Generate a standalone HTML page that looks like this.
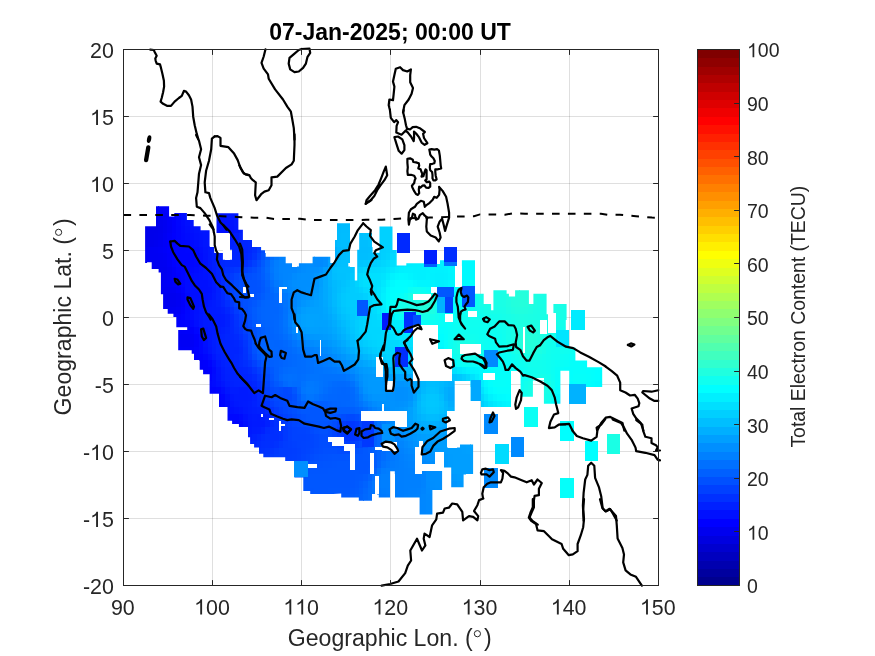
<!DOCTYPE html>
<html><head><meta charset="utf-8"><style>html,body{margin:0;padding:0;background:#fff;overflow:hidden}svg{display:block;will-change:transform}</style></head>
<body><svg width="875" height="656" viewBox="0 0 875 656">
<rect width="875" height="656" fill="#fff"/>
<g stroke="#262626" stroke-opacity="0.15" stroke-width="1"><line x1="212.50" y1="49.5" x2="212.50" y2="585.5"/><line x1="301.50" y1="49.5" x2="301.50" y2="585.5"/><line x1="390.50" y1="49.5" x2="390.50" y2="585.5"/><line x1="480.50" y1="49.5" x2="480.50" y2="585.5"/><line x1="569.50" y1="49.5" x2="569.50" y2="585.5"/><line x1="123.5" y1="518.50" x2="658.5" y2="518.50"/><line x1="123.5" y1="451.50" x2="658.5" y2="451.50"/><line x1="123.5" y1="384.50" x2="658.5" y2="384.50"/><line x1="123.5" y1="317.50" x2="658.5" y2="317.50"/><line x1="123.5" y1="250.50" x2="658.5" y2="250.50"/><line x1="123.5" y1="183.50" x2="658.5" y2="183.50"/><line x1="123.5" y1="116.50" x2="658.5" y2="116.50"/></g>
<clipPath id="cm"><polygon points="145.1,226.3 156.0,226.3 156.0,206.3 169.1,206.3 169.1,216.6 174.3,216.6 174.3,213.1 186.9,213.1 186.9,220.0 193.7,220.0 193.7,226.3 200.6,226.3 200.6,230.3 209.6,230.3 209.6,246.6 214.2,246.6 214.2,253.0 222.9,253.0 222.9,259.8 232.0,259.8 232.0,249.8 229.7,249.8 229.7,232.9 216.5,232.9 216.5,213.2 238.4,213.2 238.4,229.7 242.9,229.7 242.9,240.0 252.0,240.0 252.0,246.9 261.1,246.9 261.1,250.3 265.7,250.3 265.7,256.8 285.7,256.8 285.7,263.2 292.0,263.2 292.0,266.6 298.9,266.6 298.9,263.2 312.6,263.2 312.6,256.8 330.3,256.8 330.3,262.9 335.0,262.9 335.0,239.8 336.9,239.8 336.9,223.2 350.3,223.2 350.3,263.1 348.3,263.1 348.3,266.5 354.8,266.5 354.8,280.4 357.2,280.4 357.2,249.7 359.2,249.7 359.2,232.9 372.6,232.9 372.6,252.7 379.5,252.7 379.5,226.4 392.5,226.4 392.5,249.9 396.7,249.9 396.7,265.5 406.3,265.5 406.3,263.2 424.4,263.2 424.4,266.7 436.7,266.7 436.7,264.0 440.0,264.0 440.0,260.3 455.1,260.3 455.1,266.0 461.9,266.0 461.9,260.3 475.0,260.3 475.0,381.0 454.7,381.0 454.7,411.0 447.0,411.0 447.0,447.4 460.0,447.4 460.0,444.4 473.1,444.4 473.1,474.4 463.6,474.4 463.6,487.2 451.2,487.2 451.2,467.5 442.1,467.5 442.1,490.0 432.4,490.0 432.4,514.4 419.6,514.4 419.6,497.6 394.8,497.6 394.8,471.2 390.0,471.2 390.0,497.6 378.8,497.6 378.8,494.4 372.4,494.4 372.4,500.8 358.8,500.8 358.8,497.6 341.2,497.6 341.2,493.6 325.0,494.5 310.2,494.5 310.2,490.9 303.3,490.9 303.3,477.4 294.4,477.4 294.4,461.0 285.2,461.0 285.2,457.3 263.3,457.3 263.3,453.7 259.0,453.7 259.0,447.6 254.1,447.6 254.1,443.9 250.1,443.9 250.1,437.2 247.9,437.2 247.9,427.4 238.9,427.4 238.9,423.9 232.1,423.9 232.1,420.7 227.5,420.7 227.5,407.0 219.0,407.0 219.0,393.7 209.6,393.7 209.6,374.3 203.1,374.3 203.1,369.7 199.7,369.7 199.7,360.6 194.0,360.6 194.0,353.7 191.7,353.7 191.7,350.3 178.2,350.3 178.2,330.1 187.2,330.1 187.2,327.3 176.3,327.3 176.3,317.1 173.4,317.1 173.4,313.7 167.7,313.7 167.7,309.1 163.1,309.1 163.1,294.3 160.9,294.3 160.9,272.6 158.6,272.6 158.6,269.1 151.7,269.1 151.7,262.3 147.1,262.3 147.1,262.9 145.1,262.9"/><polygon points="475.0,293.7 483.7,293.7 483.7,304.0 491.1,304.0 491.1,310.3 493.4,310.3 493.4,290.3 506.6,290.3 506.6,293.7 508.9,293.7 508.9,296.6 515.1,296.6 515.1,290.3 528.9,290.3 528.9,304.0 533.4,304.0 533.4,293.7 546.6,293.7 546.6,314.3 553.4,314.3 553.4,304.0 566.6,304.0 566.6,320.0 565.8,320.0 565.8,330.3 568.6,330.3 568.6,347.4 575.4,347.4 575.4,360.5 587.1,360.5 587.1,367.3 602.2,367.3 602.2,387.2 586.4,387.2 586.4,403.7 569.3,403.7 569.3,370.8 560.4,370.8 560.4,403.7 543.9,403.7 543.9,380.4 532.9,380.4 532.9,396.8 520.6,396.8 520.6,372.1 511.0,372.1 511.0,406.9 480.9,406.9 480.9,400.9 470.6,400.9 470.6,380.3 475.0,380.3"/></clipPath>
<g clip-path="url(#cm)" shape-rendering="crispEdges"><rect x="154.01" y="206.30" width="4.51" height="6.75" fill="#0000f4"/><rect x="158.47" y="206.30" width="4.51" height="6.75" fill="#0000f6"/><rect x="162.93" y="206.30" width="4.51" height="6.75" fill="#0000fa"/><rect x="167.38" y="206.30" width="4.51" height="6.75" fill="#0000ff"/><rect x="154.01" y="213.00" width="4.51" height="6.75" fill="#0000ef"/><rect x="158.47" y="213.00" width="4.51" height="6.75" fill="#0000f1"/><rect x="162.93" y="213.00" width="4.51" height="6.75" fill="#0000f5"/><rect x="167.38" y="213.00" width="4.51" height="6.75" fill="#0000fa"/><rect x="171.84" y="213.00" width="4.51" height="6.75" fill="#0001ff"/><rect x="176.30" y="213.00" width="4.51" height="6.75" fill="#0007ff"/><rect x="180.76" y="213.00" width="4.51" height="6.75" fill="#000dff"/><rect x="185.21" y="213.00" width="4.51" height="6.75" fill="#0011ff"/><rect x="216.41" y="213.00" width="4.51" height="6.75" fill="#0014ff"/><rect x="220.87" y="213.00" width="4.51" height="6.75" fill="#0013ff"/><rect x="225.33" y="213.00" width="4.51" height="6.75" fill="#0014ff"/><rect x="229.78" y="213.00" width="4.51" height="6.75" fill="#0016ff"/><rect x="234.24" y="213.00" width="4.51" height="6.75" fill="#001aff"/><rect x="154.01" y="219.70" width="4.51" height="6.75" fill="#0000ec"/><rect x="158.47" y="219.70" width="4.51" height="6.75" fill="#0000ee"/><rect x="162.93" y="219.70" width="4.51" height="6.75" fill="#0000f1"/><rect x="167.38" y="219.70" width="4.51" height="6.75" fill="#0000f7"/><rect x="171.84" y="219.70" width="4.51" height="6.75" fill="#0000fd"/><rect x="176.30" y="219.70" width="4.51" height="6.75" fill="#0005ff"/><rect x="180.76" y="219.70" width="4.51" height="6.75" fill="#000aff"/><rect x="185.21" y="219.70" width="4.51" height="6.75" fill="#000fff"/><rect x="189.67" y="219.70" width="4.51" height="6.75" fill="#0013ff"/><rect x="216.41" y="219.70" width="4.51" height="6.75" fill="#0011ff"/><rect x="220.87" y="219.70" width="8.96" height="6.75" fill="#0010ff"/><rect x="229.78" y="219.70" width="4.51" height="6.75" fill="#0012ff"/><rect x="234.24" y="219.70" width="4.51" height="6.75" fill="#0016ff"/><rect x="336.75" y="219.70" width="4.51" height="6.75" fill="#00b9ff"/><rect x="341.21" y="219.70" width="4.51" height="6.75" fill="#00bbff"/><rect x="345.66" y="219.70" width="4.51" height="6.75" fill="#00bcff"/><rect x="145.10" y="226.40" width="13.42" height="6.75" fill="#0000eb"/><rect x="158.47" y="226.40" width="4.51" height="6.75" fill="#0000ed"/><rect x="162.93" y="226.40" width="4.51" height="6.75" fill="#0000f1"/><rect x="167.38" y="226.40" width="4.51" height="6.75" fill="#0000f6"/><rect x="171.84" y="226.40" width="4.51" height="6.75" fill="#0000fd"/><rect x="176.30" y="226.40" width="4.51" height="6.75" fill="#0004ff"/><rect x="180.76" y="226.40" width="4.51" height="6.75" fill="#0009ff"/><rect x="185.21" y="226.40" width="4.51" height="6.75" fill="#000dff"/><rect x="189.67" y="226.40" width="4.51" height="6.75" fill="#0010ff"/><rect x="194.13" y="226.40" width="4.51" height="6.75" fill="#0013ff"/><rect x="198.58" y="226.40" width="8.96" height="6.75" fill="#0015ff"/><rect x="207.50" y="226.40" width="4.51" height="6.75" fill="#0013ff"/><rect x="216.41" y="226.40" width="4.51" height="6.75" fill="#0010ff"/><rect x="220.87" y="226.40" width="8.96" height="6.75" fill="#000fff"/><rect x="229.78" y="226.40" width="4.51" height="6.75" fill="#0011ff"/><rect x="234.24" y="226.40" width="4.51" height="6.75" fill="#0015ff"/><rect x="238.70" y="226.40" width="4.51" height="6.75" fill="#001cff"/><rect x="336.75" y="226.40" width="4.51" height="6.75" fill="#00bbff"/><rect x="341.21" y="226.40" width="8.96" height="6.75" fill="#00bcff"/><rect x="376.86" y="226.40" width="4.51" height="6.75" fill="#00d0ff"/><rect x="381.32" y="226.40" width="13.42" height="6.75" fill="#00d1ff"/><rect x="145.10" y="233.10" width="8.96" height="6.75" fill="#0000eb"/><rect x="154.01" y="233.10" width="4.51" height="6.75" fill="#0000ec"/><rect x="158.47" y="233.10" width="4.51" height="6.75" fill="#0000ee"/><rect x="162.93" y="233.10" width="4.51" height="6.75" fill="#0000f3"/><rect x="167.38" y="233.10" width="4.51" height="6.75" fill="#0000f9"/><rect x="171.84" y="233.10" width="4.51" height="6.75" fill="#0000ff"/><rect x="176.30" y="233.10" width="4.51" height="6.75" fill="#0004ff"/><rect x="180.76" y="233.10" width="4.51" height="6.75" fill="#0008ff"/><rect x="185.21" y="233.10" width="4.51" height="6.75" fill="#000bff"/><rect x="189.67" y="233.10" width="4.51" height="6.75" fill="#000eff"/><rect x="194.13" y="233.10" width="4.51" height="6.75" fill="#0011ff"/><rect x="198.58" y="233.10" width="4.51" height="6.75" fill="#0013ff"/><rect x="203.04" y="233.10" width="4.51" height="6.75" fill="#0015ff"/><rect x="207.50" y="233.10" width="4.51" height="6.75" fill="#0014ff"/><rect x="229.78" y="233.10" width="4.51" height="6.75" fill="#0015ff"/><rect x="234.24" y="233.10" width="4.51" height="6.75" fill="#001bff"/><rect x="238.70" y="233.10" width="4.51" height="6.75" fill="#0021ff"/><rect x="336.75" y="233.10" width="4.51" height="6.75" fill="#00bcff"/><rect x="341.21" y="233.10" width="8.96" height="6.75" fill="#00bdff"/><rect x="359.04" y="233.10" width="4.51" height="6.75" fill="#00c0ff"/><rect x="363.49" y="233.10" width="4.51" height="6.75" fill="#00c3ff"/><rect x="367.95" y="233.10" width="4.51" height="6.75" fill="#00c7ff"/><rect x="376.86" y="233.10" width="4.51" height="6.75" fill="#00d0ff"/><rect x="381.32" y="233.10" width="13.42" height="6.75" fill="#00d1ff"/><rect x="145.10" y="239.80" width="8.96" height="6.75" fill="#0000ee"/><rect x="154.01" y="239.80" width="4.51" height="6.75" fill="#0000f0"/><rect x="158.47" y="239.80" width="4.51" height="6.75" fill="#0000f3"/><rect x="162.93" y="239.80" width="4.51" height="6.75" fill="#0000f8"/><rect x="167.38" y="239.80" width="4.51" height="6.75" fill="#0000fd"/><rect x="171.84" y="239.80" width="4.51" height="6.75" fill="#0002ff"/><rect x="176.30" y="239.80" width="4.51" height="6.75" fill="#0005ff"/><rect x="180.76" y="239.80" width="4.51" height="6.75" fill="#0007ff"/><rect x="185.21" y="239.80" width="4.51" height="6.75" fill="#0008ff"/><rect x="189.67" y="239.80" width="4.51" height="6.75" fill="#000aff"/><rect x="194.13" y="239.80" width="4.51" height="6.75" fill="#000dff"/><rect x="198.58" y="239.80" width="4.51" height="6.75" fill="#0011ff"/><rect x="203.04" y="239.80" width="4.51" height="6.75" fill="#0015ff"/><rect x="207.50" y="239.80" width="4.51" height="6.75" fill="#0016ff"/><rect x="229.78" y="239.80" width="4.51" height="6.75" fill="#0020ff"/><rect x="234.24" y="239.80" width="4.51" height="6.75" fill="#0023ff"/><rect x="238.70" y="239.80" width="4.51" height="6.75" fill="#0024ff"/><rect x="243.15" y="239.80" width="4.51" height="6.75" fill="#0025ff"/><rect x="247.61" y="239.80" width="4.51" height="6.75" fill="#0027ff"/><rect x="332.29" y="239.80" width="4.51" height="6.75" fill="#00b8ff"/><rect x="336.75" y="239.80" width="4.51" height="6.75" fill="#00bcff"/><rect x="341.21" y="239.80" width="8.96" height="6.75" fill="#00bdff"/><rect x="359.04" y="239.80" width="8.96" height="6.75" fill="#00beff"/><rect x="367.95" y="239.80" width="4.51" height="6.75" fill="#00c1ff"/><rect x="376.86" y="239.80" width="4.51" height="6.75" fill="#00d0ff"/><rect x="381.32" y="239.80" width="13.42" height="6.75" fill="#00d1ff"/><rect x="145.10" y="246.50" width="4.51" height="6.75" fill="#0000f3"/><rect x="149.56" y="246.50" width="4.51" height="6.75" fill="#0000f4"/><rect x="154.01" y="246.50" width="4.51" height="6.75" fill="#0000f5"/><rect x="158.47" y="246.50" width="4.51" height="6.75" fill="#0000f7"/><rect x="162.93" y="246.50" width="4.51" height="6.75" fill="#0000fa"/><rect x="167.38" y="246.50" width="4.51" height="6.75" fill="#0000fe"/><rect x="171.84" y="246.50" width="4.51" height="6.75" fill="#0003ff"/><rect x="176.30" y="246.50" width="8.96" height="6.75" fill="#0005ff"/><rect x="185.21" y="246.50" width="4.51" height="6.75" fill="#0006ff"/><rect x="189.67" y="246.50" width="4.51" height="6.75" fill="#0007ff"/><rect x="194.13" y="246.50" width="4.51" height="6.75" fill="#000aff"/><rect x="198.58" y="246.50" width="4.51" height="6.75" fill="#000eff"/><rect x="203.04" y="246.50" width="4.51" height="6.75" fill="#0013ff"/><rect x="207.50" y="246.50" width="4.51" height="6.75" fill="#0018ff"/><rect x="211.95" y="246.50" width="4.51" height="6.75" fill="#001bff"/><rect x="229.78" y="246.50" width="17.88" height="6.75" fill="#0024ff"/><rect x="247.61" y="246.50" width="4.51" height="6.75" fill="#0027ff"/><rect x="252.07" y="246.50" width="4.51" height="6.75" fill="#002eff"/><rect x="256.52" y="246.50" width="4.51" height="6.75" fill="#003aff"/><rect x="260.98" y="246.50" width="4.51" height="6.75" fill="#004aff"/><rect x="332.29" y="246.50" width="4.51" height="6.75" fill="#00b0ff"/><rect x="336.75" y="246.50" width="4.51" height="6.75" fill="#00b8ff"/><rect x="341.21" y="246.50" width="4.51" height="6.75" fill="#00bbff"/><rect x="345.66" y="246.50" width="4.51" height="6.75" fill="#00bcff"/><rect x="354.58" y="246.50" width="13.42" height="6.75" fill="#00bdff"/><rect x="367.95" y="246.50" width="4.51" height="6.75" fill="#00beff"/><rect x="372.41" y="246.50" width="4.51" height="6.75" fill="#00c3ff"/><rect x="376.86" y="246.50" width="4.51" height="6.75" fill="#00cbff"/><rect x="381.32" y="246.50" width="4.51" height="6.75" fill="#00cfff"/><rect x="385.78" y="246.50" width="4.51" height="6.75" fill="#00d1ff"/><rect x="390.24" y="246.50" width="4.51" height="6.75" fill="#00d2ff"/><rect x="394.69" y="246.50" width="4.51" height="6.75" fill="#00d4ff"/><rect x="145.10" y="253.20" width="4.51" height="6.75" fill="#0000f5"/><rect x="149.56" y="253.20" width="8.96" height="6.75" fill="#0000f4"/><rect x="158.47" y="253.20" width="4.51" height="6.75" fill="#0000f5"/><rect x="162.93" y="253.20" width="4.51" height="6.75" fill="#0000f7"/><rect x="167.38" y="253.20" width="4.51" height="6.75" fill="#0000fc"/><rect x="171.84" y="253.20" width="4.51" height="6.75" fill="#0003ff"/><rect x="176.30" y="253.20" width="13.42" height="6.75" fill="#0005ff"/><rect x="189.67" y="253.20" width="4.51" height="6.75" fill="#0006ff"/><rect x="194.13" y="253.20" width="4.51" height="6.75" fill="#0008ff"/><rect x="198.58" y="253.20" width="4.51" height="6.75" fill="#000cff"/><rect x="203.04" y="253.20" width="4.51" height="6.75" fill="#0012ff"/><rect x="207.50" y="253.20" width="4.51" height="6.75" fill="#0018ff"/><rect x="211.95" y="253.20" width="4.51" height="6.75" fill="#001dff"/><rect x="216.41" y="253.20" width="4.51" height="6.75" fill="#0021ff"/><rect x="220.87" y="253.20" width="4.51" height="6.75" fill="#0024ff"/><rect x="229.78" y="253.20" width="13.42" height="6.75" fill="#0025ff"/><rect x="243.15" y="253.20" width="4.51" height="6.75" fill="#0026ff"/><rect x="247.61" y="253.20" width="4.51" height="6.75" fill="#002aff"/><rect x="252.07" y="253.20" width="4.51" height="6.75" fill="#0033ff"/><rect x="256.52" y="253.20" width="4.51" height="6.75" fill="#0041ff"/><rect x="260.98" y="253.20" width="4.51" height="6.75" fill="#0051ff"/><rect x="265.44" y="253.20" width="4.51" height="6.75" fill="#0061ff"/><rect x="269.90" y="253.20" width="4.51" height="6.75" fill="#006fff"/><rect x="274.35" y="253.20" width="4.51" height="6.75" fill="#0079ff"/><rect x="278.81" y="253.20" width="4.51" height="6.75" fill="#0080ff"/><rect x="283.27" y="253.20" width="4.51" height="6.75" fill="#0083ff"/><rect x="310.01" y="253.20" width="4.51" height="6.75" fill="#008cff"/><rect x="314.47" y="253.20" width="8.96" height="6.75" fill="#008aff"/><rect x="323.38" y="253.20" width="4.51" height="6.75" fill="#008dff"/><rect x="327.84" y="253.20" width="4.51" height="6.75" fill="#009aff"/><rect x="332.29" y="253.20" width="4.51" height="6.75" fill="#00acff"/><rect x="336.75" y="253.20" width="4.51" height="6.75" fill="#00b7ff"/><rect x="341.21" y="253.20" width="4.51" height="6.75" fill="#00bbff"/><rect x="345.66" y="253.20" width="4.51" height="6.75" fill="#00bdff"/><rect x="354.58" y="253.20" width="4.51" height="6.75" fill="#00bfff"/><rect x="359.04" y="253.20" width="8.96" height="6.75" fill="#00beff"/><rect x="367.95" y="253.20" width="4.51" height="6.75" fill="#00c0ff"/><rect x="372.41" y="253.20" width="4.51" height="6.75" fill="#00c5ff"/><rect x="376.86" y="253.20" width="4.51" height="6.75" fill="#00cbff"/><rect x="381.32" y="253.20" width="4.51" height="6.75" fill="#00d0ff"/><rect x="385.78" y="253.20" width="4.51" height="6.75" fill="#00d3ff"/><rect x="390.24" y="253.20" width="4.51" height="6.75" fill="#00d7ff"/><rect x="394.69" y="253.20" width="4.51" height="6.75" fill="#00daff"/><rect x="145.10" y="259.90" width="4.51" height="6.75" fill="#0000f3"/><rect x="149.56" y="259.90" width="4.51" height="6.75" fill="#0000f2"/><rect x="154.01" y="259.90" width="8.96" height="6.75" fill="#0000f1"/><rect x="162.93" y="259.90" width="4.51" height="6.75" fill="#0000f2"/><rect x="167.38" y="259.90" width="4.51" height="6.75" fill="#0000f7"/><rect x="171.84" y="259.90" width="4.51" height="6.75" fill="#0001ff"/><rect x="176.30" y="259.90" width="13.42" height="6.75" fill="#0005ff"/><rect x="189.67" y="259.90" width="4.51" height="6.75" fill="#0006ff"/><rect x="194.13" y="259.90" width="4.51" height="6.75" fill="#0008ff"/><rect x="198.58" y="259.90" width="4.51" height="6.75" fill="#000cff"/><rect x="203.04" y="259.90" width="4.51" height="6.75" fill="#0012ff"/><rect x="207.50" y="259.90" width="4.51" height="6.75" fill="#0018ff"/><rect x="211.95" y="259.90" width="4.51" height="6.75" fill="#001eff"/><rect x="216.41" y="259.90" width="4.51" height="6.75" fill="#0023ff"/><rect x="220.87" y="259.90" width="4.51" height="6.75" fill="#0027ff"/><rect x="225.33" y="259.90" width="4.51" height="6.75" fill="#0029ff"/><rect x="229.78" y="259.90" width="8.96" height="6.75" fill="#002aff"/><rect x="238.70" y="259.90" width="4.51" height="6.75" fill="#002cff"/><rect x="243.15" y="259.90" width="4.51" height="6.75" fill="#002fff"/><rect x="247.61" y="259.90" width="4.51" height="6.75" fill="#0036ff"/><rect x="252.07" y="259.90" width="4.51" height="6.75" fill="#0040ff"/><rect x="256.52" y="259.90" width="4.51" height="6.75" fill="#004cff"/><rect x="260.98" y="259.90" width="4.51" height="6.75" fill="#005aff"/><rect x="265.44" y="259.90" width="4.51" height="6.75" fill="#0068ff"/><rect x="269.90" y="259.90" width="4.51" height="6.75" fill="#0075ff"/><rect x="274.35" y="259.90" width="4.51" height="6.75" fill="#007eff"/><rect x="278.81" y="259.90" width="4.51" height="6.75" fill="#0083ff"/><rect x="283.27" y="259.90" width="4.51" height="6.75" fill="#0084ff"/><rect x="287.72" y="259.90" width="4.51" height="6.75" fill="#0085ff"/><rect x="296.64" y="259.90" width="4.51" height="6.75" fill="#0088ff"/><rect x="301.10" y="259.90" width="4.51" height="6.75" fill="#008bff"/><rect x="305.55" y="259.90" width="4.51" height="6.75" fill="#008dff"/><rect x="310.01" y="259.90" width="4.51" height="6.75" fill="#008cff"/><rect x="314.47" y="259.90" width="8.96" height="6.75" fill="#008aff"/><rect x="323.38" y="259.90" width="4.51" height="6.75" fill="#008eff"/><rect x="327.84" y="259.90" width="4.51" height="6.75" fill="#00a2ff"/><rect x="332.29" y="259.90" width="4.51" height="6.75" fill="#00b8ff"/><rect x="336.75" y="259.90" width="4.51" height="6.75" fill="#00bfff"/><rect x="341.21" y="259.90" width="8.96" height="6.75" fill="#00c0ff"/><rect x="354.58" y="259.90" width="4.51" height="6.75" fill="#00c4ff"/><rect x="359.04" y="259.90" width="4.51" height="6.75" fill="#00c6ff"/><rect x="363.49" y="259.90" width="4.51" height="6.75" fill="#00c8ff"/><rect x="367.95" y="259.90" width="4.51" height="6.75" fill="#00cbff"/><rect x="372.41" y="259.90" width="4.51" height="6.75" fill="#00cfff"/><rect x="376.86" y="259.90" width="4.51" height="6.75" fill="#00d2ff"/><rect x="381.32" y="259.90" width="4.51" height="6.75" fill="#00d6ff"/><rect x="385.78" y="259.90" width="4.51" height="6.75" fill="#00daff"/><rect x="390.24" y="259.90" width="4.51" height="6.75" fill="#00dfff"/><rect x="394.69" y="259.90" width="4.51" height="6.75" fill="#00e3ff"/><rect x="399.15" y="259.90" width="4.51" height="6.75" fill="#00e8ff"/><rect x="403.61" y="259.90" width="4.51" height="6.75" fill="#00ecff"/><rect x="408.06" y="259.90" width="4.51" height="6.75" fill="#00eeff"/><rect x="412.52" y="259.90" width="4.51" height="6.75" fill="#00efff"/><rect x="416.98" y="259.90" width="8.96" height="6.75" fill="#00f0ff"/><rect x="434.80" y="259.90" width="8.96" height="6.75" fill="#00f2ff"/><rect x="443.72" y="259.90" width="4.51" height="6.75" fill="#00f4ff"/><rect x="448.18" y="259.90" width="4.51" height="6.75" fill="#00f5ff"/><rect x="452.63" y="259.90" width="4.51" height="6.75" fill="#00f7ff"/><rect x="457.09" y="259.90" width="4.51" height="6.75" fill="#00f9ff"/><rect x="461.55" y="259.90" width="13.42" height="6.75" fill="#00faff"/><rect x="149.56" y="266.60" width="4.51" height="6.75" fill="#0000f1"/><rect x="154.01" y="266.60" width="13.42" height="6.75" fill="#0000f0"/><rect x="167.38" y="266.60" width="4.51" height="6.75" fill="#0000f4"/><rect x="171.84" y="266.60" width="4.51" height="6.75" fill="#0000fb"/><rect x="176.30" y="266.60" width="4.51" height="6.75" fill="#0003ff"/><rect x="180.76" y="266.60" width="4.51" height="6.75" fill="#0005ff"/><rect x="185.21" y="266.60" width="4.51" height="6.75" fill="#0006ff"/><rect x="189.67" y="266.60" width="4.51" height="6.75" fill="#0008ff"/><rect x="194.13" y="266.60" width="4.51" height="6.75" fill="#000bff"/><rect x="198.58" y="266.60" width="4.51" height="6.75" fill="#000fff"/><rect x="203.04" y="266.60" width="4.51" height="6.75" fill="#0013ff"/><rect x="207.50" y="266.60" width="4.51" height="6.75" fill="#0017ff"/><rect x="211.95" y="266.60" width="4.51" height="6.75" fill="#001dff"/><rect x="216.41" y="266.60" width="4.51" height="6.75" fill="#0023ff"/><rect x="220.87" y="266.60" width="4.51" height="6.75" fill="#0029ff"/><rect x="225.33" y="266.60" width="4.51" height="6.75" fill="#002fff"/><rect x="229.78" y="266.60" width="4.51" height="6.75" fill="#0033ff"/><rect x="234.24" y="266.60" width="4.51" height="6.75" fill="#0037ff"/><rect x="238.70" y="266.60" width="4.51" height="6.75" fill="#003bff"/><rect x="243.15" y="266.60" width="4.51" height="6.75" fill="#0040ff"/><rect x="247.61" y="266.60" width="4.51" height="6.75" fill="#0046ff"/><rect x="252.07" y="266.60" width="4.51" height="6.75" fill="#004cff"/><rect x="256.52" y="266.60" width="4.51" height="6.75" fill="#0054ff"/><rect x="260.98" y="266.60" width="4.51" height="6.75" fill="#005fff"/><rect x="265.44" y="266.60" width="4.51" height="6.75" fill="#006bff"/><rect x="269.90" y="266.60" width="4.51" height="6.75" fill="#0077ff"/><rect x="274.35" y="266.60" width="4.51" height="6.75" fill="#007fff"/><rect x="278.81" y="266.60" width="4.51" height="6.75" fill="#0084ff"/><rect x="283.27" y="266.60" width="13.42" height="6.75" fill="#0085ff"/><rect x="296.64" y="266.60" width="4.51" height="6.75" fill="#0089ff"/><rect x="301.10" y="266.60" width="4.51" height="6.75" fill="#008cff"/><rect x="305.55" y="266.60" width="4.51" height="6.75" fill="#008eff"/><rect x="310.01" y="266.60" width="4.51" height="6.75" fill="#008fff"/><rect x="314.47" y="266.60" width="4.51" height="6.75" fill="#0090ff"/><rect x="318.92" y="266.60" width="4.51" height="6.75" fill="#0093ff"/><rect x="323.38" y="266.60" width="4.51" height="6.75" fill="#009eff"/><rect x="327.84" y="266.60" width="4.51" height="6.75" fill="#00b3ff"/><rect x="332.29" y="266.60" width="4.51" height="6.75" fill="#00c0ff"/><rect x="336.75" y="266.60" width="13.42" height="6.75" fill="#00c2ff"/><rect x="350.12" y="266.60" width="4.51" height="6.75" fill="#00c4ff"/><rect x="354.58" y="266.60" width="4.51" height="6.75" fill="#00cbff"/><rect x="359.04" y="266.60" width="4.51" height="6.75" fill="#00d2ff"/><rect x="363.49" y="266.60" width="4.51" height="6.75" fill="#00d8ff"/><rect x="367.95" y="266.60" width="8.96" height="6.75" fill="#00dbff"/><rect x="376.86" y="266.60" width="4.51" height="6.75" fill="#00dcff"/><rect x="381.32" y="266.60" width="4.51" height="6.75" fill="#00deff"/><rect x="385.78" y="266.60" width="4.51" height="6.75" fill="#00e3ff"/><rect x="390.24" y="266.60" width="4.51" height="6.75" fill="#00e8ff"/><rect x="394.69" y="266.60" width="4.51" height="6.75" fill="#00edff"/><rect x="399.15" y="266.60" width="4.51" height="6.75" fill="#00f0ff"/><rect x="403.61" y="266.60" width="8.96" height="6.75" fill="#00f1ff"/><rect x="412.52" y="266.60" width="13.42" height="6.75" fill="#00f0ff"/><rect x="425.89" y="266.60" width="4.51" height="6.75" fill="#00f1ff"/><rect x="430.35" y="266.60" width="4.51" height="6.75" fill="#00f2ff"/><rect x="434.80" y="266.60" width="8.96" height="6.75" fill="#00f1ff"/><rect x="443.72" y="266.60" width="4.51" height="6.75" fill="#00f2ff"/><rect x="448.18" y="266.60" width="4.51" height="6.75" fill="#00f5ff"/><rect x="452.63" y="266.60" width="4.51" height="6.75" fill="#00f7ff"/><rect x="457.09" y="266.60" width="4.51" height="6.75" fill="#00f9ff"/><rect x="461.55" y="266.60" width="13.42" height="6.75" fill="#00faff"/><rect x="158.47" y="273.30" width="4.51" height="6.75" fill="#0000f0"/><rect x="162.93" y="273.30" width="4.51" height="6.75" fill="#0000f1"/><rect x="167.38" y="273.30" width="4.51" height="6.75" fill="#0000f5"/><rect x="171.84" y="273.30" width="4.51" height="6.75" fill="#0000fa"/><rect x="176.30" y="273.30" width="4.51" height="6.75" fill="#0001ff"/><rect x="180.76" y="273.30" width="4.51" height="6.75" fill="#0005ff"/><rect x="185.21" y="273.30" width="4.51" height="6.75" fill="#0009ff"/><rect x="189.67" y="273.30" width="4.51" height="6.75" fill="#000cff"/><rect x="194.13" y="273.30" width="4.51" height="6.75" fill="#000eff"/><rect x="198.58" y="273.30" width="4.51" height="6.75" fill="#0010ff"/><rect x="203.04" y="273.30" width="4.51" height="6.75" fill="#0012ff"/><rect x="207.50" y="273.30" width="4.51" height="6.75" fill="#0015ff"/><rect x="211.95" y="273.30" width="4.51" height="6.75" fill="#001bff"/><rect x="216.41" y="273.30" width="4.51" height="6.75" fill="#0022ff"/><rect x="220.87" y="273.30" width="4.51" height="6.75" fill="#002bff"/><rect x="225.33" y="273.30" width="4.51" height="6.75" fill="#0033ff"/><rect x="229.78" y="273.30" width="4.51" height="6.75" fill="#003bff"/><rect x="234.24" y="273.30" width="4.51" height="6.75" fill="#0043ff"/><rect x="238.70" y="273.30" width="4.51" height="6.75" fill="#0049ff"/><rect x="243.15" y="273.30" width="4.51" height="6.75" fill="#004dff"/><rect x="247.61" y="273.30" width="4.51" height="6.75" fill="#004fff"/><rect x="252.07" y="273.30" width="4.51" height="6.75" fill="#0052ff"/><rect x="256.52" y="273.30" width="4.51" height="6.75" fill="#0056ff"/><rect x="260.98" y="273.30" width="4.51" height="6.75" fill="#005eff"/><rect x="265.44" y="273.30" width="4.51" height="6.75" fill="#0068ff"/><rect x="269.90" y="273.30" width="4.51" height="6.75" fill="#0074ff"/><rect x="274.35" y="273.30" width="4.51" height="6.75" fill="#007eff"/><rect x="278.81" y="273.30" width="4.51" height="6.75" fill="#0083ff"/><rect x="283.27" y="273.30" width="4.51" height="6.75" fill="#0085ff"/><rect x="287.72" y="273.30" width="4.51" height="6.75" fill="#0086ff"/><rect x="292.18" y="273.30" width="4.51" height="6.75" fill="#008bff"/><rect x="296.64" y="273.30" width="4.51" height="6.75" fill="#008eff"/><rect x="301.10" y="273.30" width="8.96" height="6.75" fill="#008fff"/><rect x="310.01" y="273.30" width="4.51" height="6.75" fill="#0091ff"/><rect x="314.47" y="273.30" width="4.51" height="6.75" fill="#0095ff"/><rect x="318.92" y="273.30" width="4.51" height="6.75" fill="#009dff"/><rect x="323.38" y="273.30" width="4.51" height="6.75" fill="#00a8ff"/><rect x="327.84" y="273.30" width="4.51" height="6.75" fill="#00b5ff"/><rect x="332.29" y="273.30" width="4.51" height="6.75" fill="#00beff"/><rect x="336.75" y="273.30" width="8.96" height="6.75" fill="#00c1ff"/><rect x="345.66" y="273.30" width="4.51" height="6.75" fill="#00c3ff"/><rect x="350.12" y="273.30" width="4.51" height="6.75" fill="#00c8ff"/><rect x="354.58" y="273.30" width="4.51" height="6.75" fill="#00d1ff"/><rect x="359.04" y="273.30" width="4.51" height="6.75" fill="#00dbff"/><rect x="363.49" y="273.30" width="4.51" height="6.75" fill="#00dfff"/><rect x="367.95" y="273.30" width="13.42" height="6.75" fill="#00e0ff"/><rect x="381.32" y="273.30" width="4.51" height="6.75" fill="#00e3ff"/><rect x="385.78" y="273.30" width="4.51" height="6.75" fill="#00eaff"/><rect x="390.24" y="273.30" width="4.51" height="6.75" fill="#00f2ff"/><rect x="394.69" y="273.30" width="4.51" height="6.75" fill="#00f6ff"/><rect x="399.15" y="273.30" width="4.51" height="6.75" fill="#00f8ff"/><rect x="403.61" y="273.30" width="4.51" height="6.75" fill="#00f7ff"/><rect x="408.06" y="273.30" width="4.51" height="6.75" fill="#00f4ff"/><rect x="412.52" y="273.30" width="4.51" height="6.75" fill="#00f1ff"/><rect x="416.98" y="273.30" width="8.96" height="6.75" fill="#00f0ff"/><rect x="425.89" y="273.30" width="4.51" height="6.75" fill="#00f2ff"/><rect x="430.35" y="273.30" width="4.51" height="6.75" fill="#00f1ff"/><rect x="434.80" y="273.30" width="8.96" height="6.75" fill="#00f0ff"/><rect x="443.72" y="273.30" width="4.51" height="6.75" fill="#00f1ff"/><rect x="448.18" y="273.30" width="4.51" height="6.75" fill="#00f4ff"/><rect x="452.63" y="273.30" width="4.51" height="6.75" fill="#00f7ff"/><rect x="457.09" y="273.30" width="17.88" height="6.75" fill="#00faff"/><rect x="158.47" y="280.00" width="4.51" height="6.75" fill="#0000f4"/><rect x="162.93" y="280.00" width="4.51" height="6.75" fill="#0000f5"/><rect x="167.38" y="280.00" width="4.51" height="6.75" fill="#0000f7"/><rect x="171.84" y="280.00" width="4.51" height="6.75" fill="#0000fa"/><rect x="176.30" y="280.00" width="4.51" height="6.75" fill="#0000fe"/><rect x="180.76" y="280.00" width="4.51" height="6.75" fill="#0005ff"/><rect x="185.21" y="280.00" width="4.51" height="6.75" fill="#000bff"/><rect x="189.67" y="280.00" width="4.51" height="6.75" fill="#000eff"/><rect x="194.13" y="280.00" width="4.51" height="6.75" fill="#000fff"/><rect x="198.58" y="280.00" width="8.96" height="6.75" fill="#0010ff"/><rect x="207.50" y="280.00" width="4.51" height="6.75" fill="#0013ff"/><rect x="211.95" y="280.00" width="4.51" height="6.75" fill="#0018ff"/><rect x="216.41" y="280.00" width="4.51" height="6.75" fill="#0020ff"/><rect x="220.87" y="280.00" width="4.51" height="6.75" fill="#002bff"/><rect x="225.33" y="280.00" width="4.51" height="6.75" fill="#0036ff"/><rect x="229.78" y="280.00" width="4.51" height="6.75" fill="#0041ff"/><rect x="234.24" y="280.00" width="4.51" height="6.75" fill="#004aff"/><rect x="238.70" y="280.00" width="4.51" height="6.75" fill="#004fff"/><rect x="243.15" y="280.00" width="4.51" height="6.75" fill="#0051ff"/><rect x="247.61" y="280.00" width="8.96" height="6.75" fill="#0052ff"/><rect x="256.52" y="280.00" width="4.51" height="6.75" fill="#0054ff"/><rect x="260.98" y="280.00" width="4.51" height="6.75" fill="#005aff"/><rect x="265.44" y="280.00" width="4.51" height="6.75" fill="#0064ff"/><rect x="269.90" y="280.00" width="4.51" height="6.75" fill="#006fff"/><rect x="274.35" y="280.00" width="4.51" height="6.75" fill="#0079ff"/><rect x="278.81" y="280.00" width="4.51" height="6.75" fill="#0080ff"/><rect x="283.27" y="280.00" width="4.51" height="6.75" fill="#0086ff"/><rect x="287.72" y="280.00" width="4.51" height="6.75" fill="#008aff"/><rect x="292.18" y="280.00" width="4.51" height="6.75" fill="#008eff"/><rect x="296.64" y="280.00" width="13.42" height="6.75" fill="#008fff"/><rect x="310.01" y="280.00" width="4.51" height="6.75" fill="#0092ff"/><rect x="314.47" y="280.00" width="4.51" height="6.75" fill="#0097ff"/><rect x="318.92" y="280.00" width="4.51" height="6.75" fill="#009fff"/><rect x="323.38" y="280.00" width="4.51" height="6.75" fill="#00a9ff"/><rect x="327.84" y="280.00" width="4.51" height="6.75" fill="#00b3ff"/><rect x="332.29" y="280.00" width="4.51" height="6.75" fill="#00baff"/><rect x="336.75" y="280.00" width="4.51" height="6.75" fill="#00beff"/><rect x="341.21" y="280.00" width="4.51" height="6.75" fill="#00c2ff"/><rect x="345.66" y="280.00" width="4.51" height="6.75" fill="#00c6ff"/><rect x="350.12" y="280.00" width="4.51" height="6.75" fill="#00cbff"/><rect x="354.58" y="280.00" width="4.51" height="6.75" fill="#00d3ff"/><rect x="359.04" y="280.00" width="4.51" height="6.75" fill="#00dbff"/><rect x="363.49" y="280.00" width="4.51" height="6.75" fill="#00dfff"/><rect x="367.95" y="280.00" width="8.96" height="6.75" fill="#00e0ff"/><rect x="376.86" y="280.00" width="4.51" height="6.75" fill="#00e1ff"/><rect x="381.32" y="280.00" width="4.51" height="6.75" fill="#00e8ff"/><rect x="385.78" y="280.00" width="4.51" height="6.75" fill="#00f2ff"/><rect x="390.24" y="280.00" width="4.51" height="6.75" fill="#00faff"/><rect x="394.69" y="280.00" width="13.42" height="6.75" fill="#00feff"/><rect x="408.06" y="280.00" width="4.51" height="6.75" fill="#00fdff"/><rect x="412.52" y="280.00" width="4.51" height="6.75" fill="#00f9ff"/><rect x="416.98" y="280.00" width="13.42" height="6.75" fill="#00f6ff"/><rect x="430.35" y="280.00" width="4.51" height="6.75" fill="#00f3ff"/><rect x="434.80" y="280.00" width="8.96" height="6.75" fill="#00f0ff"/><rect x="443.72" y="280.00" width="4.51" height="6.75" fill="#00f2ff"/><rect x="448.18" y="280.00" width="4.51" height="6.75" fill="#00f6ff"/><rect x="452.63" y="280.00" width="4.51" height="6.75" fill="#00faff"/><rect x="457.09" y="280.00" width="4.51" height="6.75" fill="#00fcff"/><rect x="461.55" y="280.00" width="8.96" height="6.75" fill="#00fdff"/><rect x="470.46" y="280.00" width="4.51" height="6.75" fill="#00ffff"/><rect x="158.47" y="286.70" width="4.51" height="6.75" fill="#0000f4"/><rect x="162.93" y="286.70" width="8.96" height="6.75" fill="#0000f3"/><rect x="171.84" y="286.70" width="4.51" height="6.75" fill="#0000f4"/><rect x="176.30" y="286.70" width="4.51" height="6.75" fill="#0000f9"/><rect x="180.76" y="286.70" width="4.51" height="6.75" fill="#0002ff"/><rect x="185.21" y="286.70" width="4.51" height="6.75" fill="#000bff"/><rect x="189.67" y="286.70" width="13.42" height="6.75" fill="#000fff"/><rect x="203.04" y="286.70" width="4.51" height="6.75" fill="#0010ff"/><rect x="207.50" y="286.70" width="4.51" height="6.75" fill="#0011ff"/><rect x="211.95" y="286.70" width="4.51" height="6.75" fill="#0017ff"/><rect x="216.41" y="286.70" width="4.51" height="6.75" fill="#001fff"/><rect x="220.87" y="286.70" width="4.51" height="6.75" fill="#002aff"/><rect x="225.33" y="286.70" width="4.51" height="6.75" fill="#0037ff"/><rect x="229.78" y="286.70" width="4.51" height="6.75" fill="#0043ff"/><rect x="234.24" y="286.70" width="4.51" height="6.75" fill="#004cff"/><rect x="238.70" y="286.70" width="4.51" height="6.75" fill="#0050ff"/><rect x="243.15" y="286.70" width="13.42" height="6.75" fill="#0052ff"/><rect x="256.52" y="286.70" width="4.51" height="6.75" fill="#0053ff"/><rect x="260.98" y="286.70" width="4.51" height="6.75" fill="#0059ff"/><rect x="265.44" y="286.70" width="4.51" height="6.75" fill="#0061ff"/><rect x="269.90" y="286.70" width="4.51" height="6.75" fill="#006aff"/><rect x="274.35" y="286.70" width="4.51" height="6.75" fill="#0072ff"/><rect x="278.81" y="286.70" width="4.51" height="6.75" fill="#007aff"/><rect x="283.27" y="286.70" width="4.51" height="6.75" fill="#0082ff"/><rect x="287.72" y="286.70" width="4.51" height="6.75" fill="#0088ff"/><rect x="292.18" y="286.70" width="4.51" height="6.75" fill="#008cff"/><rect x="296.64" y="286.70" width="4.51" height="6.75" fill="#008dff"/><rect x="301.10" y="286.70" width="4.51" height="6.75" fill="#008fff"/><rect x="305.55" y="286.70" width="4.51" height="6.75" fill="#0090ff"/><rect x="310.01" y="286.70" width="4.51" height="6.75" fill="#0094ff"/><rect x="314.47" y="286.70" width="4.51" height="6.75" fill="#0099ff"/><rect x="318.92" y="286.70" width="4.51" height="6.75" fill="#00a1ff"/><rect x="323.38" y="286.70" width="4.51" height="6.75" fill="#00a9ff"/><rect x="327.84" y="286.70" width="4.51" height="6.75" fill="#00b1ff"/><rect x="332.29" y="286.70" width="4.51" height="6.75" fill="#00b9ff"/><rect x="336.75" y="286.70" width="4.51" height="6.75" fill="#00bfff"/><rect x="341.21" y="286.70" width="4.51" height="6.75" fill="#00c5ff"/><rect x="345.66" y="286.70" width="4.51" height="6.75" fill="#00c9ff"/><rect x="350.12" y="286.70" width="4.51" height="6.75" fill="#00ccff"/><rect x="354.58" y="286.70" width="4.51" height="6.75" fill="#00ceff"/><rect x="359.04" y="286.70" width="4.51" height="6.75" fill="#00d3ff"/><rect x="363.49" y="286.70" width="4.51" height="6.75" fill="#00d9ff"/><rect x="367.95" y="286.70" width="4.51" height="6.75" fill="#00ddff"/><rect x="372.41" y="286.70" width="4.51" height="6.75" fill="#00dfff"/><rect x="376.86" y="286.70" width="4.51" height="6.75" fill="#00e4ff"/><rect x="381.32" y="286.70" width="4.51" height="6.75" fill="#00edff"/><rect x="385.78" y="286.70" width="4.51" height="6.75" fill="#00f8ff"/><rect x="390.24" y="286.70" width="4.51" height="6.75" fill="#00feff"/><rect x="394.69" y="286.70" width="8.96" height="6.75" fill="#00ffff"/><rect x="403.61" y="286.70" width="4.51" height="6.75" fill="#02fffd"/><rect x="408.06" y="286.70" width="4.51" height="6.75" fill="#09fff6"/><rect x="412.52" y="286.70" width="8.96" height="6.75" fill="#0dfff2"/><rect x="421.43" y="286.70" width="4.51" height="6.75" fill="#0afff5"/><rect x="425.89" y="286.70" width="4.51" height="6.75" fill="#06fff9"/><rect x="430.35" y="286.70" width="4.51" height="6.75" fill="#00ffff"/><rect x="434.80" y="286.70" width="4.51" height="6.75" fill="#00f9ff"/><rect x="439.26" y="286.70" width="4.51" height="6.75" fill="#00f7ff"/><rect x="443.72" y="286.70" width="4.51" height="6.75" fill="#00faff"/><rect x="448.18" y="286.70" width="4.51" height="6.75" fill="#00ffff"/><rect x="452.63" y="286.70" width="4.51" height="6.75" fill="#02fffd"/><rect x="457.09" y="286.70" width="8.96" height="6.75" fill="#03fffc"/><rect x="466.00" y="286.70" width="4.51" height="6.75" fill="#04fffb"/><rect x="470.46" y="286.70" width="4.51" height="6.75" fill="#06fff9"/><rect x="492.75" y="286.70" width="8.96" height="6.75" fill="#17ffe8"/><rect x="501.66" y="286.70" width="4.51" height="6.75" fill="#18ffe7"/><rect x="506.12" y="286.70" width="4.51" height="6.75" fill="#1cffe3"/><rect x="515.03" y="286.70" width="4.51" height="6.75" fill="#21ffde"/><rect x="519.49" y="286.70" width="4.51" height="6.75" fill="#22ffdd"/><rect x="523.94" y="286.70" width="4.51" height="6.75" fill="#21ffde"/><rect x="528.40" y="286.70" width="4.51" height="6.75" fill="#1fffe0"/><rect x="158.47" y="293.40" width="4.51" height="6.75" fill="#0000f2"/><rect x="162.93" y="293.40" width="13.42" height="6.75" fill="#0000f0"/><rect x="176.30" y="293.40" width="4.51" height="6.75" fill="#0000f3"/><rect x="180.76" y="293.40" width="4.51" height="6.75" fill="#0000fc"/><rect x="185.21" y="293.40" width="4.51" height="6.75" fill="#0008ff"/><rect x="189.67" y="293.40" width="4.51" height="6.75" fill="#000eff"/><rect x="194.13" y="293.40" width="4.51" height="6.75" fill="#000fff"/><rect x="198.58" y="293.40" width="4.51" height="6.75" fill="#0010ff"/><rect x="203.04" y="293.40" width="4.51" height="6.75" fill="#0011ff"/><rect x="207.50" y="293.40" width="4.51" height="6.75" fill="#0013ff"/><rect x="211.95" y="293.40" width="4.51" height="6.75" fill="#0019ff"/><rect x="216.41" y="293.40" width="4.51" height="6.75" fill="#0020ff"/><rect x="220.87" y="293.40" width="4.51" height="6.75" fill="#0029ff"/><rect x="225.33" y="293.40" width="4.51" height="6.75" fill="#0034ff"/><rect x="229.78" y="293.40" width="4.51" height="6.75" fill="#0040ff"/><rect x="234.24" y="293.40" width="4.51" height="6.75" fill="#0049ff"/><rect x="238.70" y="293.40" width="4.51" height="6.75" fill="#004fff"/><rect x="243.15" y="293.40" width="4.51" height="6.75" fill="#0051ff"/><rect x="247.61" y="293.40" width="4.51" height="6.75" fill="#0052ff"/><rect x="252.07" y="293.40" width="4.51" height="6.75" fill="#0053ff"/><rect x="256.52" y="293.40" width="4.51" height="6.75" fill="#0057ff"/><rect x="260.98" y="293.40" width="4.51" height="6.75" fill="#005dff"/><rect x="265.44" y="293.40" width="4.51" height="6.75" fill="#0063ff"/><rect x="269.90" y="293.40" width="4.51" height="6.75" fill="#0067ff"/><rect x="274.35" y="293.40" width="4.51" height="6.75" fill="#006bff"/><rect x="278.81" y="293.40" width="4.51" height="6.75" fill="#0072ff"/><rect x="283.27" y="293.40" width="4.51" height="6.75" fill="#007aff"/><rect x="287.72" y="293.40" width="4.51" height="6.75" fill="#0082ff"/><rect x="292.18" y="293.40" width="4.51" height="6.75" fill="#0088ff"/><rect x="296.64" y="293.40" width="4.51" height="6.75" fill="#008cff"/><rect x="301.10" y="293.40" width="4.51" height="6.75" fill="#0090ff"/><rect x="305.55" y="293.40" width="4.51" height="6.75" fill="#0093ff"/><rect x="310.01" y="293.40" width="4.51" height="6.75" fill="#0097ff"/><rect x="314.47" y="293.40" width="4.51" height="6.75" fill="#009cff"/><rect x="318.92" y="293.40" width="4.51" height="6.75" fill="#00a2ff"/><rect x="323.38" y="293.40" width="4.51" height="6.75" fill="#00a9ff"/><rect x="327.84" y="293.40" width="4.51" height="6.75" fill="#00b1ff"/><rect x="332.29" y="293.40" width="4.51" height="6.75" fill="#00baff"/><rect x="336.75" y="293.40" width="4.51" height="6.75" fill="#00c2ff"/><rect x="341.21" y="293.40" width="4.51" height="6.75" fill="#00c8ff"/><rect x="345.66" y="293.40" width="4.51" height="6.75" fill="#00cbff"/><rect x="350.12" y="293.40" width="8.96" height="6.75" fill="#00ccff"/><rect x="359.04" y="293.40" width="4.51" height="6.75" fill="#00cdff"/><rect x="363.49" y="293.40" width="4.51" height="6.75" fill="#00d1ff"/><rect x="367.95" y="293.40" width="4.51" height="6.75" fill="#00d8ff"/><rect x="372.41" y="293.40" width="4.51" height="6.75" fill="#00deff"/><rect x="376.86" y="293.40" width="4.51" height="6.75" fill="#00e6ff"/><rect x="381.32" y="293.40" width="4.51" height="6.75" fill="#00f0ff"/><rect x="385.78" y="293.40" width="4.51" height="6.75" fill="#00f9ff"/><rect x="390.24" y="293.40" width="4.51" height="6.75" fill="#00ffff"/><rect x="394.69" y="293.40" width="4.51" height="6.75" fill="#03fffc"/><rect x="399.15" y="293.40" width="4.51" height="6.75" fill="#05fffa"/><rect x="403.61" y="293.40" width="4.51" height="6.75" fill="#0cfff3"/><rect x="408.06" y="293.40" width="4.51" height="6.75" fill="#16ffe9"/><rect x="412.52" y="293.40" width="8.96" height="6.75" fill="#19ffe6"/><rect x="421.43" y="293.40" width="8.96" height="6.75" fill="#1affe5"/><rect x="430.35" y="293.40" width="4.51" height="6.75" fill="#13ffec"/><rect x="434.80" y="293.40" width="4.51" height="6.75" fill="#0afff5"/><rect x="439.26" y="293.40" width="8.96" height="6.75" fill="#04fffb"/><rect x="448.18" y="293.40" width="17.88" height="6.75" fill="#05fffa"/><rect x="466.00" y="293.40" width="4.51" height="6.75" fill="#07fff8"/><rect x="470.46" y="293.40" width="4.51" height="6.75" fill="#0bfff4"/><rect x="474.92" y="293.40" width="4.51" height="6.75" fill="#11ffee"/><rect x="479.38" y="293.40" width="4.51" height="6.75" fill="#16ffe9"/><rect x="492.75" y="293.40" width="8.96" height="6.75" fill="#19ffe6"/><rect x="501.66" y="293.40" width="4.51" height="6.75" fill="#1affe5"/><rect x="506.12" y="293.40" width="4.51" height="6.75" fill="#1fffe0"/><rect x="510.57" y="293.40" width="4.51" height="6.75" fill="#22ffdd"/><rect x="515.03" y="293.40" width="4.51" height="6.75" fill="#23ffdc"/><rect x="519.49" y="293.40" width="4.51" height="6.75" fill="#24ffdb"/><rect x="523.94" y="293.40" width="4.51" height="6.75" fill="#23ffdc"/><rect x="528.40" y="293.40" width="4.51" height="6.75" fill="#21ffde"/><rect x="532.86" y="293.40" width="4.51" height="6.75" fill="#1dffe2"/><rect x="537.32" y="293.40" width="4.51" height="6.75" fill="#1affe5"/><rect x="541.77" y="293.40" width="8.96" height="6.75" fill="#19ffe6"/><rect x="162.93" y="300.10" width="13.42" height="6.75" fill="#0000f0"/><rect x="176.30" y="300.10" width="4.51" height="6.75" fill="#0000f3"/><rect x="180.76" y="300.10" width="4.51" height="6.75" fill="#0000fa"/><rect x="185.21" y="300.10" width="4.51" height="6.75" fill="#0005ff"/><rect x="189.67" y="300.10" width="4.51" height="6.75" fill="#000cff"/><rect x="194.13" y="300.10" width="4.51" height="6.75" fill="#0010ff"/><rect x="198.58" y="300.10" width="4.51" height="6.75" fill="#0012ff"/><rect x="203.04" y="300.10" width="4.51" height="6.75" fill="#0014ff"/><rect x="207.50" y="300.10" width="4.51" height="6.75" fill="#0018ff"/><rect x="211.95" y="300.10" width="4.51" height="6.75" fill="#001bff"/><rect x="216.41" y="300.10" width="4.51" height="6.75" fill="#001fff"/><rect x="220.87" y="300.10" width="4.51" height="6.75" fill="#0025ff"/><rect x="225.33" y="300.10" width="4.51" height="6.75" fill="#002eff"/><rect x="229.78" y="300.10" width="4.51" height="6.75" fill="#0038ff"/><rect x="234.24" y="300.10" width="4.51" height="6.75" fill="#0043ff"/><rect x="238.70" y="300.10" width="4.51" height="6.75" fill="#004bff"/><rect x="243.15" y="300.10" width="4.51" height="6.75" fill="#0050ff"/><rect x="247.61" y="300.10" width="4.51" height="6.75" fill="#0053ff"/><rect x="252.07" y="300.10" width="4.51" height="6.75" fill="#0058ff"/><rect x="256.52" y="300.10" width="4.51" height="6.75" fill="#005eff"/><rect x="260.98" y="300.10" width="4.51" height="6.75" fill="#0064ff"/><rect x="265.44" y="300.10" width="8.96" height="6.75" fill="#0066ff"/><rect x="274.35" y="300.10" width="4.51" height="6.75" fill="#0067ff"/><rect x="278.81" y="300.10" width="4.51" height="6.75" fill="#006cff"/><rect x="283.27" y="300.10" width="4.51" height="6.75" fill="#0074ff"/><rect x="287.72" y="300.10" width="4.51" height="6.75" fill="#007eff"/><rect x="292.18" y="300.10" width="4.51" height="6.75" fill="#0087ff"/><rect x="296.64" y="300.10" width="4.51" height="6.75" fill="#008fff"/><rect x="301.10" y="300.10" width="4.51" height="6.75" fill="#0095ff"/><rect x="305.55" y="300.10" width="4.51" height="6.75" fill="#0099ff"/><rect x="310.01" y="300.10" width="4.51" height="6.75" fill="#009cff"/><rect x="314.47" y="300.10" width="4.51" height="6.75" fill="#009fff"/><rect x="318.92" y="300.10" width="4.51" height="6.75" fill="#00a2ff"/><rect x="323.38" y="300.10" width="4.51" height="6.75" fill="#00a8ff"/><rect x="327.84" y="300.10" width="4.51" height="6.75" fill="#00b0ff"/><rect x="332.29" y="300.10" width="4.51" height="6.75" fill="#00b9ff"/><rect x="336.75" y="300.10" width="4.51" height="6.75" fill="#00c1ff"/><rect x="341.21" y="300.10" width="4.51" height="6.75" fill="#00c8ff"/><rect x="345.66" y="300.10" width="4.51" height="6.75" fill="#00cbff"/><rect x="350.12" y="300.10" width="8.96" height="6.75" fill="#00ccff"/><rect x="359.04" y="300.10" width="4.51" height="6.75" fill="#00cdff"/><rect x="363.49" y="300.10" width="4.51" height="6.75" fill="#00d0ff"/><rect x="367.95" y="300.10" width="4.51" height="6.75" fill="#00d6ff"/><rect x="372.41" y="300.10" width="4.51" height="6.75" fill="#00ddff"/><rect x="376.86" y="300.10" width="4.51" height="6.75" fill="#00e6ff"/><rect x="381.32" y="300.10" width="4.51" height="6.75" fill="#00f0ff"/><rect x="385.78" y="300.10" width="4.51" height="6.75" fill="#00fbff"/><rect x="390.24" y="300.10" width="4.51" height="6.75" fill="#06fff9"/><rect x="394.69" y="300.10" width="4.51" height="6.75" fill="#0ffff0"/><rect x="399.15" y="300.10" width="4.51" height="6.75" fill="#16ffe9"/><rect x="403.61" y="300.10" width="8.96" height="6.75" fill="#18ffe7"/><rect x="412.52" y="300.10" width="4.51" height="6.75" fill="#19ffe6"/><rect x="416.98" y="300.10" width="4.51" height="6.75" fill="#1dffe2"/><rect x="421.43" y="300.10" width="8.96" height="6.75" fill="#23ffdc"/><rect x="430.35" y="300.10" width="4.51" height="6.75" fill="#1effe1"/><rect x="434.80" y="300.10" width="4.51" height="6.75" fill="#14ffeb"/><rect x="439.26" y="300.10" width="4.51" height="6.75" fill="#0afff5"/><rect x="443.72" y="300.10" width="4.51" height="6.75" fill="#06fff9"/><rect x="448.18" y="300.10" width="13.42" height="6.75" fill="#05fffa"/><rect x="461.55" y="300.10" width="4.51" height="6.75" fill="#06fff9"/><rect x="466.00" y="300.10" width="4.51" height="6.75" fill="#09fff6"/><rect x="470.46" y="300.10" width="4.51" height="6.75" fill="#0cfff3"/><rect x="474.92" y="300.10" width="4.51" height="6.75" fill="#11ffee"/><rect x="479.38" y="300.10" width="4.51" height="6.75" fill="#16ffe9"/><rect x="483.83" y="300.10" width="17.88" height="6.75" fill="#19ffe6"/><rect x="501.66" y="300.10" width="4.51" height="6.75" fill="#1affe5"/><rect x="506.12" y="300.10" width="4.51" height="6.75" fill="#1effe1"/><rect x="510.57" y="300.10" width="4.51" height="6.75" fill="#22ffdd"/><rect x="515.03" y="300.10" width="4.51" height="6.75" fill="#23ffdc"/><rect x="519.49" y="300.10" width="4.51" height="6.75" fill="#24ffdb"/><rect x="523.94" y="300.10" width="4.51" height="6.75" fill="#23ffdc"/><rect x="528.40" y="300.10" width="4.51" height="6.75" fill="#20ffdf"/><rect x="532.86" y="300.10" width="4.51" height="6.75" fill="#1dffe2"/><rect x="537.32" y="300.10" width="4.51" height="6.75" fill="#1affe5"/><rect x="541.77" y="300.10" width="17.88" height="6.75" fill="#19ffe6"/><rect x="559.60" y="300.10" width="4.51" height="6.75" fill="#18ffe7"/><rect x="564.06" y="300.10" width="4.51" height="6.75" fill="#16ffe9"/><rect x="162.93" y="306.80" width="8.96" height="6.75" fill="#0000f3"/><rect x="171.84" y="306.80" width="4.51" height="6.75" fill="#0000f4"/><rect x="176.30" y="306.80" width="4.51" height="6.75" fill="#0000f7"/><rect x="180.76" y="306.80" width="4.51" height="6.75" fill="#0000fe"/><rect x="185.21" y="306.80" width="4.51" height="6.75" fill="#0006ff"/><rect x="189.67" y="306.80" width="4.51" height="6.75" fill="#000cff"/><rect x="194.13" y="306.80" width="4.51" height="6.75" fill="#0011ff"/><rect x="198.58" y="306.80" width="4.51" height="6.75" fill="#0015ff"/><rect x="203.04" y="306.80" width="4.51" height="6.75" fill="#0018ff"/><rect x="207.50" y="306.80" width="4.51" height="6.75" fill="#001aff"/><rect x="211.95" y="306.80" width="4.51" height="6.75" fill="#001bff"/><rect x="216.41" y="306.80" width="4.51" height="6.75" fill="#001cff"/><rect x="220.87" y="306.80" width="4.51" height="6.75" fill="#001fff"/><rect x="225.33" y="306.80" width="4.51" height="6.75" fill="#0026ff"/><rect x="229.78" y="306.80" width="4.51" height="6.75" fill="#0030ff"/><rect x="234.24" y="306.80" width="4.51" height="6.75" fill="#003bff"/><rect x="238.70" y="306.80" width="4.51" height="6.75" fill="#0045ff"/><rect x="243.15" y="306.80" width="4.51" height="6.75" fill="#004eff"/><rect x="247.61" y="306.80" width="4.51" height="6.75" fill="#0055ff"/><rect x="252.07" y="306.80" width="4.51" height="6.75" fill="#005cff"/><rect x="256.52" y="306.80" width="4.51" height="6.75" fill="#0062ff"/><rect x="260.98" y="306.80" width="4.51" height="6.75" fill="#0065ff"/><rect x="265.44" y="306.80" width="13.42" height="6.75" fill="#0066ff"/><rect x="278.81" y="306.80" width="4.51" height="6.75" fill="#006aff"/><rect x="283.27" y="306.80" width="4.51" height="6.75" fill="#0072ff"/><rect x="287.72" y="306.80" width="4.51" height="6.75" fill="#007eff"/><rect x="292.18" y="306.80" width="4.51" height="6.75" fill="#008bff"/><rect x="296.64" y="306.80" width="4.51" height="6.75" fill="#0096ff"/><rect x="301.10" y="306.80" width="4.51" height="6.75" fill="#009dff"/><rect x="305.55" y="306.80" width="4.51" height="6.75" fill="#00a0ff"/><rect x="310.01" y="306.80" width="8.96" height="6.75" fill="#00a1ff"/><rect x="318.92" y="306.80" width="4.51" height="6.75" fill="#00a2ff"/><rect x="323.38" y="306.80" width="4.51" height="6.75" fill="#00a6ff"/><rect x="327.84" y="306.80" width="4.51" height="6.75" fill="#00adff"/><rect x="332.29" y="306.80" width="4.51" height="6.75" fill="#00b5ff"/><rect x="336.75" y="306.80" width="4.51" height="6.75" fill="#00beff"/><rect x="341.21" y="306.80" width="4.51" height="6.75" fill="#00c5ff"/><rect x="345.66" y="306.80" width="4.51" height="6.75" fill="#00c9ff"/><rect x="350.12" y="306.80" width="4.51" height="6.75" fill="#00cbff"/><rect x="354.58" y="306.80" width="4.51" height="6.75" fill="#00ccff"/><rect x="359.04" y="306.80" width="4.51" height="6.75" fill="#00ceff"/><rect x="363.49" y="306.80" width="4.51" height="6.75" fill="#00d1ff"/><rect x="367.95" y="306.80" width="4.51" height="6.75" fill="#00d6ff"/><rect x="372.41" y="306.80" width="4.51" height="6.75" fill="#00dcff"/><rect x="376.86" y="306.80" width="4.51" height="6.75" fill="#00e4ff"/><rect x="381.32" y="306.80" width="4.51" height="6.75" fill="#00edff"/><rect x="385.78" y="306.80" width="4.51" height="6.75" fill="#00f8ff"/><rect x="390.24" y="306.80" width="4.51" height="6.75" fill="#05fffa"/><rect x="394.69" y="306.80" width="4.51" height="6.75" fill="#11ffee"/><rect x="399.15" y="306.80" width="4.51" height="6.75" fill="#18ffe7"/><rect x="403.61" y="306.80" width="4.51" height="6.75" fill="#19ffe6"/><rect x="408.06" y="306.80" width="8.96" height="6.75" fill="#18ffe7"/><rect x="416.98" y="306.80" width="4.51" height="6.75" fill="#1dffe2"/><rect x="421.43" y="306.80" width="8.96" height="6.75" fill="#21ffde"/><rect x="430.35" y="306.80" width="4.51" height="6.75" fill="#1cffe3"/><rect x="434.80" y="306.80" width="4.51" height="6.75" fill="#14ffeb"/><rect x="439.26" y="306.80" width="4.51" height="6.75" fill="#0cfff3"/><rect x="443.72" y="306.80" width="4.51" height="6.75" fill="#07fff8"/><rect x="448.18" y="306.80" width="8.96" height="6.75" fill="#06fff9"/><rect x="457.09" y="306.80" width="4.51" height="6.75" fill="#07fff8"/><rect x="461.55" y="306.80" width="4.51" height="6.75" fill="#0afff5"/><rect x="466.00" y="306.80" width="4.51" height="6.75" fill="#0dfff2"/><rect x="470.46" y="306.80" width="4.51" height="6.75" fill="#0efff1"/><rect x="474.92" y="306.80" width="4.51" height="6.75" fill="#0ffff0"/><rect x="479.38" y="306.80" width="4.51" height="6.75" fill="#12ffed"/><rect x="483.83" y="306.80" width="4.51" height="6.75" fill="#16ffe9"/><rect x="488.29" y="306.80" width="13.42" height="6.75" fill="#17ffe8"/><rect x="501.66" y="306.80" width="4.51" height="6.75" fill="#18ffe7"/><rect x="506.12" y="306.80" width="4.51" height="6.75" fill="#1cffe3"/><rect x="510.57" y="306.80" width="4.51" height="6.75" fill="#1fffe0"/><rect x="515.03" y="306.80" width="8.96" height="6.75" fill="#21ffde"/><rect x="523.94" y="306.80" width="4.51" height="6.75" fill="#20ffdf"/><rect x="528.40" y="306.80" width="4.51" height="6.75" fill="#1effe1"/><rect x="532.86" y="306.80" width="4.51" height="6.75" fill="#1bffe4"/><rect x="537.32" y="306.80" width="4.51" height="6.75" fill="#1affe5"/><rect x="541.77" y="306.80" width="17.88" height="6.75" fill="#19ffe6"/><rect x="559.60" y="306.80" width="4.51" height="6.75" fill="#18ffe7"/><rect x="564.06" y="306.80" width="4.51" height="6.75" fill="#16ffe9"/><rect x="171.84" y="313.50" width="4.51" height="6.75" fill="#0000fb"/><rect x="176.30" y="313.50" width="4.51" height="6.75" fill="#0000fd"/><rect x="180.76" y="313.50" width="4.51" height="6.75" fill="#0002ff"/><rect x="185.21" y="313.50" width="4.51" height="6.75" fill="#0007ff"/><rect x="189.67" y="313.50" width="4.51" height="6.75" fill="#000cff"/><rect x="194.13" y="313.50" width="4.51" height="6.75" fill="#0012ff"/><rect x="198.58" y="313.50" width="4.51" height="6.75" fill="#0016ff"/><rect x="203.04" y="313.50" width="4.51" height="6.75" fill="#0019ff"/><rect x="207.50" y="313.50" width="13.42" height="6.75" fill="#001aff"/><rect x="220.87" y="313.50" width="4.51" height="6.75" fill="#001bff"/><rect x="225.33" y="313.50" width="4.51" height="6.75" fill="#0020ff"/><rect x="229.78" y="313.50" width="4.51" height="6.75" fill="#0029ff"/><rect x="234.24" y="313.50" width="4.51" height="6.75" fill="#0034ff"/><rect x="238.70" y="313.50" width="4.51" height="6.75" fill="#003fff"/><rect x="243.15" y="313.50" width="4.51" height="6.75" fill="#004aff"/><rect x="247.61" y="313.50" width="4.51" height="6.75" fill="#0053ff"/><rect x="252.07" y="313.50" width="4.51" height="6.75" fill="#005bff"/><rect x="256.52" y="313.50" width="4.51" height="6.75" fill="#0061ff"/><rect x="260.98" y="313.50" width="4.51" height="6.75" fill="#0065ff"/><rect x="265.44" y="313.50" width="8.96" height="6.75" fill="#0066ff"/><rect x="274.35" y="313.50" width="4.51" height="6.75" fill="#0067ff"/><rect x="278.81" y="313.50" width="4.51" height="6.75" fill="#006bff"/><rect x="283.27" y="313.50" width="4.51" height="6.75" fill="#0073ff"/><rect x="287.72" y="313.50" width="4.51" height="6.75" fill="#0081ff"/><rect x="292.18" y="313.50" width="4.51" height="6.75" fill="#0090ff"/><rect x="296.64" y="313.50" width="4.51" height="6.75" fill="#009cff"/><rect x="301.10" y="313.50" width="4.51" height="6.75" fill="#00a1ff"/><rect x="305.55" y="313.50" width="13.42" height="6.75" fill="#00a3ff"/><rect x="318.92" y="313.50" width="4.51" height="6.75" fill="#00a2ff"/><rect x="323.38" y="313.50" width="4.51" height="6.75" fill="#00a4ff"/><rect x="327.84" y="313.50" width="4.51" height="6.75" fill="#00a9ff"/><rect x="332.29" y="313.50" width="4.51" height="6.75" fill="#00b0ff"/><rect x="336.75" y="313.50" width="4.51" height="6.75" fill="#00b9ff"/><rect x="341.21" y="313.50" width="4.51" height="6.75" fill="#00c0ff"/><rect x="345.66" y="313.50" width="4.51" height="6.75" fill="#00c5ff"/><rect x="350.12" y="313.50" width="4.51" height="6.75" fill="#00c9ff"/><rect x="354.58" y="313.50" width="4.51" height="6.75" fill="#00ccff"/><rect x="359.04" y="313.50" width="4.51" height="6.75" fill="#00d0ff"/><rect x="363.49" y="313.50" width="4.51" height="6.75" fill="#00d3ff"/><rect x="367.95" y="313.50" width="4.51" height="6.75" fill="#00d7ff"/><rect x="372.41" y="313.50" width="4.51" height="6.75" fill="#00d9ff"/><rect x="376.86" y="313.50" width="4.51" height="6.75" fill="#00deff"/><rect x="381.32" y="313.50" width="4.51" height="6.75" fill="#00e5ff"/><rect x="385.78" y="313.50" width="4.51" height="6.75" fill="#00eeff"/><rect x="390.24" y="313.50" width="4.51" height="6.75" fill="#00f8ff"/><rect x="394.69" y="313.50" width="4.51" height="6.75" fill="#01fffe"/><rect x="399.15" y="313.50" width="4.51" height="6.75" fill="#09fff6"/><rect x="403.61" y="313.50" width="4.51" height="6.75" fill="#0efff1"/><rect x="408.06" y="313.50" width="4.51" height="6.75" fill="#0ffff0"/><rect x="412.52" y="313.50" width="4.51" height="6.75" fill="#10ffef"/><rect x="416.98" y="313.50" width="4.51" height="6.75" fill="#13ffec"/><rect x="421.43" y="313.50" width="8.96" height="6.75" fill="#16ffe9"/><rect x="430.35" y="313.50" width="4.51" height="6.75" fill="#13ffec"/><rect x="434.80" y="313.50" width="4.51" height="6.75" fill="#0ffff0"/><rect x="439.26" y="313.50" width="4.51" height="6.75" fill="#0afff5"/><rect x="443.72" y="313.50" width="4.51" height="6.75" fill="#08fff7"/><rect x="448.18" y="313.50" width="4.51" height="6.75" fill="#07fff8"/><rect x="452.63" y="313.50" width="4.51" height="6.75" fill="#09fff6"/><rect x="457.09" y="313.50" width="4.51" height="6.75" fill="#0cfff3"/><rect x="461.55" y="313.50" width="4.51" height="6.75" fill="#0efff1"/><rect x="466.00" y="313.50" width="17.88" height="6.75" fill="#0ffff0"/><rect x="483.83" y="313.50" width="4.51" height="6.75" fill="#11ffee"/><rect x="488.29" y="313.50" width="4.51" height="6.75" fill="#12ffed"/><rect x="492.75" y="313.50" width="4.51" height="6.75" fill="#13ffec"/><rect x="497.20" y="313.50" width="4.51" height="6.75" fill="#14ffeb"/><rect x="501.66" y="313.50" width="4.51" height="6.75" fill="#16ffe9"/><rect x="506.12" y="313.50" width="4.51" height="6.75" fill="#18ffe7"/><rect x="510.57" y="313.50" width="4.51" height="6.75" fill="#1affe5"/><rect x="515.03" y="313.50" width="4.51" height="6.75" fill="#1cffe3"/><rect x="519.49" y="313.50" width="4.51" height="6.75" fill="#1dffe2"/><rect x="523.94" y="313.50" width="4.51" height="6.75" fill="#1cffe3"/><rect x="528.40" y="313.50" width="4.51" height="6.75" fill="#1bffe4"/><rect x="532.86" y="313.50" width="4.51" height="6.75" fill="#1affe5"/><rect x="537.32" y="313.50" width="17.88" height="6.75" fill="#19ffe6"/><rect x="555.14" y="313.50" width="4.51" height="6.75" fill="#18ffe7"/><rect x="559.60" y="313.50" width="4.51" height="6.75" fill="#17ffe8"/><rect x="564.06" y="313.50" width="4.51" height="6.75" fill="#15ffea"/><rect x="176.30" y="320.20" width="4.51" height="6.75" fill="#0000fe"/><rect x="180.76" y="320.20" width="4.51" height="6.75" fill="#0000ff"/><rect x="185.21" y="320.20" width="4.51" height="6.75" fill="#0002ff"/><rect x="189.67" y="320.20" width="4.51" height="6.75" fill="#0007ff"/><rect x="194.13" y="320.20" width="4.51" height="6.75" fill="#000eff"/><rect x="198.58" y="320.20" width="4.51" height="6.75" fill="#0015ff"/><rect x="203.04" y="320.20" width="4.51" height="6.75" fill="#0019ff"/><rect x="207.50" y="320.20" width="13.42" height="6.75" fill="#001aff"/><rect x="220.87" y="320.20" width="4.51" height="6.75" fill="#001bff"/><rect x="225.33" y="320.20" width="4.51" height="6.75" fill="#0020ff"/><rect x="229.78" y="320.20" width="4.51" height="6.75" fill="#0028ff"/><rect x="234.24" y="320.20" width="4.51" height="6.75" fill="#0031ff"/><rect x="238.70" y="320.20" width="4.51" height="6.75" fill="#003bff"/><rect x="243.15" y="320.20" width="4.51" height="6.75" fill="#0045ff"/><rect x="247.61" y="320.20" width="4.51" height="6.75" fill="#004eff"/><rect x="252.07" y="320.20" width="4.51" height="6.75" fill="#0057ff"/><rect x="256.52" y="320.20" width="4.51" height="6.75" fill="#005dff"/><rect x="260.98" y="320.20" width="4.51" height="6.75" fill="#0062ff"/><rect x="265.44" y="320.20" width="4.51" height="6.75" fill="#0064ff"/><rect x="269.90" y="320.20" width="4.51" height="6.75" fill="#0066ff"/><rect x="274.35" y="320.20" width="4.51" height="6.75" fill="#0068ff"/><rect x="278.81" y="320.20" width="4.51" height="6.75" fill="#006dff"/><rect x="283.27" y="320.20" width="4.51" height="6.75" fill="#0075ff"/><rect x="287.72" y="320.20" width="4.51" height="6.75" fill="#0082ff"/><rect x="292.18" y="320.20" width="4.51" height="6.75" fill="#0090ff"/><rect x="296.64" y="320.20" width="4.51" height="6.75" fill="#009bff"/><rect x="301.10" y="320.20" width="4.51" height="6.75" fill="#00a1ff"/><rect x="305.55" y="320.20" width="8.96" height="6.75" fill="#00a3ff"/><rect x="314.47" y="320.20" width="13.42" height="6.75" fill="#00a2ff"/><rect x="327.84" y="320.20" width="4.51" height="6.75" fill="#00a6ff"/><rect x="332.29" y="320.20" width="4.51" height="6.75" fill="#00acff"/><rect x="336.75" y="320.20" width="4.51" height="6.75" fill="#00b4ff"/><rect x="341.21" y="320.20" width="4.51" height="6.75" fill="#00bbff"/><rect x="345.66" y="320.20" width="4.51" height="6.75" fill="#00c1ff"/><rect x="350.12" y="320.20" width="4.51" height="6.75" fill="#00c7ff"/><rect x="354.58" y="320.20" width="4.51" height="6.75" fill="#00cdff"/><rect x="359.04" y="320.20" width="4.51" height="6.75" fill="#00d1ff"/><rect x="363.49" y="320.20" width="4.51" height="6.75" fill="#00d5ff"/><rect x="367.95" y="320.20" width="4.51" height="6.75" fill="#00d6ff"/><rect x="372.41" y="320.20" width="4.51" height="6.75" fill="#00d7ff"/><rect x="376.86" y="320.20" width="4.51" height="6.75" fill="#00d8ff"/><rect x="381.32" y="320.20" width="4.51" height="6.75" fill="#00ddff"/><rect x="385.78" y="320.20" width="4.51" height="6.75" fill="#00e5ff"/><rect x="390.24" y="320.20" width="4.51" height="6.75" fill="#00ebff"/><rect x="394.69" y="320.20" width="4.51" height="6.75" fill="#00edff"/><rect x="399.15" y="320.20" width="4.51" height="6.75" fill="#00eeff"/><rect x="403.61" y="320.20" width="4.51" height="6.75" fill="#00f2ff"/><rect x="408.06" y="320.20" width="4.51" height="6.75" fill="#00f9ff"/><rect x="412.52" y="320.20" width="4.51" height="6.75" fill="#00ffff"/><rect x="416.98" y="320.20" width="4.51" height="6.75" fill="#05fffa"/><rect x="421.43" y="320.20" width="4.51" height="6.75" fill="#08fff7"/><rect x="425.89" y="320.20" width="8.96" height="6.75" fill="#09fff6"/><rect x="434.80" y="320.20" width="4.51" height="6.75" fill="#07fff8"/><rect x="439.26" y="320.20" width="8.96" height="6.75" fill="#06fff9"/><rect x="448.18" y="320.20" width="4.51" height="6.75" fill="#07fff8"/><rect x="452.63" y="320.20" width="4.51" height="6.75" fill="#0afff5"/><rect x="457.09" y="320.20" width="4.51" height="6.75" fill="#0dfff2"/><rect x="461.55" y="320.20" width="17.88" height="6.75" fill="#0ffff0"/><rect x="479.38" y="320.20" width="8.96" height="6.75" fill="#0efff1"/><rect x="488.29" y="320.20" width="4.51" height="6.75" fill="#0ffff0"/><rect x="492.75" y="320.20" width="4.51" height="6.75" fill="#10ffef"/><rect x="497.20" y="320.20" width="4.51" height="6.75" fill="#11ffee"/><rect x="501.66" y="320.20" width="4.51" height="6.75" fill="#13ffec"/><rect x="506.12" y="320.20" width="4.51" height="6.75" fill="#15ffea"/><rect x="510.57" y="320.20" width="4.51" height="6.75" fill="#18ffe7"/><rect x="515.03" y="320.20" width="4.51" height="6.75" fill="#1affe5"/><rect x="519.49" y="320.20" width="4.51" height="6.75" fill="#1cffe3"/><rect x="523.94" y="320.20" width="8.96" height="6.75" fill="#1dffe2"/><rect x="532.86" y="320.20" width="4.51" height="6.75" fill="#1bffe4"/><rect x="537.32" y="320.20" width="4.51" height="6.75" fill="#1affe5"/><rect x="541.77" y="320.20" width="4.51" height="6.75" fill="#18ffe7"/><rect x="546.23" y="320.20" width="4.51" height="6.75" fill="#17ffe8"/><rect x="550.69" y="320.20" width="4.51" height="6.75" fill="#16ffe9"/><rect x="555.14" y="320.20" width="4.51" height="6.75" fill="#15ffea"/><rect x="559.60" y="320.20" width="4.51" height="6.75" fill="#13ffec"/><rect x="564.06" y="320.20" width="4.51" height="6.75" fill="#12ffed"/><rect x="176.30" y="326.90" width="4.51" height="6.75" fill="#0000f9"/><rect x="180.76" y="326.90" width="4.51" height="6.75" fill="#0000f8"/><rect x="185.21" y="326.90" width="4.51" height="6.75" fill="#0000f9"/><rect x="189.67" y="326.90" width="4.51" height="6.75" fill="#0000fc"/><rect x="194.13" y="326.90" width="4.51" height="6.75" fill="#0005ff"/><rect x="198.58" y="326.90" width="4.51" height="6.75" fill="#000fff"/><rect x="203.04" y="326.90" width="4.51" height="6.75" fill="#0016ff"/><rect x="207.50" y="326.90" width="4.51" height="6.75" fill="#0019ff"/><rect x="211.95" y="326.90" width="4.51" height="6.75" fill="#001bff"/><rect x="216.41" y="326.90" width="4.51" height="6.75" fill="#001cff"/><rect x="220.87" y="326.90" width="4.51" height="6.75" fill="#001fff"/><rect x="225.33" y="326.90" width="4.51" height="6.75" fill="#0023ff"/><rect x="229.78" y="326.90" width="4.51" height="6.75" fill="#0028ff"/><rect x="234.24" y="326.90" width="4.51" height="6.75" fill="#002fff"/><rect x="238.70" y="326.90" width="4.51" height="6.75" fill="#0036ff"/><rect x="243.15" y="326.90" width="4.51" height="6.75" fill="#0040ff"/><rect x="247.61" y="326.90" width="4.51" height="6.75" fill="#0049ff"/><rect x="252.07" y="326.90" width="4.51" height="6.75" fill="#0052ff"/><rect x="256.52" y="326.90" width="4.51" height="6.75" fill="#0059ff"/><rect x="260.98" y="326.90" width="4.51" height="6.75" fill="#005eff"/><rect x="265.44" y="326.90" width="4.51" height="6.75" fill="#0062ff"/><rect x="269.90" y="326.90" width="4.51" height="6.75" fill="#0065ff"/><rect x="274.35" y="326.90" width="4.51" height="6.75" fill="#0068ff"/><rect x="278.81" y="326.90" width="4.51" height="6.75" fill="#006cff"/><rect x="283.27" y="326.90" width="4.51" height="6.75" fill="#0073ff"/><rect x="287.72" y="326.90" width="4.51" height="6.75" fill="#007dff"/><rect x="292.18" y="326.90" width="4.51" height="6.75" fill="#0089ff"/><rect x="296.64" y="326.90" width="4.51" height="6.75" fill="#0094ff"/><rect x="301.10" y="326.90" width="4.51" height="6.75" fill="#009cff"/><rect x="305.55" y="326.90" width="4.51" height="6.75" fill="#009fff"/><rect x="310.01" y="326.90" width="8.96" height="6.75" fill="#00a0ff"/><rect x="318.92" y="326.90" width="4.51" height="6.75" fill="#009fff"/><rect x="323.38" y="326.90" width="4.51" height="6.75" fill="#00a0ff"/><rect x="327.84" y="326.90" width="4.51" height="6.75" fill="#00a3ff"/><rect x="332.29" y="326.90" width="4.51" height="6.75" fill="#00a8ff"/><rect x="336.75" y="326.90" width="4.51" height="6.75" fill="#00afff"/><rect x="341.21" y="326.90" width="4.51" height="6.75" fill="#00b6ff"/><rect x="345.66" y="326.90" width="4.51" height="6.75" fill="#00beff"/><rect x="350.12" y="326.90" width="4.51" height="6.75" fill="#00c5ff"/><rect x="354.58" y="326.90" width="4.51" height="6.75" fill="#00ccff"/><rect x="359.04" y="326.90" width="4.51" height="6.75" fill="#00d2ff"/><rect x="363.49" y="326.90" width="4.51" height="6.75" fill="#00d5ff"/><rect x="367.95" y="326.90" width="13.42" height="6.75" fill="#00d6ff"/><rect x="381.32" y="326.90" width="4.51" height="6.75" fill="#00d9ff"/><rect x="385.78" y="326.90" width="4.51" height="6.75" fill="#00e2ff"/><rect x="390.24" y="326.90" width="4.51" height="6.75" fill="#00e9ff"/><rect x="394.69" y="326.90" width="13.42" height="6.75" fill="#00ebff"/><rect x="408.06" y="326.90" width="4.51" height="6.75" fill="#00eeff"/><rect x="412.52" y="326.90" width="4.51" height="6.75" fill="#00f3ff"/><rect x="416.98" y="326.90" width="4.51" height="6.75" fill="#00f7ff"/><rect x="421.43" y="326.90" width="4.51" height="6.75" fill="#00fbff"/><rect x="425.89" y="326.90" width="4.51" height="6.75" fill="#00fdff"/><rect x="430.35" y="326.90" width="4.51" height="6.75" fill="#00ffff"/><rect x="434.80" y="326.90" width="4.51" height="6.75" fill="#01fffe"/><rect x="439.26" y="326.90" width="4.51" height="6.75" fill="#02fffd"/><rect x="443.72" y="326.90" width="4.51" height="6.75" fill="#04fffb"/><rect x="448.18" y="326.90" width="4.51" height="6.75" fill="#07fff8"/><rect x="452.63" y="326.90" width="4.51" height="6.75" fill="#0afff5"/><rect x="457.09" y="326.90" width="4.51" height="6.75" fill="#0cfff3"/><rect x="461.55" y="326.90" width="17.88" height="6.75" fill="#0efff1"/><rect x="479.38" y="326.90" width="17.88" height="6.75" fill="#0dfff2"/><rect x="497.20" y="326.90" width="4.51" height="6.75" fill="#0ffff0"/><rect x="501.66" y="326.90" width="4.51" height="6.75" fill="#11ffee"/><rect x="506.12" y="326.90" width="4.51" height="6.75" fill="#15ffea"/><rect x="510.57" y="326.90" width="4.51" height="6.75" fill="#19ffe6"/><rect x="515.03" y="326.90" width="4.51" height="6.75" fill="#1cffe3"/><rect x="519.49" y="326.90" width="4.51" height="6.75" fill="#1fffe0"/><rect x="523.94" y="326.90" width="8.96" height="6.75" fill="#21ffde"/><rect x="532.86" y="326.90" width="4.51" height="6.75" fill="#20ffdf"/><rect x="537.32" y="326.90" width="4.51" height="6.75" fill="#1dffe2"/><rect x="541.77" y="326.90" width="4.51" height="6.75" fill="#19ffe6"/><rect x="546.23" y="326.90" width="4.51" height="6.75" fill="#14ffeb"/><rect x="550.69" y="326.90" width="4.51" height="6.75" fill="#12ffed"/><rect x="555.14" y="326.90" width="13.42" height="6.75" fill="#10ffef"/><rect x="176.30" y="333.60" width="4.51" height="6.75" fill="#0000f6"/><rect x="180.76" y="333.60" width="8.96" height="6.75" fill="#0000f5"/><rect x="189.67" y="333.60" width="4.51" height="6.75" fill="#0000f7"/><rect x="194.13" y="333.60" width="4.51" height="6.75" fill="#0000fd"/><rect x="198.58" y="333.60" width="4.51" height="6.75" fill="#0008ff"/><rect x="203.04" y="333.60" width="4.51" height="6.75" fill="#0011ff"/><rect x="207.50" y="333.60" width="4.51" height="6.75" fill="#0018ff"/><rect x="211.95" y="333.60" width="4.51" height="6.75" fill="#001cff"/><rect x="216.41" y="333.60" width="4.51" height="6.75" fill="#0020ff"/><rect x="220.87" y="333.60" width="4.51" height="6.75" fill="#0022ff"/><rect x="225.33" y="333.60" width="4.51" height="6.75" fill="#0025ff"/><rect x="229.78" y="333.60" width="4.51" height="6.75" fill="#0027ff"/><rect x="234.24" y="333.60" width="4.51" height="6.75" fill="#002aff"/><rect x="238.70" y="333.60" width="4.51" height="6.75" fill="#0031ff"/><rect x="243.15" y="333.60" width="4.51" height="6.75" fill="#003aff"/><rect x="247.61" y="333.60" width="4.51" height="6.75" fill="#0046ff"/><rect x="252.07" y="333.60" width="4.51" height="6.75" fill="#0051ff"/><rect x="256.52" y="333.60" width="4.51" height="6.75" fill="#005aff"/><rect x="260.98" y="333.60" width="4.51" height="6.75" fill="#0060ff"/><rect x="265.44" y="333.60" width="4.51" height="6.75" fill="#0063ff"/><rect x="269.90" y="333.60" width="4.51" height="6.75" fill="#0064ff"/><rect x="274.35" y="333.60" width="4.51" height="6.75" fill="#0066ff"/><rect x="278.81" y="333.60" width="4.51" height="6.75" fill="#0069ff"/><rect x="283.27" y="333.60" width="4.51" height="6.75" fill="#006eff"/><rect x="287.72" y="333.60" width="4.51" height="6.75" fill="#0075ff"/><rect x="292.18" y="333.60" width="4.51" height="6.75" fill="#007fff"/><rect x="296.64" y="333.60" width="4.51" height="6.75" fill="#0088ff"/><rect x="301.10" y="333.60" width="4.51" height="6.75" fill="#0090ff"/><rect x="305.55" y="333.60" width="4.51" height="6.75" fill="#0094ff"/><rect x="310.01" y="333.60" width="4.51" height="6.75" fill="#0097ff"/><rect x="314.47" y="333.60" width="4.51" height="6.75" fill="#0098ff"/><rect x="318.92" y="333.60" width="4.51" height="6.75" fill="#0099ff"/><rect x="323.38" y="333.60" width="4.51" height="6.75" fill="#009bff"/><rect x="327.84" y="333.60" width="4.51" height="6.75" fill="#009eff"/><rect x="332.29" y="333.60" width="4.51" height="6.75" fill="#00a3ff"/><rect x="336.75" y="333.60" width="4.51" height="6.75" fill="#00aaff"/><rect x="341.21" y="333.60" width="4.51" height="6.75" fill="#00b1ff"/><rect x="345.66" y="333.60" width="4.51" height="6.75" fill="#00b9ff"/><rect x="350.12" y="333.60" width="4.51" height="6.75" fill="#00c1ff"/><rect x="354.58" y="333.60" width="4.51" height="6.75" fill="#00c9ff"/><rect x="359.04" y="333.60" width="4.51" height="6.75" fill="#00cfff"/><rect x="363.49" y="333.60" width="4.51" height="6.75" fill="#00d3ff"/><rect x="367.95" y="333.60" width="4.51" height="6.75" fill="#00d5ff"/><rect x="372.41" y="333.60" width="4.51" height="6.75" fill="#00d6ff"/><rect x="376.86" y="333.60" width="4.51" height="6.75" fill="#00d7ff"/><rect x="381.32" y="333.60" width="4.51" height="6.75" fill="#00d9ff"/><rect x="385.78" y="333.60" width="4.51" height="6.75" fill="#00deff"/><rect x="390.24" y="333.60" width="4.51" height="6.75" fill="#00e3ff"/><rect x="394.69" y="333.60" width="4.51" height="6.75" fill="#00e7ff"/><rect x="399.15" y="333.60" width="4.51" height="6.75" fill="#00e8ff"/><rect x="403.61" y="333.60" width="8.96" height="6.75" fill="#00e9ff"/><rect x="412.52" y="333.60" width="4.51" height="6.75" fill="#00ebff"/><rect x="416.98" y="333.60" width="4.51" height="6.75" fill="#00eeff"/><rect x="421.43" y="333.60" width="4.51" height="6.75" fill="#00f1ff"/><rect x="425.89" y="333.60" width="4.51" height="6.75" fill="#00f4ff"/><rect x="430.35" y="333.60" width="4.51" height="6.75" fill="#00f7ff"/><rect x="434.80" y="333.60" width="4.51" height="6.75" fill="#00faff"/><rect x="439.26" y="333.60" width="4.51" height="6.75" fill="#00feff"/><rect x="443.72" y="333.60" width="4.51" height="6.75" fill="#03fffc"/><rect x="448.18" y="333.60" width="4.51" height="6.75" fill="#08fff7"/><rect x="452.63" y="333.60" width="4.51" height="6.75" fill="#0dfff2"/><rect x="457.09" y="333.60" width="4.51" height="6.75" fill="#10ffef"/><rect x="461.55" y="333.60" width="8.96" height="6.75" fill="#12ffed"/><rect x="470.46" y="333.60" width="4.51" height="6.75" fill="#10ffef"/><rect x="474.92" y="333.60" width="4.51" height="6.75" fill="#0ffff0"/><rect x="479.38" y="333.60" width="4.51" height="6.75" fill="#0dfff2"/><rect x="483.83" y="333.60" width="4.51" height="6.75" fill="#0cfff3"/><rect x="488.29" y="333.60" width="4.51" height="6.75" fill="#0bfff4"/><rect x="492.75" y="333.60" width="4.51" height="6.75" fill="#0cfff3"/><rect x="497.20" y="333.60" width="4.51" height="6.75" fill="#0dfff2"/><rect x="501.66" y="333.60" width="4.51" height="6.75" fill="#10ffef"/><rect x="506.12" y="333.60" width="4.51" height="6.75" fill="#15ffea"/><rect x="510.57" y="333.60" width="4.51" height="6.75" fill="#1affe5"/><rect x="515.03" y="333.60" width="4.51" height="6.75" fill="#1fffe0"/><rect x="519.49" y="333.60" width="4.51" height="6.75" fill="#22ffdd"/><rect x="523.94" y="333.60" width="4.51" height="6.75" fill="#23ffdc"/><rect x="528.40" y="333.60" width="4.51" height="6.75" fill="#24ffdb"/><rect x="532.86" y="333.60" width="4.51" height="6.75" fill="#23ffdc"/><rect x="537.32" y="333.60" width="4.51" height="6.75" fill="#20ffdf"/><rect x="541.77" y="333.60" width="4.51" height="6.75" fill="#19ffe6"/><rect x="546.23" y="333.60" width="4.51" height="6.75" fill="#13ffec"/><rect x="550.69" y="333.60" width="4.51" height="6.75" fill="#10ffef"/><rect x="555.14" y="333.60" width="13.42" height="6.75" fill="#0ffff0"/><rect x="176.30" y="340.30" width="4.51" height="6.75" fill="#0000f6"/><rect x="180.76" y="340.30" width="8.96" height="6.75" fill="#0000f5"/><rect x="189.67" y="340.30" width="4.51" height="6.75" fill="#0000f7"/><rect x="194.13" y="340.30" width="4.51" height="6.75" fill="#0000fc"/><rect x="198.58" y="340.30" width="4.51" height="6.75" fill="#0006ff"/><rect x="203.04" y="340.30" width="4.51" height="6.75" fill="#000fff"/><rect x="207.50" y="340.30" width="4.51" height="6.75" fill="#0017ff"/><rect x="211.95" y="340.30" width="4.51" height="6.75" fill="#001dff"/><rect x="216.41" y="340.30" width="4.51" height="6.75" fill="#0022ff"/><rect x="220.87" y="340.30" width="13.42" height="6.75" fill="#0024ff"/><rect x="234.24" y="340.30" width="4.51" height="6.75" fill="#0026ff"/><rect x="238.70" y="340.30" width="4.51" height="6.75" fill="#002bff"/><rect x="243.15" y="340.30" width="4.51" height="6.75" fill="#0035ff"/><rect x="247.61" y="340.30" width="4.51" height="6.75" fill="#0043ff"/><rect x="252.07" y="340.30" width="4.51" height="6.75" fill="#0052ff"/><rect x="256.52" y="340.30" width="4.51" height="6.75" fill="#005dff"/><rect x="260.98" y="340.30" width="4.51" height="6.75" fill="#0063ff"/><rect x="265.44" y="340.30" width="4.51" height="6.75" fill="#0065ff"/><rect x="269.90" y="340.30" width="4.51" height="6.75" fill="#0066ff"/><rect x="274.35" y="340.30" width="4.51" height="6.75" fill="#0065ff"/><rect x="278.81" y="340.30" width="4.51" height="6.75" fill="#0066ff"/><rect x="283.27" y="340.30" width="4.51" height="6.75" fill="#0069ff"/><rect x="287.72" y="340.30" width="4.51" height="6.75" fill="#006eff"/><rect x="292.18" y="340.30" width="4.51" height="6.75" fill="#0075ff"/><rect x="296.64" y="340.30" width="4.51" height="6.75" fill="#007cff"/><rect x="301.10" y="340.30" width="4.51" height="6.75" fill="#0082ff"/><rect x="305.55" y="340.30" width="4.51" height="6.75" fill="#0087ff"/><rect x="310.01" y="340.30" width="4.51" height="6.75" fill="#008bff"/><rect x="314.47" y="340.30" width="4.51" height="6.75" fill="#008eff"/><rect x="318.92" y="340.30" width="4.51" height="6.75" fill="#0090ff"/><rect x="323.38" y="340.30" width="4.51" height="6.75" fill="#0094ff"/><rect x="327.84" y="340.30" width="4.51" height="6.75" fill="#0098ff"/><rect x="332.29" y="340.30" width="4.51" height="6.75" fill="#009dff"/><rect x="336.75" y="340.30" width="4.51" height="6.75" fill="#00a3ff"/><rect x="341.21" y="340.30" width="4.51" height="6.75" fill="#00aaff"/><rect x="345.66" y="340.30" width="4.51" height="6.75" fill="#00b2ff"/><rect x="350.12" y="340.30" width="4.51" height="6.75" fill="#00baff"/><rect x="354.58" y="340.30" width="4.51" height="6.75" fill="#00c1ff"/><rect x="359.04" y="340.30" width="4.51" height="6.75" fill="#00c8ff"/><rect x="363.49" y="340.30" width="4.51" height="6.75" fill="#00cdff"/><rect x="367.95" y="340.30" width="4.51" height="6.75" fill="#00d1ff"/><rect x="372.41" y="340.30" width="4.51" height="6.75" fill="#00d3ff"/><rect x="376.86" y="340.30" width="4.51" height="6.75" fill="#00d5ff"/><rect x="381.32" y="340.30" width="4.51" height="6.75" fill="#00d7ff"/><rect x="385.78" y="340.30" width="13.42" height="6.75" fill="#00d8ff"/><rect x="399.15" y="340.30" width="4.51" height="6.75" fill="#00dbff"/><rect x="403.61" y="340.30" width="4.51" height="6.75" fill="#00deff"/><rect x="408.06" y="340.30" width="4.51" height="6.75" fill="#00e1ff"/><rect x="412.52" y="340.30" width="4.51" height="6.75" fill="#00e3ff"/><rect x="416.98" y="340.30" width="4.51" height="6.75" fill="#00e6ff"/><rect x="421.43" y="340.30" width="4.51" height="6.75" fill="#00e9ff"/><rect x="425.89" y="340.30" width="4.51" height="6.75" fill="#00ecff"/><rect x="430.35" y="340.30" width="4.51" height="6.75" fill="#00f0ff"/><rect x="434.80" y="340.30" width="4.51" height="6.75" fill="#00f5ff"/><rect x="439.26" y="340.30" width="4.51" height="6.75" fill="#00fbff"/><rect x="443.72" y="340.30" width="4.51" height="6.75" fill="#04fffb"/><rect x="448.18" y="340.30" width="4.51" height="6.75" fill="#0cfff3"/><rect x="452.63" y="340.30" width="4.51" height="6.75" fill="#12ffed"/><rect x="457.09" y="340.30" width="4.51" height="6.75" fill="#17ffe8"/><rect x="461.55" y="340.30" width="8.96" height="6.75" fill="#18ffe7"/><rect x="470.46" y="340.30" width="4.51" height="6.75" fill="#16ffe9"/><rect x="474.92" y="340.30" width="4.51" height="6.75" fill="#12ffed"/><rect x="479.38" y="340.30" width="4.51" height="6.75" fill="#0efff1"/><rect x="483.83" y="340.30" width="4.51" height="6.75" fill="#0bfff4"/><rect x="488.29" y="340.30" width="8.96" height="6.75" fill="#0afff5"/><rect x="497.20" y="340.30" width="4.51" height="6.75" fill="#0bfff4"/><rect x="501.66" y="340.30" width="4.51" height="6.75" fill="#0efff1"/><rect x="506.12" y="340.30" width="4.51" height="6.75" fill="#13ffec"/><rect x="510.57" y="340.30" width="4.51" height="6.75" fill="#19ffe6"/><rect x="515.03" y="340.30" width="4.51" height="6.75" fill="#1effe1"/><rect x="519.49" y="340.30" width="4.51" height="6.75" fill="#22ffdd"/><rect x="523.94" y="340.30" width="4.51" height="6.75" fill="#23ffdc"/><rect x="528.40" y="340.30" width="4.51" height="6.75" fill="#24ffdb"/><rect x="532.86" y="340.30" width="4.51" height="6.75" fill="#23ffdc"/><rect x="537.32" y="340.30" width="4.51" height="6.75" fill="#20ffdf"/><rect x="541.77" y="340.30" width="4.51" height="6.75" fill="#19ffe6"/><rect x="546.23" y="340.30" width="4.51" height="6.75" fill="#12ffed"/><rect x="550.69" y="340.30" width="4.51" height="6.75" fill="#10ffef"/><rect x="555.14" y="340.30" width="13.42" height="6.75" fill="#0ffff0"/><rect x="176.30" y="347.00" width="4.51" height="6.75" fill="#0000f9"/><rect x="180.76" y="347.00" width="4.51" height="6.75" fill="#0000f8"/><rect x="185.21" y="347.00" width="4.51" height="6.75" fill="#0000f9"/><rect x="189.67" y="347.00" width="4.51" height="6.75" fill="#0000fb"/><rect x="194.13" y="347.00" width="4.51" height="6.75" fill="#0001ff"/><rect x="198.58" y="347.00" width="4.51" height="6.75" fill="#0006ff"/><rect x="203.04" y="347.00" width="4.51" height="6.75" fill="#000dff"/><rect x="207.50" y="347.00" width="4.51" height="6.75" fill="#0015ff"/><rect x="211.95" y="347.00" width="4.51" height="6.75" fill="#001cff"/><rect x="216.41" y="347.00" width="4.51" height="6.75" fill="#0022ff"/><rect x="220.87" y="347.00" width="17.88" height="6.75" fill="#0024ff"/><rect x="238.70" y="347.00" width="4.51" height="6.75" fill="#0028ff"/><rect x="243.15" y="347.00" width="4.51" height="6.75" fill="#0032ff"/><rect x="247.61" y="347.00" width="4.51" height="6.75" fill="#0041ff"/><rect x="252.07" y="347.00" width="4.51" height="6.75" fill="#0052ff"/><rect x="256.52" y="347.00" width="4.51" height="6.75" fill="#005eff"/><rect x="260.98" y="347.00" width="4.51" height="6.75" fill="#0065ff"/><rect x="265.44" y="347.00" width="13.42" height="6.75" fill="#0066ff"/><rect x="278.81" y="347.00" width="4.51" height="6.75" fill="#0065ff"/><rect x="283.27" y="347.00" width="4.51" height="6.75" fill="#0067ff"/><rect x="287.72" y="347.00" width="4.51" height="6.75" fill="#006aff"/><rect x="292.18" y="347.00" width="4.51" height="6.75" fill="#006eff"/><rect x="296.64" y="347.00" width="4.51" height="6.75" fill="#0073ff"/><rect x="301.10" y="347.00" width="4.51" height="6.75" fill="#0077ff"/><rect x="305.55" y="347.00" width="4.51" height="6.75" fill="#007cff"/><rect x="310.01" y="347.00" width="4.51" height="6.75" fill="#0080ff"/><rect x="314.47" y="347.00" width="4.51" height="6.75" fill="#0083ff"/><rect x="318.92" y="347.00" width="4.51" height="6.75" fill="#0087ff"/><rect x="323.38" y="347.00" width="4.51" height="6.75" fill="#008bff"/><rect x="327.84" y="347.00" width="4.51" height="6.75" fill="#008fff"/><rect x="332.29" y="347.00" width="4.51" height="6.75" fill="#0095ff"/><rect x="336.75" y="347.00" width="4.51" height="6.75" fill="#009aff"/><rect x="341.21" y="347.00" width="4.51" height="6.75" fill="#00a1ff"/><rect x="345.66" y="347.00" width="4.51" height="6.75" fill="#00a8ff"/><rect x="350.12" y="347.00" width="4.51" height="6.75" fill="#00afff"/><rect x="354.58" y="347.00" width="4.51" height="6.75" fill="#00b7ff"/><rect x="359.04" y="347.00" width="4.51" height="6.75" fill="#00bdff"/><rect x="363.49" y="347.00" width="4.51" height="6.75" fill="#00c3ff"/><rect x="367.95" y="347.00" width="4.51" height="6.75" fill="#00c8ff"/><rect x="372.41" y="347.00" width="4.51" height="6.75" fill="#00cdff"/><rect x="376.86" y="347.00" width="4.51" height="6.75" fill="#00d1ff"/><rect x="381.32" y="347.00" width="4.51" height="6.75" fill="#00d4ff"/><rect x="385.78" y="347.00" width="13.42" height="6.75" fill="#00d6ff"/><rect x="399.15" y="347.00" width="4.51" height="6.75" fill="#00d7ff"/><rect x="403.61" y="347.00" width="4.51" height="6.75" fill="#00d8ff"/><rect x="408.06" y="347.00" width="4.51" height="6.75" fill="#00daff"/><rect x="412.52" y="347.00" width="4.51" height="6.75" fill="#00dcff"/><rect x="416.98" y="347.00" width="4.51" height="6.75" fill="#00deff"/><rect x="421.43" y="347.00" width="4.51" height="6.75" fill="#00e1ff"/><rect x="425.89" y="347.00" width="4.51" height="6.75" fill="#00e5ff"/><rect x="430.35" y="347.00" width="4.51" height="6.75" fill="#00e9ff"/><rect x="434.80" y="347.00" width="4.51" height="6.75" fill="#00efff"/><rect x="439.26" y="347.00" width="4.51" height="6.75" fill="#00f7ff"/><rect x="443.72" y="347.00" width="4.51" height="6.75" fill="#02fffd"/><rect x="448.18" y="347.00" width="4.51" height="6.75" fill="#0cfff3"/><rect x="452.63" y="347.00" width="4.51" height="6.75" fill="#14ffeb"/><rect x="457.09" y="347.00" width="13.42" height="6.75" fill="#19ffe6"/><rect x="470.46" y="347.00" width="4.51" height="6.75" fill="#18ffe7"/><rect x="474.92" y="347.00" width="4.51" height="6.75" fill="#13ffec"/><rect x="479.38" y="347.00" width="4.51" height="6.75" fill="#0efff1"/><rect x="483.83" y="347.00" width="4.51" height="6.75" fill="#0afff5"/><rect x="488.29" y="347.00" width="4.51" height="6.75" fill="#08fff7"/><rect x="492.75" y="347.00" width="4.51" height="6.75" fill="#07fff8"/><rect x="497.20" y="347.00" width="4.51" height="6.75" fill="#08fff7"/><rect x="501.66" y="347.00" width="4.51" height="6.75" fill="#0bfff4"/><rect x="506.12" y="347.00" width="4.51" height="6.75" fill="#0ffff0"/><rect x="510.57" y="347.00" width="4.51" height="6.75" fill="#14ffeb"/><rect x="515.03" y="347.00" width="4.51" height="6.75" fill="#1affe5"/><rect x="519.49" y="347.00" width="4.51" height="6.75" fill="#1effe1"/><rect x="523.94" y="347.00" width="4.51" height="6.75" fill="#20ffdf"/><rect x="528.40" y="347.00" width="4.51" height="6.75" fill="#21ffde"/><rect x="532.86" y="347.00" width="4.51" height="6.75" fill="#1fffe0"/><rect x="537.32" y="347.00" width="4.51" height="6.75" fill="#1cffe3"/><rect x="541.77" y="347.00" width="4.51" height="6.75" fill="#17ffe8"/><rect x="546.23" y="347.00" width="4.51" height="6.75" fill="#12ffed"/><rect x="550.69" y="347.00" width="4.51" height="6.75" fill="#10ffef"/><rect x="555.14" y="347.00" width="8.96" height="6.75" fill="#0ffff0"/><rect x="564.06" y="347.00" width="4.51" height="6.75" fill="#0efff1"/><rect x="568.51" y="347.00" width="4.51" height="6.75" fill="#0dfff2"/><rect x="572.97" y="347.00" width="4.51" height="6.75" fill="#0cfff3"/><rect x="194.13" y="353.70" width="4.51" height="6.75" fill="#0001ff"/><rect x="198.58" y="353.70" width="4.51" height="6.75" fill="#0002ff"/><rect x="203.04" y="353.70" width="4.51" height="6.75" fill="#0006ff"/><rect x="207.50" y="353.70" width="4.51" height="6.75" fill="#000dff"/><rect x="211.95" y="353.70" width="4.51" height="6.75" fill="#0017ff"/><rect x="216.41" y="353.70" width="4.51" height="6.75" fill="#001fff"/><rect x="220.87" y="353.70" width="4.51" height="6.75" fill="#0023ff"/><rect x="225.33" y="353.70" width="8.96" height="6.75" fill="#0024ff"/><rect x="234.24" y="353.70" width="4.51" height="6.75" fill="#0026ff"/><rect x="238.70" y="353.70" width="4.51" height="6.75" fill="#002aff"/><rect x="243.15" y="353.70" width="4.51" height="6.75" fill="#0031ff"/><rect x="247.61" y="353.70" width="4.51" height="6.75" fill="#003dff"/><rect x="252.07" y="353.70" width="4.51" height="6.75" fill="#004cff"/><rect x="256.52" y="353.70" width="4.51" height="6.75" fill="#0059ff"/><rect x="260.98" y="353.70" width="4.51" height="6.75" fill="#0061ff"/><rect x="265.44" y="353.70" width="4.51" height="6.75" fill="#0064ff"/><rect x="269.90" y="353.70" width="4.51" height="6.75" fill="#0065ff"/><rect x="274.35" y="353.70" width="8.96" height="6.75" fill="#0064ff"/><rect x="283.27" y="353.70" width="4.51" height="6.75" fill="#0065ff"/><rect x="287.72" y="353.70" width="4.51" height="6.75" fill="#0068ff"/><rect x="292.18" y="353.70" width="4.51" height="6.75" fill="#006aff"/><rect x="296.64" y="353.70" width="4.51" height="6.75" fill="#006dff"/><rect x="301.10" y="353.70" width="4.51" height="6.75" fill="#0071ff"/><rect x="305.55" y="353.70" width="4.51" height="6.75" fill="#0074ff"/><rect x="310.01" y="353.70" width="4.51" height="6.75" fill="#0077ff"/><rect x="314.47" y="353.70" width="4.51" height="6.75" fill="#007bff"/><rect x="318.92" y="353.70" width="4.51" height="6.75" fill="#007fff"/><rect x="323.38" y="353.70" width="4.51" height="6.75" fill="#0082ff"/><rect x="327.84" y="353.70" width="4.51" height="6.75" fill="#0087ff"/><rect x="332.29" y="353.70" width="4.51" height="6.75" fill="#008bff"/><rect x="336.75" y="353.70" width="4.51" height="6.75" fill="#0091ff"/><rect x="341.21" y="353.70" width="4.51" height="6.75" fill="#0096ff"/><rect x="345.66" y="353.70" width="4.51" height="6.75" fill="#009dff"/><rect x="350.12" y="353.70" width="4.51" height="6.75" fill="#00a3ff"/><rect x="354.58" y="353.70" width="4.51" height="6.75" fill="#00aaff"/><rect x="359.04" y="353.70" width="4.51" height="6.75" fill="#00b0ff"/><rect x="363.49" y="353.70" width="4.51" height="6.75" fill="#00b6ff"/><rect x="367.95" y="353.70" width="4.51" height="6.75" fill="#00bcff"/><rect x="372.41" y="353.70" width="4.51" height="6.75" fill="#00c2ff"/><rect x="376.86" y="353.70" width="4.51" height="6.75" fill="#00c8ff"/><rect x="381.32" y="353.70" width="4.51" height="6.75" fill="#00ceff"/><rect x="385.78" y="353.70" width="4.51" height="6.75" fill="#00d3ff"/><rect x="390.24" y="353.70" width="13.42" height="6.75" fill="#00d5ff"/><rect x="403.61" y="353.70" width="8.96" height="6.75" fill="#00d4ff"/><rect x="412.52" y="353.70" width="4.51" height="6.75" fill="#00d5ff"/><rect x="416.98" y="353.70" width="4.51" height="6.75" fill="#00d6ff"/><rect x="421.43" y="353.70" width="4.51" height="6.75" fill="#00d9ff"/><rect x="425.89" y="353.70" width="4.51" height="6.75" fill="#00dcff"/><rect x="430.35" y="353.70" width="4.51" height="6.75" fill="#00e1ff"/><rect x="434.80" y="353.70" width="4.51" height="6.75" fill="#00e7ff"/><rect x="439.26" y="353.70" width="4.51" height="6.75" fill="#00f0ff"/><rect x="443.72" y="353.70" width="4.51" height="6.75" fill="#00faff"/><rect x="448.18" y="353.70" width="4.51" height="6.75" fill="#06fff9"/><rect x="452.63" y="353.70" width="4.51" height="6.75" fill="#0ffff0"/><rect x="457.09" y="353.70" width="4.51" height="6.75" fill="#15ffea"/><rect x="461.55" y="353.70" width="8.96" height="6.75" fill="#17ffe8"/><rect x="470.46" y="353.70" width="4.51" height="6.75" fill="#14ffeb"/><rect x="474.92" y="353.70" width="4.51" height="6.75" fill="#10ffef"/><rect x="479.38" y="353.70" width="4.51" height="6.75" fill="#0afff5"/><rect x="483.83" y="353.70" width="4.51" height="6.75" fill="#06fff9"/><rect x="488.29" y="353.70" width="8.96" height="6.75" fill="#04fffb"/><rect x="497.20" y="353.70" width="4.51" height="6.75" fill="#05fffa"/><rect x="501.66" y="353.70" width="4.51" height="6.75" fill="#07fff8"/><rect x="506.12" y="353.70" width="4.51" height="6.75" fill="#0afff5"/><rect x="510.57" y="353.70" width="4.51" height="6.75" fill="#0efff1"/><rect x="515.03" y="353.70" width="4.51" height="6.75" fill="#12ffed"/><rect x="519.49" y="353.70" width="4.51" height="6.75" fill="#16ffe9"/><rect x="523.94" y="353.70" width="4.51" height="6.75" fill="#18ffe7"/><rect x="528.40" y="353.70" width="4.51" height="6.75" fill="#19ffe6"/><rect x="532.86" y="353.70" width="4.51" height="6.75" fill="#18ffe7"/><rect x="537.32" y="353.70" width="4.51" height="6.75" fill="#16ffe9"/><rect x="541.77" y="353.70" width="4.51" height="6.75" fill="#13ffec"/><rect x="546.23" y="353.70" width="4.51" height="6.75" fill="#11ffee"/><rect x="550.69" y="353.70" width="4.51" height="6.75" fill="#0ffff0"/><rect x="555.14" y="353.70" width="4.51" height="6.75" fill="#0efff1"/><rect x="559.60" y="353.70" width="4.51" height="6.75" fill="#0cfff3"/><rect x="564.06" y="353.70" width="4.51" height="6.75" fill="#0bfff4"/><rect x="568.51" y="353.70" width="4.51" height="6.75" fill="#09fff6"/><rect x="572.97" y="353.70" width="4.51" height="6.75" fill="#08fff7"/><rect x="198.58" y="360.40" width="4.51" height="6.75" fill="#0000fb"/><rect x="203.04" y="360.40" width="4.51" height="6.75" fill="#0000fd"/><rect x="207.50" y="360.40" width="4.51" height="6.75" fill="#0004ff"/><rect x="211.95" y="360.40" width="4.51" height="6.75" fill="#000eff"/><rect x="216.41" y="360.40" width="4.51" height="6.75" fill="#0019ff"/><rect x="220.87" y="360.40" width="4.51" height="6.75" fill="#001fff"/><rect x="225.33" y="360.40" width="4.51" height="6.75" fill="#0023ff"/><rect x="229.78" y="360.40" width="4.51" height="6.75" fill="#0025ff"/><rect x="234.24" y="360.40" width="4.51" height="6.75" fill="#0026ff"/><rect x="238.70" y="360.40" width="4.51" height="6.75" fill="#0029ff"/><rect x="243.15" y="360.40" width="4.51" height="6.75" fill="#002eff"/><rect x="247.61" y="360.40" width="4.51" height="6.75" fill="#0035ff"/><rect x="252.07" y="360.40" width="4.51" height="6.75" fill="#0040ff"/><rect x="256.52" y="360.40" width="4.51" height="6.75" fill="#004cff"/><rect x="260.98" y="360.40" width="4.51" height="6.75" fill="#0056ff"/><rect x="265.44" y="360.40" width="4.51" height="6.75" fill="#005cff"/><rect x="269.90" y="360.40" width="4.51" height="6.75" fill="#005fff"/><rect x="274.35" y="360.40" width="4.51" height="6.75" fill="#0061ff"/><rect x="278.81" y="360.40" width="4.51" height="6.75" fill="#0063ff"/><rect x="283.27" y="360.40" width="4.51" height="6.75" fill="#0066ff"/><rect x="287.72" y="360.40" width="4.51" height="6.75" fill="#0068ff"/><rect x="292.18" y="360.40" width="4.51" height="6.75" fill="#006aff"/><rect x="296.64" y="360.40" width="4.51" height="6.75" fill="#006cff"/><rect x="301.10" y="360.40" width="4.51" height="6.75" fill="#006dff"/><rect x="305.55" y="360.40" width="4.51" height="6.75" fill="#0070ff"/><rect x="310.01" y="360.40" width="4.51" height="6.75" fill="#0072ff"/><rect x="314.47" y="360.40" width="4.51" height="6.75" fill="#0075ff"/><rect x="318.92" y="360.40" width="4.51" height="6.75" fill="#0078ff"/><rect x="323.38" y="360.40" width="4.51" height="6.75" fill="#007bff"/><rect x="327.84" y="360.40" width="4.51" height="6.75" fill="#007eff"/><rect x="332.29" y="360.40" width="4.51" height="6.75" fill="#0082ff"/><rect x="336.75" y="360.40" width="4.51" height="6.75" fill="#0086ff"/><rect x="341.21" y="360.40" width="4.51" height="6.75" fill="#008bff"/><rect x="345.66" y="360.40" width="4.51" height="6.75" fill="#0090ff"/><rect x="350.12" y="360.40" width="4.51" height="6.75" fill="#0097ff"/><rect x="354.58" y="360.40" width="4.51" height="6.75" fill="#009dff"/><rect x="359.04" y="360.40" width="4.51" height="6.75" fill="#00a2ff"/><rect x="363.49" y="360.40" width="4.51" height="6.75" fill="#00a7ff"/><rect x="367.95" y="360.40" width="4.51" height="6.75" fill="#00acff"/><rect x="372.41" y="360.40" width="4.51" height="6.75" fill="#00b1ff"/><rect x="376.86" y="360.40" width="4.51" height="6.75" fill="#00b8ff"/><rect x="381.32" y="360.40" width="4.51" height="6.75" fill="#00bfff"/><rect x="385.78" y="360.40" width="4.51" height="6.75" fill="#00c6ff"/><rect x="390.24" y="360.40" width="4.51" height="6.75" fill="#00cbff"/><rect x="394.69" y="360.40" width="8.96" height="6.75" fill="#00ccff"/><rect x="403.61" y="360.40" width="4.51" height="6.75" fill="#00cbff"/><rect x="408.06" y="360.40" width="4.51" height="6.75" fill="#00caff"/><rect x="412.52" y="360.40" width="4.51" height="6.75" fill="#00cbff"/><rect x="416.98" y="360.40" width="4.51" height="6.75" fill="#00ccff"/><rect x="421.43" y="360.40" width="4.51" height="6.75" fill="#00cfff"/><rect x="425.89" y="360.40" width="4.51" height="6.75" fill="#00d2ff"/><rect x="430.35" y="360.40" width="4.51" height="6.75" fill="#00d7ff"/><rect x="434.80" y="360.40" width="4.51" height="6.75" fill="#00dcff"/><rect x="439.26" y="360.40" width="4.51" height="6.75" fill="#00e3ff"/><rect x="443.72" y="360.40" width="4.51" height="6.75" fill="#00ebff"/><rect x="448.18" y="360.40" width="4.51" height="6.75" fill="#00f4ff"/><rect x="452.63" y="360.40" width="4.51" height="6.75" fill="#00feff"/><rect x="457.09" y="360.40" width="4.51" height="6.75" fill="#07fff8"/><rect x="461.55" y="360.40" width="8.96" height="6.75" fill="#0bfff4"/><rect x="470.46" y="360.40" width="4.51" height="6.75" fill="#09fff6"/><rect x="474.92" y="360.40" width="4.51" height="6.75" fill="#06fff9"/><rect x="479.38" y="360.40" width="4.51" height="6.75" fill="#03fffc"/><rect x="483.83" y="360.40" width="4.51" height="6.75" fill="#01fffe"/><rect x="488.29" y="360.40" width="4.51" height="6.75" fill="#02fffd"/><rect x="492.75" y="360.40" width="4.51" height="6.75" fill="#03fffc"/><rect x="497.20" y="360.40" width="8.96" height="6.75" fill="#04fffb"/><rect x="506.12" y="360.40" width="4.51" height="6.75" fill="#06fff9"/><rect x="510.57" y="360.40" width="4.51" height="6.75" fill="#08fff7"/><rect x="515.03" y="360.40" width="4.51" height="6.75" fill="#0bfff4"/><rect x="519.49" y="360.40" width="4.51" height="6.75" fill="#0efff1"/><rect x="523.94" y="360.40" width="4.51" height="6.75" fill="#10ffef"/><rect x="528.40" y="360.40" width="8.96" height="6.75" fill="#12ffed"/><rect x="537.32" y="360.40" width="4.51" height="6.75" fill="#11ffee"/><rect x="541.77" y="360.40" width="4.51" height="6.75" fill="#10ffef"/><rect x="546.23" y="360.40" width="4.51" height="6.75" fill="#0efff1"/><rect x="550.69" y="360.40" width="4.51" height="6.75" fill="#0cfff3"/><rect x="555.14" y="360.40" width="4.51" height="6.75" fill="#0afff5"/><rect x="559.60" y="360.40" width="4.51" height="6.75" fill="#08fff7"/><rect x="564.06" y="360.40" width="4.51" height="6.75" fill="#07fff8"/><rect x="568.51" y="360.40" width="4.51" height="6.75" fill="#05fffa"/><rect x="572.97" y="360.40" width="8.96" height="6.75" fill="#04fffb"/><rect x="581.89" y="360.40" width="8.96" height="6.75" fill="#03fffc"/><rect x="198.58" y="367.10" width="4.51" height="6.75" fill="#0000fa"/><rect x="203.04" y="367.10" width="4.51" height="6.75" fill="#0000fb"/><rect x="207.50" y="367.10" width="4.51" height="6.75" fill="#0000ff"/><rect x="211.95" y="367.10" width="4.51" height="6.75" fill="#0009ff"/><rect x="216.41" y="367.10" width="4.51" height="6.75" fill="#0014ff"/><rect x="220.87" y="367.10" width="4.51" height="6.75" fill="#001cff"/><rect x="225.33" y="367.10" width="4.51" height="6.75" fill="#0021ff"/><rect x="229.78" y="367.10" width="4.51" height="6.75" fill="#0023ff"/><rect x="234.24" y="367.10" width="4.51" height="6.75" fill="#0024ff"/><rect x="238.70" y="367.10" width="4.51" height="6.75" fill="#0025ff"/><rect x="243.15" y="367.10" width="4.51" height="6.75" fill="#0027ff"/><rect x="247.61" y="367.10" width="4.51" height="6.75" fill="#002bff"/><rect x="252.07" y="367.10" width="4.51" height="6.75" fill="#0034ff"/><rect x="256.52" y="367.10" width="4.51" height="6.75" fill="#003eff"/><rect x="260.98" y="367.10" width="4.51" height="6.75" fill="#0049ff"/><rect x="265.44" y="367.10" width="4.51" height="6.75" fill="#0052ff"/><rect x="269.90" y="367.10" width="4.51" height="6.75" fill="#0059ff"/><rect x="274.35" y="367.10" width="4.51" height="6.75" fill="#0060ff"/><rect x="278.81" y="367.10" width="4.51" height="6.75" fill="#0066ff"/><rect x="283.27" y="367.10" width="4.51" height="6.75" fill="#006aff"/><rect x="287.72" y="367.10" width="4.51" height="6.75" fill="#006cff"/><rect x="292.18" y="367.10" width="4.51" height="6.75" fill="#006dff"/><rect x="296.64" y="367.10" width="4.51" height="6.75" fill="#006cff"/><rect x="301.10" y="367.10" width="4.51" height="6.75" fill="#006dff"/><rect x="305.55" y="367.10" width="4.51" height="6.75" fill="#006fff"/><rect x="310.01" y="367.10" width="4.51" height="6.75" fill="#0071ff"/><rect x="314.47" y="367.10" width="4.51" height="6.75" fill="#0073ff"/><rect x="318.92" y="367.10" width="4.51" height="6.75" fill="#0074ff"/><rect x="323.38" y="367.10" width="4.51" height="6.75" fill="#0076ff"/><rect x="327.84" y="367.10" width="4.51" height="6.75" fill="#0077ff"/><rect x="332.29" y="367.10" width="4.51" height="6.75" fill="#0079ff"/><rect x="336.75" y="367.10" width="4.51" height="6.75" fill="#007cff"/><rect x="341.21" y="367.10" width="4.51" height="6.75" fill="#007fff"/><rect x="345.66" y="367.10" width="4.51" height="6.75" fill="#0084ff"/><rect x="350.12" y="367.10" width="4.51" height="6.75" fill="#008aff"/><rect x="354.58" y="367.10" width="4.51" height="6.75" fill="#0091ff"/><rect x="359.04" y="367.10" width="4.51" height="6.75" fill="#0098ff"/><rect x="363.49" y="367.10" width="4.51" height="6.75" fill="#009cff"/><rect x="367.95" y="367.10" width="4.51" height="6.75" fill="#009eff"/><rect x="372.41" y="367.10" width="4.51" height="6.75" fill="#00a1ff"/><rect x="376.86" y="367.10" width="4.51" height="6.75" fill="#00a4ff"/><rect x="381.32" y="367.10" width="4.51" height="6.75" fill="#00aaff"/><rect x="385.78" y="367.10" width="4.51" height="6.75" fill="#00b0ff"/><rect x="390.24" y="367.10" width="4.51" height="6.75" fill="#00b5ff"/><rect x="394.69" y="367.10" width="4.51" height="6.75" fill="#00b8ff"/><rect x="399.15" y="367.10" width="4.51" height="6.75" fill="#00b9ff"/><rect x="403.61" y="367.10" width="4.51" height="6.75" fill="#00baff"/><rect x="408.06" y="367.10" width="4.51" height="6.75" fill="#00bbff"/><rect x="412.52" y="367.10" width="4.51" height="6.75" fill="#00beff"/><rect x="416.98" y="367.10" width="4.51" height="6.75" fill="#00c1ff"/><rect x="421.43" y="367.10" width="4.51" height="6.75" fill="#00c4ff"/><rect x="425.89" y="367.10" width="4.51" height="6.75" fill="#00c8ff"/><rect x="430.35" y="367.10" width="4.51" height="6.75" fill="#00cbff"/><rect x="434.80" y="367.10" width="4.51" height="6.75" fill="#00cfff"/><rect x="439.26" y="367.10" width="4.51" height="6.75" fill="#00d2ff"/><rect x="443.72" y="367.10" width="4.51" height="6.75" fill="#00d6ff"/><rect x="448.18" y="367.10" width="4.51" height="6.75" fill="#00dcff"/><rect x="452.63" y="367.10" width="4.51" height="6.75" fill="#00e2ff"/><rect x="457.09" y="367.10" width="4.51" height="6.75" fill="#00e9ff"/><rect x="461.55" y="367.10" width="4.51" height="6.75" fill="#00eeff"/><rect x="466.00" y="367.10" width="4.51" height="6.75" fill="#00f3ff"/><rect x="470.46" y="367.10" width="4.51" height="6.75" fill="#00f5ff"/><rect x="474.92" y="367.10" width="4.51" height="6.75" fill="#00f7ff"/><rect x="479.38" y="367.10" width="4.51" height="6.75" fill="#00faff"/><rect x="483.83" y="367.10" width="4.51" height="6.75" fill="#00feff"/><rect x="488.29" y="367.10" width="4.51" height="6.75" fill="#02fffd"/><rect x="492.75" y="367.10" width="13.42" height="6.75" fill="#04fffb"/><rect x="506.12" y="367.10" width="8.96" height="6.75" fill="#05fffa"/><rect x="515.03" y="367.10" width="4.51" height="6.75" fill="#07fff8"/><rect x="519.49" y="367.10" width="4.51" height="6.75" fill="#0afff5"/><rect x="523.94" y="367.10" width="4.51" height="6.75" fill="#0dfff2"/><rect x="528.40" y="367.10" width="4.51" height="6.75" fill="#0ffff0"/><rect x="532.86" y="367.10" width="4.51" height="6.75" fill="#10ffef"/><rect x="537.32" y="367.10" width="4.51" height="6.75" fill="#11ffee"/><rect x="541.77" y="367.10" width="4.51" height="6.75" fill="#10ffef"/><rect x="546.23" y="367.10" width="4.51" height="6.75" fill="#0efff1"/><rect x="550.69" y="367.10" width="4.51" height="6.75" fill="#0bfff4"/><rect x="555.14" y="367.10" width="4.51" height="6.75" fill="#07fff8"/><rect x="559.60" y="367.10" width="4.51" height="6.75" fill="#05fffa"/><rect x="564.06" y="367.10" width="8.96" height="6.75" fill="#03fffc"/><rect x="572.97" y="367.10" width="13.42" height="6.75" fill="#04fffb"/><rect x="586.34" y="367.10" width="4.51" height="6.75" fill="#03fffc"/><rect x="590.80" y="367.10" width="4.51" height="6.75" fill="#02fffd"/><rect x="595.26" y="367.10" width="4.51" height="6.75" fill="#00ffff"/><rect x="599.71" y="367.10" width="4.51" height="6.75" fill="#00feff"/><rect x="203.04" y="373.80" width="4.51" height="6.75" fill="#0000fd"/><rect x="207.50" y="373.80" width="4.51" height="6.75" fill="#0003ff"/><rect x="211.95" y="373.80" width="4.51" height="6.75" fill="#000bff"/><rect x="216.41" y="373.80" width="4.51" height="6.75" fill="#0013ff"/><rect x="220.87" y="373.80" width="4.51" height="6.75" fill="#001bff"/><rect x="225.33" y="373.80" width="4.51" height="6.75" fill="#0020ff"/><rect x="229.78" y="373.80" width="4.51" height="6.75" fill="#0023ff"/><rect x="234.24" y="373.80" width="13.42" height="6.75" fill="#0024ff"/><rect x="247.61" y="373.80" width="4.51" height="6.75" fill="#0026ff"/><rect x="252.07" y="373.80" width="4.51" height="6.75" fill="#002bff"/><rect x="256.52" y="373.80" width="4.51" height="6.75" fill="#0035ff"/><rect x="260.98" y="373.80" width="4.51" height="6.75" fill="#0040ff"/><rect x="265.44" y="373.80" width="4.51" height="6.75" fill="#004cff"/><rect x="269.90" y="373.80" width="4.51" height="6.75" fill="#0056ff"/><rect x="274.35" y="373.80" width="4.51" height="6.75" fill="#0060ff"/><rect x="278.81" y="373.80" width="4.51" height="6.75" fill="#0069ff"/><rect x="283.27" y="373.80" width="4.51" height="6.75" fill="#006eff"/><rect x="287.72" y="373.80" width="4.51" height="6.75" fill="#0070ff"/><rect x="292.18" y="373.80" width="4.51" height="6.75" fill="#006fff"/><rect x="296.64" y="373.80" width="4.51" height="6.75" fill="#006dff"/><rect x="301.10" y="373.80" width="4.51" height="6.75" fill="#006fff"/><rect x="305.55" y="373.80" width="4.51" height="6.75" fill="#0072ff"/><rect x="310.01" y="373.80" width="8.96" height="6.75" fill="#0074ff"/><rect x="318.92" y="373.80" width="4.51" height="6.75" fill="#0073ff"/><rect x="323.38" y="373.80" width="17.88" height="6.75" fill="#0072ff"/><rect x="341.21" y="373.80" width="4.51" height="6.75" fill="#0073ff"/><rect x="345.66" y="373.80" width="4.51" height="6.75" fill="#0077ff"/><rect x="350.12" y="373.80" width="4.51" height="6.75" fill="#007eff"/><rect x="354.58" y="373.80" width="4.51" height="6.75" fill="#0088ff"/><rect x="359.04" y="373.80" width="4.51" height="6.75" fill="#0091ff"/><rect x="363.49" y="373.80" width="4.51" height="6.75" fill="#0097ff"/><rect x="367.95" y="373.80" width="4.51" height="6.75" fill="#0099ff"/><rect x="372.41" y="373.80" width="8.96" height="6.75" fill="#009aff"/><rect x="381.32" y="373.80" width="4.51" height="6.75" fill="#009dff"/><rect x="385.78" y="373.80" width="4.51" height="6.75" fill="#00a0ff"/><rect x="390.24" y="373.80" width="4.51" height="6.75" fill="#00a2ff"/><rect x="394.69" y="373.80" width="8.96" height="6.75" fill="#00a3ff"/><rect x="403.61" y="373.80" width="4.51" height="6.75" fill="#00a5ff"/><rect x="408.06" y="373.80" width="4.51" height="6.75" fill="#00aaff"/><rect x="412.52" y="373.80" width="4.51" height="6.75" fill="#00afff"/><rect x="416.98" y="373.80" width="4.51" height="6.75" fill="#00b6ff"/><rect x="421.43" y="373.80" width="4.51" height="6.75" fill="#00bbff"/><rect x="425.89" y="373.80" width="4.51" height="6.75" fill="#00bfff"/><rect x="430.35" y="373.80" width="4.51" height="6.75" fill="#00c2ff"/><rect x="434.80" y="373.80" width="8.96" height="6.75" fill="#00c3ff"/><rect x="443.72" y="373.80" width="8.96" height="6.75" fill="#00c2ff"/><rect x="452.63" y="373.80" width="4.51" height="6.75" fill="#00c4ff"/><rect x="457.09" y="373.80" width="4.51" height="6.75" fill="#00c8ff"/><rect x="461.55" y="373.80" width="4.51" height="6.75" fill="#00cfff"/><rect x="466.00" y="373.80" width="4.51" height="6.75" fill="#00d8ff"/><rect x="470.46" y="373.80" width="4.51" height="6.75" fill="#00e2ff"/><rect x="474.92" y="373.80" width="4.51" height="6.75" fill="#00ecff"/><rect x="479.38" y="373.80" width="4.51" height="6.75" fill="#00f5ff"/><rect x="483.83" y="373.80" width="4.51" height="6.75" fill="#00fdff"/><rect x="488.29" y="373.80" width="4.51" height="6.75" fill="#03fffc"/><rect x="492.75" y="373.80" width="22.34" height="6.75" fill="#05fffa"/><rect x="519.49" y="373.80" width="4.51" height="6.75" fill="#0afff5"/><rect x="523.94" y="373.80" width="4.51" height="6.75" fill="#0efff1"/><rect x="528.40" y="373.80" width="4.51" height="6.75" fill="#12ffed"/><rect x="532.86" y="373.80" width="4.51" height="6.75" fill="#14ffeb"/><rect x="537.32" y="373.80" width="4.51" height="6.75" fill="#15ffea"/><rect x="541.77" y="373.80" width="4.51" height="6.75" fill="#14ffeb"/><rect x="546.23" y="373.80" width="4.51" height="6.75" fill="#11ffee"/><rect x="550.69" y="373.80" width="4.51" height="6.75" fill="#0cfff3"/><rect x="555.14" y="373.80" width="4.51" height="6.75" fill="#06fff9"/><rect x="559.60" y="373.80" width="4.51" height="6.75" fill="#02fffd"/><rect x="568.51" y="373.80" width="4.51" height="6.75" fill="#03fffc"/><rect x="572.97" y="373.80" width="13.42" height="6.75" fill="#05fffa"/><rect x="586.34" y="373.80" width="4.51" height="6.75" fill="#04fffb"/><rect x="590.80" y="373.80" width="4.51" height="6.75" fill="#02fffd"/><rect x="595.26" y="373.80" width="4.51" height="6.75" fill="#00ffff"/><rect x="599.71" y="373.80" width="4.51" height="6.75" fill="#00fdff"/><rect x="207.50" y="380.50" width="4.51" height="6.75" fill="#0007ff"/><rect x="211.95" y="380.50" width="4.51" height="6.75" fill="#000bff"/><rect x="216.41" y="380.50" width="4.51" height="6.75" fill="#0010ff"/><rect x="220.87" y="380.50" width="4.51" height="6.75" fill="#0016ff"/><rect x="225.33" y="380.50" width="4.51" height="6.75" fill="#001dff"/><rect x="229.78" y="380.50" width="4.51" height="6.75" fill="#0021ff"/><rect x="234.24" y="380.50" width="8.96" height="6.75" fill="#0023ff"/><rect x="243.15" y="380.50" width="8.96" height="6.75" fill="#0022ff"/><rect x="252.07" y="380.50" width="4.51" height="6.75" fill="#0026ff"/><rect x="256.52" y="380.50" width="4.51" height="6.75" fill="#002eff"/><rect x="260.98" y="380.50" width="4.51" height="6.75" fill="#003aff"/><rect x="265.44" y="380.50" width="4.51" height="6.75" fill="#0046ff"/><rect x="269.90" y="380.50" width="4.51" height="6.75" fill="#0051ff"/><rect x="274.35" y="380.50" width="4.51" height="6.75" fill="#0059ff"/><rect x="278.81" y="380.50" width="4.51" height="6.75" fill="#0060ff"/><rect x="283.27" y="380.50" width="4.51" height="6.75" fill="#0069ff"/><rect x="287.72" y="380.50" width="4.51" height="6.75" fill="#006eff"/><rect x="292.18" y="380.50" width="8.96" height="6.75" fill="#006cff"/><rect x="301.10" y="380.50" width="4.51" height="6.75" fill="#0073ff"/><rect x="305.55" y="380.50" width="4.51" height="6.75" fill="#0078ff"/><rect x="310.01" y="380.50" width="4.51" height="6.75" fill="#0079ff"/><rect x="314.47" y="380.50" width="4.51" height="6.75" fill="#0077ff"/><rect x="318.92" y="380.50" width="4.51" height="6.75" fill="#0074ff"/><rect x="323.38" y="380.50" width="4.51" height="6.75" fill="#0071ff"/><rect x="327.84" y="380.50" width="4.51" height="6.75" fill="#006eff"/><rect x="332.29" y="380.50" width="4.51" height="6.75" fill="#006bff"/><rect x="336.75" y="380.50" width="8.96" height="6.75" fill="#006aff"/><rect x="345.66" y="380.50" width="4.51" height="6.75" fill="#006cff"/><rect x="350.12" y="380.50" width="4.51" height="6.75" fill="#0072ff"/><rect x="354.58" y="380.50" width="4.51" height="6.75" fill="#007fff"/><rect x="359.04" y="380.50" width="4.51" height="6.75" fill="#008dff"/><rect x="363.49" y="380.50" width="4.51" height="6.75" fill="#0096ff"/><rect x="367.95" y="380.50" width="22.34" height="6.75" fill="#0099ff"/><rect x="390.24" y="380.50" width="4.51" height="6.75" fill="#0097ff"/><rect x="394.69" y="380.50" width="4.51" height="6.75" fill="#0095ff"/><rect x="399.15" y="380.50" width="4.51" height="6.75" fill="#0094ff"/><rect x="403.61" y="380.50" width="4.51" height="6.75" fill="#0096ff"/><rect x="408.06" y="380.50" width="4.51" height="6.75" fill="#009bff"/><rect x="412.52" y="380.50" width="4.51" height="6.75" fill="#00a4ff"/><rect x="416.98" y="380.50" width="4.51" height="6.75" fill="#00aeff"/><rect x="421.43" y="380.50" width="4.51" height="6.75" fill="#00b7ff"/><rect x="425.89" y="380.50" width="4.51" height="6.75" fill="#00bcff"/><rect x="430.35" y="380.50" width="4.51" height="6.75" fill="#00beff"/><rect x="434.80" y="380.50" width="4.51" height="6.75" fill="#00bdff"/><rect x="439.26" y="380.50" width="4.51" height="6.75" fill="#00baff"/><rect x="443.72" y="380.50" width="4.51" height="6.75" fill="#00b5ff"/><rect x="448.18" y="380.50" width="4.51" height="6.75" fill="#00b1ff"/><rect x="452.63" y="380.50" width="4.51" height="6.75" fill="#00b0ff"/><rect x="457.09" y="380.50" width="4.51" height="6.75" fill="#00b2ff"/><rect x="461.55" y="380.50" width="4.51" height="6.75" fill="#00b8ff"/><rect x="466.00" y="380.50" width="4.51" height="6.75" fill="#00c2ff"/><rect x="470.46" y="380.50" width="4.51" height="6.75" fill="#00d0ff"/><rect x="474.92" y="380.50" width="4.51" height="6.75" fill="#00e0ff"/><rect x="479.38" y="380.50" width="4.51" height="6.75" fill="#00efff"/><rect x="483.83" y="380.50" width="4.51" height="6.75" fill="#00faff"/><rect x="488.29" y="380.50" width="4.51" height="6.75" fill="#02fffd"/><rect x="492.75" y="380.50" width="13.42" height="6.75" fill="#05fffa"/><rect x="506.12" y="380.50" width="8.96" height="6.75" fill="#04fffb"/><rect x="519.49" y="380.50" width="4.51" height="6.75" fill="#0cfff3"/><rect x="523.94" y="380.50" width="4.51" height="6.75" fill="#12ffed"/><rect x="528.40" y="380.50" width="4.51" height="6.75" fill="#16ffe9"/><rect x="541.77" y="380.50" width="4.51" height="6.75" fill="#18ffe7"/><rect x="546.23" y="380.50" width="4.51" height="6.75" fill="#16ffe9"/><rect x="550.69" y="380.50" width="4.51" height="6.75" fill="#0ffff0"/><rect x="555.14" y="380.50" width="4.51" height="6.75" fill="#05fffa"/><rect x="559.60" y="380.50" width="4.51" height="6.75" fill="#00fcff"/><rect x="568.51" y="380.50" width="4.51" height="6.75" fill="#00feff"/><rect x="572.97" y="380.50" width="4.51" height="6.75" fill="#03fffc"/><rect x="577.43" y="380.50" width="4.51" height="6.75" fill="#05fffa"/><rect x="581.89" y="380.50" width="4.51" height="6.75" fill="#04fffb"/><rect x="586.34" y="380.50" width="4.51" height="6.75" fill="#02fffd"/><rect x="590.80" y="380.50" width="4.51" height="6.75" fill="#00feff"/><rect x="595.26" y="380.50" width="4.51" height="6.75" fill="#00fcff"/><rect x="599.71" y="380.50" width="4.51" height="6.75" fill="#00faff"/><rect x="207.50" y="387.20" width="8.96" height="6.75" fill="#0004ff"/><rect x="216.41" y="387.20" width="4.51" height="6.75" fill="#0006ff"/><rect x="220.87" y="387.20" width="4.51" height="6.75" fill="#000dff"/><rect x="225.33" y="387.20" width="4.51" height="6.75" fill="#0016ff"/><rect x="229.78" y="387.20" width="8.96" height="6.75" fill="#001cff"/><rect x="238.70" y="387.20" width="8.96" height="6.75" fill="#001aff"/><rect x="247.61" y="387.20" width="4.51" height="6.75" fill="#001cff"/><rect x="252.07" y="387.20" width="4.51" height="6.75" fill="#0020ff"/><rect x="256.52" y="387.20" width="4.51" height="6.75" fill="#0029ff"/><rect x="260.98" y="387.20" width="4.51" height="6.75" fill="#0035ff"/><rect x="265.44" y="387.20" width="4.51" height="6.75" fill="#0041ff"/><rect x="269.90" y="387.20" width="4.51" height="6.75" fill="#004aff"/><rect x="274.35" y="387.20" width="4.51" height="6.75" fill="#004eff"/><rect x="278.81" y="387.20" width="4.51" height="6.75" fill="#004cff"/><rect x="283.27" y="387.20" width="4.51" height="6.75" fill="#0049ff"/><rect x="287.72" y="387.20" width="4.51" height="6.75" fill="#004bff"/><rect x="292.18" y="387.20" width="4.51" height="6.75" fill="#0056ff"/><rect x="296.64" y="387.20" width="4.51" height="6.75" fill="#0066ff"/><rect x="301.10" y="387.20" width="4.51" height="6.75" fill="#0076ff"/><rect x="305.55" y="387.20" width="8.96" height="6.75" fill="#007aff"/><rect x="314.47" y="387.20" width="4.51" height="6.75" fill="#0078ff"/><rect x="318.92" y="387.20" width="4.51" height="6.75" fill="#0073ff"/><rect x="323.38" y="387.20" width="4.51" height="6.75" fill="#006eff"/><rect x="327.84" y="387.20" width="4.51" height="6.75" fill="#006aff"/><rect x="332.29" y="387.20" width="4.51" height="6.75" fill="#0068ff"/><rect x="336.75" y="387.20" width="4.51" height="6.75" fill="#0067ff"/><rect x="341.21" y="387.20" width="4.51" height="6.75" fill="#0066ff"/><rect x="345.66" y="387.20" width="4.51" height="6.75" fill="#0067ff"/><rect x="350.12" y="387.20" width="4.51" height="6.75" fill="#006aff"/><rect x="354.58" y="387.20" width="4.51" height="6.75" fill="#0075ff"/><rect x="359.04" y="387.20" width="4.51" height="6.75" fill="#0086ff"/><rect x="363.49" y="387.20" width="4.51" height="6.75" fill="#0093ff"/><rect x="367.95" y="387.20" width="4.51" height="6.75" fill="#0098ff"/><rect x="372.41" y="387.20" width="8.96" height="6.75" fill="#0099ff"/><rect x="381.32" y="387.20" width="4.51" height="6.75" fill="#0098ff"/><rect x="385.78" y="387.20" width="4.51" height="6.75" fill="#0095ff"/><rect x="390.24" y="387.20" width="4.51" height="6.75" fill="#0092ff"/><rect x="394.69" y="387.20" width="8.96" height="6.75" fill="#008fff"/><rect x="403.61" y="387.20" width="4.51" height="6.75" fill="#0090ff"/><rect x="408.06" y="387.20" width="4.51" height="6.75" fill="#0094ff"/><rect x="412.52" y="387.20" width="4.51" height="6.75" fill="#009fff"/><rect x="416.98" y="387.20" width="4.51" height="6.75" fill="#00aeff"/><rect x="421.43" y="387.20" width="4.51" height="6.75" fill="#00b9ff"/><rect x="425.89" y="387.20" width="4.51" height="6.75" fill="#00bfff"/><rect x="430.35" y="387.20" width="4.51" height="6.75" fill="#00c1ff"/><rect x="434.80" y="387.20" width="4.51" height="6.75" fill="#00bfff"/><rect x="439.26" y="387.20" width="4.51" height="6.75" fill="#00b8ff"/><rect x="443.72" y="387.20" width="4.51" height="6.75" fill="#00afff"/><rect x="448.18" y="387.20" width="4.51" height="6.75" fill="#00aaff"/><rect x="452.63" y="387.20" width="4.51" height="6.75" fill="#00a9ff"/><rect x="470.46" y="387.20" width="4.51" height="6.75" fill="#00c3ff"/><rect x="474.92" y="387.20" width="4.51" height="6.75" fill="#00d3ff"/><rect x="479.38" y="387.20" width="4.51" height="6.75" fill="#00e4ff"/><rect x="483.83" y="387.20" width="4.51" height="6.75" fill="#00f3ff"/><rect x="488.29" y="387.20" width="4.51" height="6.75" fill="#00fcff"/><rect x="492.75" y="387.20" width="4.51" height="6.75" fill="#01fffe"/><rect x="497.20" y="387.20" width="17.88" height="6.75" fill="#03fffc"/><rect x="519.49" y="387.20" width="4.51" height="6.75" fill="#0dfff2"/><rect x="523.94" y="387.20" width="4.51" height="6.75" fill="#13ffec"/><rect x="528.40" y="387.20" width="4.51" height="6.75" fill="#17ffe8"/><rect x="541.77" y="387.20" width="4.51" height="6.75" fill="#19ffe6"/><rect x="546.23" y="387.20" width="4.51" height="6.75" fill="#17ffe8"/><rect x="550.69" y="387.20" width="4.51" height="6.75" fill="#0ffff0"/><rect x="555.14" y="387.20" width="4.51" height="6.75" fill="#01fffe"/><rect x="559.60" y="387.20" width="4.51" height="6.75" fill="#00f3ff"/><rect x="568.51" y="387.20" width="4.51" height="6.75" fill="#00e9ff"/><rect x="572.97" y="387.20" width="4.51" height="6.75" fill="#00eaff"/><rect x="577.43" y="387.20" width="4.51" height="6.75" fill="#00f0ff"/><rect x="581.89" y="387.20" width="4.51" height="6.75" fill="#00f5ff"/><rect x="216.41" y="393.90" width="4.51" height="6.75" fill="#0001ff"/><rect x="220.87" y="393.90" width="4.51" height="6.75" fill="#0005ff"/><rect x="225.33" y="393.90" width="4.51" height="6.75" fill="#000fff"/><rect x="229.78" y="393.90" width="4.51" height="6.75" fill="#0017ff"/><rect x="234.24" y="393.90" width="13.42" height="6.75" fill="#001aff"/><rect x="247.61" y="393.90" width="4.51" height="6.75" fill="#001bff"/><rect x="252.07" y="393.90" width="4.51" height="6.75" fill="#001fff"/><rect x="256.52" y="393.90" width="4.51" height="6.75" fill="#0027ff"/><rect x="260.98" y="393.90" width="4.51" height="6.75" fill="#0031ff"/><rect x="265.44" y="393.90" width="4.51" height="6.75" fill="#003cff"/><rect x="269.90" y="393.90" width="4.51" height="6.75" fill="#0045ff"/><rect x="274.35" y="393.90" width="8.96" height="6.75" fill="#0049ff"/><rect x="283.27" y="393.90" width="8.96" height="6.75" fill="#0048ff"/><rect x="292.18" y="393.90" width="4.51" height="6.75" fill="#004fff"/><rect x="296.64" y="393.90" width="4.51" height="6.75" fill="#005eff"/><rect x="301.10" y="393.90" width="4.51" height="6.75" fill="#006eff"/><rect x="305.55" y="393.90" width="8.96" height="6.75" fill="#0075ff"/><rect x="314.47" y="393.90" width="4.51" height="6.75" fill="#0071ff"/><rect x="318.92" y="393.90" width="4.51" height="6.75" fill="#006cff"/><rect x="323.38" y="393.90" width="4.51" height="6.75" fill="#0069ff"/><rect x="327.84" y="393.90" width="8.96" height="6.75" fill="#0067ff"/><rect x="336.75" y="393.90" width="13.42" height="6.75" fill="#0066ff"/><rect x="350.12" y="393.90" width="4.51" height="6.75" fill="#0069ff"/><rect x="354.58" y="393.90" width="4.51" height="6.75" fill="#0070ff"/><rect x="359.04" y="393.90" width="4.51" height="6.75" fill="#007dff"/><rect x="363.49" y="393.90" width="4.51" height="6.75" fill="#008aff"/><rect x="367.95" y="393.90" width="4.51" height="6.75" fill="#0091ff"/><rect x="372.41" y="393.90" width="13.42" height="6.75" fill="#0095ff"/><rect x="385.78" y="393.90" width="4.51" height="6.75" fill="#0093ff"/><rect x="390.24" y="393.90" width="4.51" height="6.75" fill="#0091ff"/><rect x="394.69" y="393.90" width="8.96" height="6.75" fill="#008fff"/><rect x="403.61" y="393.90" width="4.51" height="6.75" fill="#0090ff"/><rect x="408.06" y="393.90" width="4.51" height="6.75" fill="#0094ff"/><rect x="412.52" y="393.90" width="4.51" height="6.75" fill="#00a1ff"/><rect x="416.98" y="393.90" width="4.51" height="6.75" fill="#00b3ff"/><rect x="421.43" y="393.90" width="4.51" height="6.75" fill="#00c0ff"/><rect x="425.89" y="393.90" width="4.51" height="6.75" fill="#00c5ff"/><rect x="430.35" y="393.90" width="4.51" height="6.75" fill="#00c6ff"/><rect x="434.80" y="393.90" width="4.51" height="6.75" fill="#00c5ff"/><rect x="439.26" y="393.90" width="4.51" height="6.75" fill="#00beff"/><rect x="443.72" y="393.90" width="4.51" height="6.75" fill="#00b0ff"/><rect x="448.18" y="393.90" width="4.51" height="6.75" fill="#00a9ff"/><rect x="452.63" y="393.90" width="4.51" height="6.75" fill="#00a8ff"/><rect x="470.46" y="393.90" width="4.51" height="6.75" fill="#00bcff"/><rect x="474.92" y="393.90" width="4.51" height="6.75" fill="#00caff"/><rect x="479.38" y="393.90" width="4.51" height="6.75" fill="#00d9ff"/><rect x="483.83" y="393.90" width="4.51" height="6.75" fill="#00e6ff"/><rect x="488.29" y="393.90" width="4.51" height="6.75" fill="#00f1ff"/><rect x="492.75" y="393.90" width="4.51" height="6.75" fill="#00f7ff"/><rect x="497.20" y="393.90" width="4.51" height="6.75" fill="#00fbff"/><rect x="501.66" y="393.90" width="4.51" height="6.75" fill="#00fcff"/><rect x="506.12" y="393.90" width="4.51" height="6.75" fill="#00feff"/><rect x="510.57" y="393.90" width="4.51" height="6.75" fill="#01fffe"/><rect x="519.49" y="393.90" width="4.51" height="6.75" fill="#0bfff4"/><rect x="523.94" y="393.90" width="4.51" height="6.75" fill="#11ffee"/><rect x="528.40" y="393.90" width="4.51" height="6.75" fill="#15ffea"/><rect x="541.77" y="393.90" width="4.51" height="6.75" fill="#18ffe7"/><rect x="546.23" y="393.90" width="4.51" height="6.75" fill="#14ffeb"/><rect x="550.69" y="393.90" width="4.51" height="6.75" fill="#0afff5"/><rect x="555.14" y="393.90" width="4.51" height="6.75" fill="#00f9ff"/><rect x="559.60" y="393.90" width="4.51" height="6.75" fill="#00e9ff"/><rect x="568.51" y="393.90" width="4.51" height="6.75" fill="#00dcff"/><rect x="572.97" y="393.90" width="4.51" height="6.75" fill="#00dbff"/><rect x="577.43" y="393.90" width="4.51" height="6.75" fill="#00ddff"/><rect x="581.89" y="393.90" width="4.51" height="6.75" fill="#00e1ff"/><rect x="216.41" y="400.60" width="4.51" height="6.75" fill="#0001ff"/><rect x="220.87" y="400.60" width="4.51" height="6.75" fill="#0004ff"/><rect x="225.33" y="400.60" width="4.51" height="6.75" fill="#000cff"/><rect x="229.78" y="400.60" width="4.51" height="6.75" fill="#0014ff"/><rect x="234.24" y="400.60" width="4.51" height="6.75" fill="#0018ff"/><rect x="238.70" y="400.60" width="4.51" height="6.75" fill="#001aff"/><rect x="243.15" y="400.60" width="4.51" height="6.75" fill="#001bff"/><rect x="247.61" y="400.60" width="4.51" height="6.75" fill="#001dff"/><rect x="252.07" y="400.60" width="4.51" height="6.75" fill="#0021ff"/><rect x="256.52" y="400.60" width="4.51" height="6.75" fill="#0026ff"/><rect x="260.98" y="400.60" width="4.51" height="6.75" fill="#002cff"/><rect x="265.44" y="400.60" width="4.51" height="6.75" fill="#0035ff"/><rect x="269.90" y="400.60" width="4.51" height="6.75" fill="#003eff"/><rect x="274.35" y="400.60" width="4.51" height="6.75" fill="#0045ff"/><rect x="278.81" y="400.60" width="4.51" height="6.75" fill="#0048ff"/><rect x="283.27" y="400.60" width="4.51" height="6.75" fill="#004aff"/><rect x="287.72" y="400.60" width="4.51" height="6.75" fill="#004cff"/><rect x="292.18" y="400.60" width="4.51" height="6.75" fill="#0051ff"/><rect x="296.64" y="400.60" width="4.51" height="6.75" fill="#0059ff"/><rect x="301.10" y="400.60" width="4.51" height="6.75" fill="#0060ff"/><rect x="305.55" y="400.60" width="4.51" height="6.75" fill="#0062ff"/><rect x="310.01" y="400.60" width="4.51" height="6.75" fill="#0060ff"/><rect x="314.47" y="400.60" width="8.96" height="6.75" fill="#005eff"/><rect x="323.38" y="400.60" width="4.51" height="6.75" fill="#005fff"/><rect x="327.84" y="400.60" width="4.51" height="6.75" fill="#0062ff"/><rect x="332.29" y="400.60" width="4.51" height="6.75" fill="#0064ff"/><rect x="336.75" y="400.60" width="4.51" height="6.75" fill="#0065ff"/><rect x="341.21" y="400.60" width="4.51" height="6.75" fill="#0066ff"/><rect x="345.66" y="400.60" width="4.51" height="6.75" fill="#0067ff"/><rect x="350.12" y="400.60" width="4.51" height="6.75" fill="#0068ff"/><rect x="354.58" y="400.60" width="4.51" height="6.75" fill="#006dff"/><rect x="359.04" y="400.60" width="4.51" height="6.75" fill="#0075ff"/><rect x="363.49" y="400.60" width="4.51" height="6.75" fill="#007eff"/><rect x="367.95" y="400.60" width="4.51" height="6.75" fill="#0086ff"/><rect x="372.41" y="400.60" width="4.51" height="6.75" fill="#008cff"/><rect x="376.86" y="400.60" width="4.51" height="6.75" fill="#008fff"/><rect x="381.32" y="400.60" width="4.51" height="6.75" fill="#0091ff"/><rect x="385.78" y="400.60" width="8.96" height="6.75" fill="#0092ff"/><rect x="394.69" y="400.60" width="4.51" height="6.75" fill="#0091ff"/><rect x="399.15" y="400.60" width="4.51" height="6.75" fill="#0092ff"/><rect x="403.61" y="400.60" width="4.51" height="6.75" fill="#0094ff"/><rect x="408.06" y="400.60" width="4.51" height="6.75" fill="#009aff"/><rect x="412.52" y="400.60" width="4.51" height="6.75" fill="#00a8ff"/><rect x="416.98" y="400.60" width="4.51" height="6.75" fill="#00b8ff"/><rect x="421.43" y="400.60" width="4.51" height="6.75" fill="#00c2ff"/><rect x="425.89" y="400.60" width="4.51" height="6.75" fill="#00c6ff"/><rect x="430.35" y="400.60" width="4.51" height="6.75" fill="#00c7ff"/><rect x="434.80" y="400.60" width="4.51" height="6.75" fill="#00c6ff"/><rect x="439.26" y="400.60" width="4.51" height="6.75" fill="#00c2ff"/><rect x="443.72" y="400.60" width="4.51" height="6.75" fill="#00b7ff"/><rect x="448.18" y="400.60" width="4.51" height="6.75" fill="#00aeff"/><rect x="452.63" y="400.60" width="4.51" height="6.75" fill="#00abff"/><rect x="479.38" y="400.60" width="4.51" height="6.75" fill="#00cfff"/><rect x="483.83" y="400.60" width="4.51" height="6.75" fill="#00daff"/><rect x="488.29" y="400.60" width="4.51" height="6.75" fill="#00e4ff"/><rect x="492.75" y="400.60" width="4.51" height="6.75" fill="#00ebff"/><rect x="497.20" y="400.60" width="4.51" height="6.75" fill="#00f0ff"/><rect x="501.66" y="400.60" width="4.51" height="6.75" fill="#00f4ff"/><rect x="506.12" y="400.60" width="4.51" height="6.75" fill="#00f7ff"/><rect x="510.57" y="400.60" width="4.51" height="6.75" fill="#00fbff"/><rect x="541.77" y="400.60" width="4.51" height="6.75" fill="#11ffee"/><rect x="546.23" y="400.60" width="4.51" height="6.75" fill="#0bfff4"/><rect x="550.69" y="400.60" width="4.51" height="6.75" fill="#01fffe"/><rect x="555.14" y="400.60" width="4.51" height="6.75" fill="#00f2ff"/><rect x="559.60" y="400.60" width="4.51" height="6.75" fill="#00e6ff"/><rect x="568.51" y="400.60" width="13.42" height="6.75" fill="#00dcff"/><rect x="581.89" y="400.60" width="4.51" height="6.75" fill="#00dfff"/><rect x="225.33" y="407.30" width="4.51" height="6.75" fill="#000dff"/><rect x="229.78" y="407.30" width="4.51" height="6.75" fill="#000fff"/><rect x="234.24" y="407.30" width="4.51" height="6.75" fill="#0012ff"/><rect x="238.70" y="407.30" width="4.51" height="6.75" fill="#0015ff"/><rect x="243.15" y="407.30" width="4.51" height="6.75" fill="#0019ff"/><rect x="247.61" y="407.30" width="4.51" height="6.75" fill="#001cff"/><rect x="252.07" y="407.30" width="4.51" height="6.75" fill="#001eff"/><rect x="256.52" y="407.30" width="4.51" height="6.75" fill="#0020ff"/><rect x="260.98" y="407.30" width="4.51" height="6.75" fill="#0024ff"/><rect x="265.44" y="407.30" width="4.51" height="6.75" fill="#002aff"/><rect x="269.90" y="407.30" width="4.51" height="6.75" fill="#0033ff"/><rect x="274.35" y="407.30" width="4.51" height="6.75" fill="#003cff"/><rect x="278.81" y="407.30" width="4.51" height="6.75" fill="#0043ff"/><rect x="283.27" y="407.30" width="4.51" height="6.75" fill="#0048ff"/><rect x="287.72" y="407.30" width="4.51" height="6.75" fill="#004cff"/><rect x="292.18" y="407.30" width="4.51" height="6.75" fill="#0050ff"/><rect x="296.64" y="407.30" width="4.51" height="6.75" fill="#0055ff"/><rect x="301.10" y="407.30" width="8.96" height="6.75" fill="#0058ff"/><rect x="310.01" y="407.30" width="13.42" height="6.75" fill="#0057ff"/><rect x="323.38" y="407.30" width="4.51" height="6.75" fill="#0059ff"/><rect x="327.84" y="407.30" width="4.51" height="6.75" fill="#005bff"/><rect x="332.29" y="407.30" width="4.51" height="6.75" fill="#005dff"/><rect x="336.75" y="407.30" width="13.42" height="6.75" fill="#005eff"/><rect x="350.12" y="407.30" width="4.51" height="6.75" fill="#005fff"/><rect x="354.58" y="407.30" width="4.51" height="6.75" fill="#0063ff"/><rect x="359.04" y="407.30" width="4.51" height="6.75" fill="#0068ff"/><rect x="363.49" y="407.30" width="4.51" height="6.75" fill="#0070ff"/><rect x="367.95" y="407.30" width="4.51" height="6.75" fill="#0079ff"/><rect x="372.41" y="407.30" width="4.51" height="6.75" fill="#0081ff"/><rect x="376.86" y="407.30" width="4.51" height="6.75" fill="#0087ff"/><rect x="381.32" y="407.30" width="4.51" height="6.75" fill="#008cff"/><rect x="385.78" y="407.30" width="4.51" height="6.75" fill="#008fff"/><rect x="390.24" y="407.30" width="4.51" height="6.75" fill="#0092ff"/><rect x="394.69" y="407.30" width="4.51" height="6.75" fill="#0094ff"/><rect x="399.15" y="407.30" width="4.51" height="6.75" fill="#0096ff"/><rect x="403.61" y="407.30" width="4.51" height="6.75" fill="#009aff"/><rect x="408.06" y="407.30" width="4.51" height="6.75" fill="#00a1ff"/><rect x="412.52" y="407.30" width="4.51" height="6.75" fill="#00abff"/><rect x="416.98" y="407.30" width="4.51" height="6.75" fill="#00b7ff"/><rect x="421.43" y="407.30" width="4.51" height="6.75" fill="#00bfff"/><rect x="425.89" y="407.30" width="4.51" height="6.75" fill="#00c4ff"/><rect x="430.35" y="407.30" width="4.51" height="6.75" fill="#00c5ff"/><rect x="434.80" y="407.30" width="4.51" height="6.75" fill="#00c4ff"/><rect x="439.26" y="407.30" width="4.51" height="6.75" fill="#00c0ff"/><rect x="443.72" y="407.30" width="4.51" height="6.75" fill="#00b9ff"/><rect x="448.18" y="407.30" width="4.51" height="6.75" fill="#00b3ff"/><rect x="452.63" y="407.30" width="4.51" height="6.75" fill="#00b0ff"/><rect x="225.33" y="414.00" width="4.51" height="6.75" fill="#0009ff"/><rect x="229.78" y="414.00" width="8.96" height="6.75" fill="#0008ff"/><rect x="238.70" y="414.00" width="4.51" height="6.75" fill="#000cff"/><rect x="243.15" y="414.00" width="4.51" height="6.75" fill="#0013ff"/><rect x="247.61" y="414.00" width="4.51" height="6.75" fill="#0019ff"/><rect x="252.07" y="414.00" width="4.51" height="6.75" fill="#001bff"/><rect x="256.52" y="414.00" width="4.51" height="6.75" fill="#001aff"/><rect x="260.98" y="414.00" width="4.51" height="6.75" fill="#001cff"/><rect x="265.44" y="414.00" width="4.51" height="6.75" fill="#0021ff"/><rect x="269.90" y="414.00" width="4.51" height="6.75" fill="#002aff"/><rect x="274.35" y="414.00" width="4.51" height="6.75" fill="#0033ff"/><rect x="278.81" y="414.00" width="4.51" height="6.75" fill="#003bff"/><rect x="283.27" y="414.00" width="4.51" height="6.75" fill="#0041ff"/><rect x="287.72" y="414.00" width="4.51" height="6.75" fill="#0046ff"/><rect x="292.18" y="414.00" width="4.51" height="6.75" fill="#004bff"/><rect x="296.64" y="414.00" width="4.51" height="6.75" fill="#004fff"/><rect x="301.10" y="414.00" width="4.51" height="6.75" fill="#0053ff"/><rect x="305.55" y="414.00" width="4.51" height="6.75" fill="#0056ff"/><rect x="310.01" y="414.00" width="22.34" height="6.75" fill="#0057ff"/><rect x="332.29" y="414.00" width="4.51" height="6.75" fill="#0055ff"/><rect x="336.75" y="414.00" width="4.51" height="6.75" fill="#0051ff"/><rect x="341.21" y="414.00" width="4.51" height="6.75" fill="#004cff"/><rect x="345.66" y="414.00" width="8.96" height="6.75" fill="#0049ff"/><rect x="354.58" y="414.00" width="4.51" height="6.75" fill="#004dff"/><rect x="359.04" y="414.00" width="4.51" height="6.75" fill="#0055ff"/><rect x="363.49" y="414.00" width="4.51" height="6.75" fill="#005fff"/><rect x="367.95" y="414.00" width="4.51" height="6.75" fill="#006aff"/><rect x="372.41" y="414.00" width="4.51" height="6.75" fill="#0074ff"/><rect x="376.86" y="414.00" width="4.51" height="6.75" fill="#007dff"/><rect x="381.32" y="414.00" width="4.51" height="6.75" fill="#0084ff"/><rect x="385.78" y="414.00" width="4.51" height="6.75" fill="#008aff"/><rect x="390.24" y="414.00" width="4.51" height="6.75" fill="#008fff"/><rect x="394.69" y="414.00" width="4.51" height="6.75" fill="#0093ff"/><rect x="399.15" y="414.00" width="4.51" height="6.75" fill="#0097ff"/><rect x="403.61" y="414.00" width="4.51" height="6.75" fill="#009cff"/><rect x="408.06" y="414.00" width="4.51" height="6.75" fill="#00a2ff"/><rect x="412.52" y="414.00" width="4.51" height="6.75" fill="#00aaff"/><rect x="416.98" y="414.00" width="4.51" height="6.75" fill="#00b1ff"/><rect x="421.43" y="414.00" width="4.51" height="6.75" fill="#00b7ff"/><rect x="425.89" y="414.00" width="4.51" height="6.75" fill="#00bbff"/><rect x="430.35" y="414.00" width="4.51" height="6.75" fill="#00bcff"/><rect x="434.80" y="414.00" width="4.51" height="6.75" fill="#00bbff"/><rect x="439.26" y="414.00" width="4.51" height="6.75" fill="#00b7ff"/><rect x="443.72" y="414.00" width="4.51" height="6.75" fill="#00b2ff"/><rect x="229.78" y="420.70" width="8.96" height="6.75" fill="#0005ff"/><rect x="238.70" y="420.70" width="4.51" height="6.75" fill="#0007ff"/><rect x="243.15" y="420.70" width="4.51" height="6.75" fill="#000fff"/><rect x="247.61" y="420.70" width="4.51" height="6.75" fill="#0018ff"/><rect x="252.07" y="420.70" width="13.42" height="6.75" fill="#001aff"/><rect x="265.44" y="420.70" width="4.51" height="6.75" fill="#0020ff"/><rect x="269.90" y="420.70" width="4.51" height="6.75" fill="#0029ff"/><rect x="274.35" y="420.70" width="4.51" height="6.75" fill="#002fff"/><rect x="278.81" y="420.70" width="4.51" height="6.75" fill="#0035ff"/><rect x="283.27" y="420.70" width="4.51" height="6.75" fill="#003cff"/><rect x="287.72" y="420.70" width="4.51" height="6.75" fill="#0041ff"/><rect x="292.18" y="420.70" width="4.51" height="6.75" fill="#0045ff"/><rect x="296.64" y="420.70" width="4.51" height="6.75" fill="#0047ff"/><rect x="301.10" y="420.70" width="4.51" height="6.75" fill="#004aff"/><rect x="305.55" y="420.70" width="4.51" height="6.75" fill="#004fff"/><rect x="310.01" y="420.70" width="4.51" height="6.75" fill="#0053ff"/><rect x="314.47" y="420.70" width="8.96" height="6.75" fill="#0055ff"/><rect x="323.38" y="420.70" width="4.51" height="6.75" fill="#0054ff"/><rect x="327.84" y="420.70" width="4.51" height="6.75" fill="#0052ff"/><rect x="332.29" y="420.70" width="4.51" height="6.75" fill="#004cff"/><rect x="336.75" y="420.70" width="4.51" height="6.75" fill="#0043ff"/><rect x="341.21" y="420.70" width="4.51" height="6.75" fill="#003bff"/><rect x="345.66" y="420.70" width="8.96" height="6.75" fill="#0037ff"/><rect x="354.58" y="420.70" width="4.51" height="6.75" fill="#003bff"/><rect x="359.04" y="420.70" width="4.51" height="6.75" fill="#0044ff"/><rect x="363.49" y="420.70" width="4.51" height="6.75" fill="#004fff"/><rect x="367.95" y="420.70" width="4.51" height="6.75" fill="#005cff"/><rect x="372.41" y="420.70" width="4.51" height="6.75" fill="#0068ff"/><rect x="376.86" y="420.70" width="4.51" height="6.75" fill="#0073ff"/><rect x="381.32" y="420.70" width="4.51" height="6.75" fill="#007cff"/><rect x="385.78" y="420.70" width="4.51" height="6.75" fill="#0083ff"/><rect x="390.24" y="420.70" width="4.51" height="6.75" fill="#008aff"/><rect x="394.69" y="420.70" width="4.51" height="6.75" fill="#008fff"/><rect x="399.15" y="420.70" width="4.51" height="6.75" fill="#0094ff"/><rect x="403.61" y="420.70" width="4.51" height="6.75" fill="#0099ff"/><rect x="408.06" y="420.70" width="4.51" height="6.75" fill="#009fff"/><rect x="412.52" y="420.70" width="4.51" height="6.75" fill="#00a4ff"/><rect x="416.98" y="420.70" width="4.51" height="6.75" fill="#00aaff"/><rect x="421.43" y="420.70" width="4.51" height="6.75" fill="#00aeff"/><rect x="425.89" y="420.70" width="8.96" height="6.75" fill="#00b0ff"/><rect x="434.80" y="420.70" width="4.51" height="6.75" fill="#00aeff"/><rect x="439.26" y="420.70" width="4.51" height="6.75" fill="#00aaff"/><rect x="443.72" y="420.70" width="4.51" height="6.75" fill="#00a6ff"/><rect x="247.61" y="427.40" width="4.51" height="6.75" fill="#0019ff"/><rect x="252.07" y="427.40" width="4.51" height="6.75" fill="#001cff"/><rect x="256.52" y="427.40" width="4.51" height="6.75" fill="#001dff"/><rect x="260.98" y="427.40" width="4.51" height="6.75" fill="#0021ff"/><rect x="265.44" y="427.40" width="4.51" height="6.75" fill="#002aff"/><rect x="269.90" y="427.40" width="4.51" height="6.75" fill="#002dff"/><rect x="274.35" y="427.40" width="4.51" height="6.75" fill="#002fff"/><rect x="278.81" y="427.40" width="4.51" height="6.75" fill="#0032ff"/><rect x="283.27" y="427.40" width="4.51" height="6.75" fill="#0039ff"/><rect x="287.72" y="427.40" width="4.51" height="6.75" fill="#003fff"/><rect x="292.18" y="427.40" width="4.51" height="6.75" fill="#0042ff"/><rect x="296.64" y="427.40" width="8.96" height="6.75" fill="#0043ff"/><rect x="305.55" y="427.40" width="4.51" height="6.75" fill="#0045ff"/><rect x="310.01" y="427.40" width="4.51" height="6.75" fill="#004aff"/><rect x="314.47" y="427.40" width="4.51" height="6.75" fill="#004eff"/><rect x="318.92" y="427.40" width="8.96" height="6.75" fill="#0050ff"/><rect x="327.84" y="427.40" width="4.51" height="6.75" fill="#004cff"/><rect x="332.29" y="427.40" width="4.51" height="6.75" fill="#0045ff"/><rect x="336.75" y="427.40" width="4.51" height="6.75" fill="#003bff"/><rect x="341.21" y="427.40" width="4.51" height="6.75" fill="#0035ff"/><rect x="345.66" y="427.40" width="8.96" height="6.75" fill="#0033ff"/><rect x="354.58" y="427.40" width="4.51" height="6.75" fill="#0035ff"/><rect x="359.04" y="427.40" width="4.51" height="6.75" fill="#003cff"/><rect x="363.49" y="427.40" width="4.51" height="6.75" fill="#0048ff"/><rect x="367.95" y="427.40" width="4.51" height="6.75" fill="#0055ff"/><rect x="372.41" y="427.40" width="4.51" height="6.75" fill="#0061ff"/><rect x="376.86" y="427.40" width="4.51" height="6.75" fill="#006cff"/><rect x="381.32" y="427.40" width="4.51" height="6.75" fill="#0075ff"/><rect x="385.78" y="427.40" width="4.51" height="6.75" fill="#007dff"/><rect x="390.24" y="427.40" width="4.51" height="6.75" fill="#0084ff"/><rect x="394.69" y="427.40" width="4.51" height="6.75" fill="#008aff"/><rect x="399.15" y="427.40" width="4.51" height="6.75" fill="#008fff"/><rect x="403.61" y="427.40" width="4.51" height="6.75" fill="#0095ff"/><rect x="408.06" y="427.40" width="4.51" height="6.75" fill="#0099ff"/><rect x="412.52" y="427.40" width="4.51" height="6.75" fill="#009eff"/><rect x="416.98" y="427.40" width="4.51" height="6.75" fill="#00a2ff"/><rect x="421.43" y="427.40" width="4.51" height="6.75" fill="#00a5ff"/><rect x="425.89" y="427.40" width="8.96" height="6.75" fill="#00a6ff"/><rect x="434.80" y="427.40" width="4.51" height="6.75" fill="#00a4ff"/><rect x="439.26" y="427.40" width="4.51" height="6.75" fill="#00a2ff"/><rect x="443.72" y="427.40" width="4.51" height="6.75" fill="#00a0ff"/><rect x="247.61" y="434.10" width="4.51" height="6.75" fill="#001dff"/><rect x="252.07" y="434.10" width="4.51" height="6.75" fill="#0022ff"/><rect x="256.52" y="434.10" width="4.51" height="6.75" fill="#0026ff"/><rect x="260.98" y="434.10" width="4.51" height="6.75" fill="#002bff"/><rect x="265.44" y="434.10" width="13.42" height="6.75" fill="#002eff"/><rect x="278.81" y="434.10" width="4.51" height="6.75" fill="#0031ff"/><rect x="283.27" y="434.10" width="4.51" height="6.75" fill="#0039ff"/><rect x="287.72" y="434.10" width="4.51" height="6.75" fill="#003fff"/><rect x="292.18" y="434.10" width="13.42" height="6.75" fill="#0042ff"/><rect x="305.55" y="434.10" width="4.51" height="6.75" fill="#0043ff"/><rect x="310.01" y="434.10" width="4.51" height="6.75" fill="#0046ff"/><rect x="314.47" y="434.10" width="4.51" height="6.75" fill="#0049ff"/><rect x="318.92" y="434.10" width="4.51" height="6.75" fill="#004cff"/><rect x="323.38" y="434.10" width="4.51" height="6.75" fill="#004dff"/><rect x="327.84" y="434.10" width="4.51" height="6.75" fill="#004aff"/><rect x="332.29" y="434.10" width="4.51" height="6.75" fill="#0044ff"/><rect x="336.75" y="434.10" width="4.51" height="6.75" fill="#003dff"/><rect x="341.21" y="434.10" width="4.51" height="6.75" fill="#0037ff"/><rect x="345.66" y="434.10" width="8.96" height="6.75" fill="#0034ff"/><rect x="354.58" y="434.10" width="4.51" height="6.75" fill="#0037ff"/><rect x="359.04" y="434.10" width="4.51" height="6.75" fill="#003fff"/><rect x="363.49" y="434.10" width="4.51" height="6.75" fill="#0049ff"/><rect x="367.95" y="434.10" width="4.51" height="6.75" fill="#0054ff"/><rect x="372.41" y="434.10" width="4.51" height="6.75" fill="#005fff"/><rect x="376.86" y="434.10" width="4.51" height="6.75" fill="#0068ff"/><rect x="381.32" y="434.10" width="4.51" height="6.75" fill="#0070ff"/><rect x="385.78" y="434.10" width="4.51" height="6.75" fill="#0078ff"/><rect x="390.24" y="434.10" width="4.51" height="6.75" fill="#007eff"/><rect x="394.69" y="434.10" width="4.51" height="6.75" fill="#0084ff"/><rect x="399.15" y="434.10" width="4.51" height="6.75" fill="#008aff"/><rect x="403.61" y="434.10" width="4.51" height="6.75" fill="#008fff"/><rect x="408.06" y="434.10" width="4.51" height="6.75" fill="#0093ff"/><rect x="412.52" y="434.10" width="4.51" height="6.75" fill="#0097ff"/><rect x="416.98" y="434.10" width="4.51" height="6.75" fill="#009bff"/><rect x="421.43" y="434.10" width="4.51" height="6.75" fill="#009eff"/><rect x="425.89" y="434.10" width="13.42" height="6.75" fill="#00a0ff"/><rect x="439.26" y="434.10" width="4.51" height="6.75" fill="#009fff"/><rect x="443.72" y="434.10" width="4.51" height="6.75" fill="#009eff"/><rect x="247.61" y="440.80" width="4.51" height="6.75" fill="#0023ff"/><rect x="252.07" y="440.80" width="4.51" height="6.75" fill="#0027ff"/><rect x="256.52" y="440.80" width="4.51" height="6.75" fill="#002bff"/><rect x="260.98" y="440.80" width="4.51" height="6.75" fill="#002eff"/><rect x="265.44" y="440.80" width="8.96" height="6.75" fill="#002fff"/><rect x="274.35" y="440.80" width="4.51" height="6.75" fill="#0032ff"/><rect x="278.81" y="440.80" width="4.51" height="6.75" fill="#0038ff"/><rect x="283.27" y="440.80" width="4.51" height="6.75" fill="#003cff"/><rect x="287.72" y="440.80" width="4.51" height="6.75" fill="#003eff"/><rect x="292.18" y="440.80" width="4.51" height="6.75" fill="#0040ff"/><rect x="296.64" y="440.80" width="4.51" height="6.75" fill="#0042ff"/><rect x="301.10" y="440.80" width="4.51" height="6.75" fill="#0043ff"/><rect x="305.55" y="440.80" width="4.51" height="6.75" fill="#0044ff"/><rect x="310.01" y="440.80" width="4.51" height="6.75" fill="#0046ff"/><rect x="314.47" y="440.80" width="4.51" height="6.75" fill="#0049ff"/><rect x="318.92" y="440.80" width="4.51" height="6.75" fill="#004cff"/><rect x="323.38" y="440.80" width="4.51" height="6.75" fill="#004dff"/><rect x="327.84" y="440.80" width="4.51" height="6.75" fill="#004cff"/><rect x="332.29" y="440.80" width="4.51" height="6.75" fill="#0049ff"/><rect x="336.75" y="440.80" width="4.51" height="6.75" fill="#0044ff"/><rect x="341.21" y="440.80" width="4.51" height="6.75" fill="#0040ff"/><rect x="345.66" y="440.80" width="4.51" height="6.75" fill="#003dff"/><rect x="350.12" y="440.80" width="4.51" height="6.75" fill="#003eff"/><rect x="354.58" y="440.80" width="4.51" height="6.75" fill="#0043ff"/><rect x="359.04" y="440.80" width="4.51" height="6.75" fill="#004aff"/><rect x="363.49" y="440.80" width="4.51" height="6.75" fill="#0051ff"/><rect x="367.95" y="440.80" width="4.51" height="6.75" fill="#0059ff"/><rect x="372.41" y="440.80" width="4.51" height="6.75" fill="#0060ff"/><rect x="376.86" y="440.80" width="4.51" height="6.75" fill="#0067ff"/><rect x="381.32" y="440.80" width="4.51" height="6.75" fill="#006dff"/><rect x="385.78" y="440.80" width="4.51" height="6.75" fill="#0074ff"/><rect x="390.24" y="440.80" width="4.51" height="6.75" fill="#007aff"/><rect x="394.69" y="440.80" width="4.51" height="6.75" fill="#0080ff"/><rect x="399.15" y="440.80" width="4.51" height="6.75" fill="#0085ff"/><rect x="403.61" y="440.80" width="4.51" height="6.75" fill="#008aff"/><rect x="408.06" y="440.80" width="4.51" height="6.75" fill="#008eff"/><rect x="412.52" y="440.80" width="4.51" height="6.75" fill="#0092ff"/><rect x="416.98" y="440.80" width="4.51" height="6.75" fill="#0095ff"/><rect x="421.43" y="440.80" width="4.51" height="6.75" fill="#0098ff"/><rect x="425.89" y="440.80" width="4.51" height="6.75" fill="#009aff"/><rect x="430.35" y="440.80" width="4.51" height="6.75" fill="#009cff"/><rect x="434.80" y="440.80" width="13.42" height="6.75" fill="#009eff"/><rect x="457.09" y="440.80" width="8.96" height="6.75" fill="#009fff"/><rect x="466.00" y="440.80" width="4.51" height="6.75" fill="#00a1ff"/><rect x="470.46" y="440.80" width="4.51" height="6.75" fill="#00a3ff"/><rect x="256.52" y="447.50" width="4.51" height="6.75" fill="#002fff"/><rect x="260.98" y="447.50" width="4.51" height="6.75" fill="#0031ff"/><rect x="265.44" y="447.50" width="4.51" height="6.75" fill="#0033ff"/><rect x="269.90" y="447.50" width="4.51" height="6.75" fill="#0035ff"/><rect x="274.35" y="447.50" width="4.51" height="6.75" fill="#0039ff"/><rect x="278.81" y="447.50" width="13.42" height="6.75" fill="#003dff"/><rect x="292.18" y="447.50" width="4.51" height="6.75" fill="#003eff"/><rect x="296.64" y="447.50" width="4.51" height="6.75" fill="#0040ff"/><rect x="301.10" y="447.50" width="4.51" height="6.75" fill="#0043ff"/><rect x="305.55" y="447.50" width="4.51" height="6.75" fill="#0045ff"/><rect x="310.01" y="447.50" width="4.51" height="6.75" fill="#0048ff"/><rect x="314.47" y="447.50" width="4.51" height="6.75" fill="#004bff"/><rect x="318.92" y="447.50" width="4.51" height="6.75" fill="#004dff"/><rect x="323.38" y="447.50" width="13.42" height="6.75" fill="#004fff"/><rect x="336.75" y="447.50" width="4.51" height="6.75" fill="#004dff"/><rect x="341.21" y="447.50" width="8.96" height="6.75" fill="#004cff"/><rect x="350.12" y="447.50" width="4.51" height="6.75" fill="#004eff"/><rect x="354.58" y="447.50" width="4.51" height="6.75" fill="#0052ff"/><rect x="359.04" y="447.50" width="4.51" height="6.75" fill="#0055ff"/><rect x="363.49" y="447.50" width="4.51" height="6.75" fill="#0058ff"/><rect x="367.95" y="447.50" width="4.51" height="6.75" fill="#005bff"/><rect x="372.41" y="447.50" width="4.51" height="6.75" fill="#0060ff"/><rect x="376.86" y="447.50" width="4.51" height="6.75" fill="#0065ff"/><rect x="381.32" y="447.50" width="4.51" height="6.75" fill="#006cff"/><rect x="385.78" y="447.50" width="4.51" height="6.75" fill="#0072ff"/><rect x="390.24" y="447.50" width="4.51" height="6.75" fill="#0078ff"/><rect x="394.69" y="447.50" width="4.51" height="6.75" fill="#007dff"/><rect x="399.15" y="447.50" width="4.51" height="6.75" fill="#0082ff"/><rect x="403.61" y="447.50" width="4.51" height="6.75" fill="#0086ff"/><rect x="408.06" y="447.50" width="4.51" height="6.75" fill="#0089ff"/><rect x="412.52" y="447.50" width="4.51" height="6.75" fill="#008cff"/><rect x="416.98" y="447.50" width="4.51" height="6.75" fill="#008fff"/><rect x="421.43" y="447.50" width="4.51" height="6.75" fill="#0092ff"/><rect x="425.89" y="447.50" width="4.51" height="6.75" fill="#0095ff"/><rect x="430.35" y="447.50" width="4.51" height="6.75" fill="#0098ff"/><rect x="434.80" y="447.50" width="4.51" height="6.75" fill="#009aff"/><rect x="439.26" y="447.50" width="4.51" height="6.75" fill="#009cff"/><rect x="443.72" y="447.50" width="4.51" height="6.75" fill="#009dff"/><rect x="448.18" y="447.50" width="13.42" height="6.75" fill="#009eff"/><rect x="461.55" y="447.50" width="4.51" height="6.75" fill="#009fff"/><rect x="466.00" y="447.50" width="4.51" height="6.75" fill="#00a0ff"/><rect x="470.46" y="447.50" width="4.51" height="6.75" fill="#00a1ff"/><rect x="260.98" y="454.20" width="4.51" height="6.75" fill="#0035ff"/><rect x="265.44" y="454.20" width="4.51" height="6.75" fill="#0037ff"/><rect x="269.90" y="454.20" width="4.51" height="6.75" fill="#0039ff"/><rect x="274.35" y="454.20" width="4.51" height="6.75" fill="#003cff"/><rect x="278.81" y="454.20" width="8.96" height="6.75" fill="#003dff"/><rect x="287.72" y="454.20" width="4.51" height="6.75" fill="#003eff"/><rect x="292.18" y="454.20" width="4.51" height="6.75" fill="#003fff"/><rect x="296.64" y="454.20" width="4.51" height="6.75" fill="#0041ff"/><rect x="301.10" y="454.20" width="4.51" height="6.75" fill="#0045ff"/><rect x="305.55" y="454.20" width="4.51" height="6.75" fill="#0048ff"/><rect x="310.01" y="454.20" width="4.51" height="6.75" fill="#004cff"/><rect x="314.47" y="454.20" width="4.51" height="6.75" fill="#004fff"/><rect x="318.92" y="454.20" width="4.51" height="6.75" fill="#0051ff"/><rect x="323.38" y="454.20" width="4.51" height="6.75" fill="#0052ff"/><rect x="327.84" y="454.20" width="4.51" height="6.75" fill="#0053ff"/><rect x="332.29" y="454.20" width="13.42" height="6.75" fill="#0054ff"/><rect x="345.66" y="454.20" width="4.51" height="6.75" fill="#0055ff"/><rect x="350.12" y="454.20" width="4.51" height="6.75" fill="#0056ff"/><rect x="354.58" y="454.20" width="8.96" height="6.75" fill="#0057ff"/><rect x="363.49" y="454.20" width="4.51" height="6.75" fill="#0058ff"/><rect x="367.95" y="454.20" width="4.51" height="6.75" fill="#0059ff"/><rect x="372.41" y="454.20" width="4.51" height="6.75" fill="#005eff"/><rect x="376.86" y="454.20" width="4.51" height="6.75" fill="#0065ff"/><rect x="381.32" y="454.20" width="4.51" height="6.75" fill="#006dff"/><rect x="385.78" y="454.20" width="4.51" height="6.75" fill="#0073ff"/><rect x="390.24" y="454.20" width="4.51" height="6.75" fill="#0078ff"/><rect x="394.69" y="454.20" width="4.51" height="6.75" fill="#007cff"/><rect x="399.15" y="454.20" width="4.51" height="6.75" fill="#0080ff"/><rect x="403.61" y="454.20" width="4.51" height="6.75" fill="#0083ff"/><rect x="408.06" y="454.20" width="4.51" height="6.75" fill="#0085ff"/><rect x="412.52" y="454.20" width="4.51" height="6.75" fill="#0088ff"/><rect x="416.98" y="454.20" width="4.51" height="6.75" fill="#008aff"/><rect x="421.43" y="454.20" width="4.51" height="6.75" fill="#008dff"/><rect x="425.89" y="454.20" width="4.51" height="6.75" fill="#0090ff"/><rect x="430.35" y="454.20" width="4.51" height="6.75" fill="#0093ff"/><rect x="434.80" y="454.20" width="4.51" height="6.75" fill="#0096ff"/><rect x="439.26" y="454.20" width="4.51" height="6.75" fill="#0099ff"/><rect x="443.72" y="454.20" width="4.51" height="6.75" fill="#009bff"/><rect x="448.18" y="454.20" width="4.51" height="6.75" fill="#009dff"/><rect x="452.63" y="454.20" width="17.88" height="6.75" fill="#009eff"/><rect x="470.46" y="454.20" width="4.51" height="6.75" fill="#009fff"/><rect x="292.18" y="460.90" width="4.51" height="6.75" fill="#0042ff"/><rect x="296.64" y="460.90" width="4.51" height="6.75" fill="#0046ff"/><rect x="301.10" y="460.90" width="4.51" height="6.75" fill="#004aff"/><rect x="305.55" y="460.90" width="4.51" height="6.75" fill="#004fff"/><rect x="310.01" y="460.90" width="4.51" height="6.75" fill="#0052ff"/><rect x="314.47" y="460.90" width="4.51" height="6.75" fill="#0053ff"/><rect x="318.92" y="460.90" width="4.51" height="6.75" fill="#0054ff"/><rect x="323.38" y="460.90" width="8.96" height="6.75" fill="#0055ff"/><rect x="332.29" y="460.90" width="4.51" height="6.75" fill="#0056ff"/><rect x="336.75" y="460.90" width="13.42" height="6.75" fill="#0057ff"/><rect x="350.12" y="460.90" width="4.51" height="6.75" fill="#0058ff"/><rect x="354.58" y="460.90" width="13.42" height="6.75" fill="#0057ff"/><rect x="367.95" y="460.90" width="4.51" height="6.75" fill="#0058ff"/><rect x="372.41" y="460.90" width="4.51" height="6.75" fill="#005dff"/><rect x="376.86" y="460.90" width="4.51" height="6.75" fill="#0068ff"/><rect x="381.32" y="460.90" width="4.51" height="6.75" fill="#0072ff"/><rect x="385.78" y="460.90" width="4.51" height="6.75" fill="#0077ff"/><rect x="390.24" y="460.90" width="4.51" height="6.75" fill="#007bff"/><rect x="394.69" y="460.90" width="4.51" height="6.75" fill="#007dff"/><rect x="399.15" y="460.90" width="4.51" height="6.75" fill="#007fff"/><rect x="403.61" y="460.90" width="4.51" height="6.75" fill="#0081ff"/><rect x="408.06" y="460.90" width="4.51" height="6.75" fill="#0083ff"/><rect x="412.52" y="460.90" width="4.51" height="6.75" fill="#0084ff"/><rect x="416.98" y="460.90" width="4.51" height="6.75" fill="#0086ff"/><rect x="421.43" y="460.90" width="4.51" height="6.75" fill="#0089ff"/><rect x="425.89" y="460.90" width="4.51" height="6.75" fill="#008cff"/><rect x="430.35" y="460.90" width="4.51" height="6.75" fill="#008fff"/><rect x="434.80" y="460.90" width="4.51" height="6.75" fill="#0092ff"/><rect x="439.26" y="460.90" width="4.51" height="6.75" fill="#0095ff"/><rect x="443.72" y="460.90" width="4.51" height="6.75" fill="#009aff"/><rect x="448.18" y="460.90" width="4.51" height="6.75" fill="#009dff"/><rect x="452.63" y="460.90" width="22.34" height="6.75" fill="#009eff"/><rect x="292.18" y="467.60" width="4.51" height="6.75" fill="#0048ff"/><rect x="296.64" y="467.60" width="4.51" height="6.75" fill="#004cff"/><rect x="301.10" y="467.60" width="4.51" height="6.75" fill="#0051ff"/><rect x="305.55" y="467.60" width="4.51" height="6.75" fill="#0054ff"/><rect x="310.01" y="467.60" width="17.88" height="6.75" fill="#0056ff"/><rect x="327.84" y="467.60" width="22.34" height="6.75" fill="#0057ff"/><rect x="350.12" y="467.60" width="8.96" height="6.75" fill="#0058ff"/><rect x="359.04" y="467.60" width="8.96" height="6.75" fill="#0057ff"/><rect x="367.95" y="467.60" width="4.51" height="6.75" fill="#005aff"/><rect x="372.41" y="467.60" width="4.51" height="6.75" fill="#0064ff"/><rect x="376.86" y="467.60" width="4.51" height="6.75" fill="#0073ff"/><rect x="381.32" y="467.60" width="4.51" height="6.75" fill="#007bff"/><rect x="385.78" y="467.60" width="4.51" height="6.75" fill="#007dff"/><rect x="390.24" y="467.60" width="8.96" height="6.75" fill="#007eff"/><rect x="399.15" y="467.60" width="4.51" height="6.75" fill="#007fff"/><rect x="403.61" y="467.60" width="4.51" height="6.75" fill="#0080ff"/><rect x="408.06" y="467.60" width="8.96" height="6.75" fill="#0081ff"/><rect x="416.98" y="467.60" width="4.51" height="6.75" fill="#0082ff"/><rect x="421.43" y="467.60" width="4.51" height="6.75" fill="#0085ff"/><rect x="425.89" y="467.60" width="4.51" height="6.75" fill="#008bff"/><rect x="430.35" y="467.60" width="4.51" height="6.75" fill="#008eff"/><rect x="434.80" y="467.60" width="4.51" height="6.75" fill="#008fff"/><rect x="439.26" y="467.60" width="4.51" height="6.75" fill="#0091ff"/><rect x="448.18" y="467.60" width="4.51" height="6.75" fill="#009bff"/><rect x="452.63" y="467.60" width="22.34" height="6.75" fill="#009eff"/><rect x="292.18" y="474.30" width="4.51" height="6.75" fill="#004dff"/><rect x="296.64" y="474.30" width="4.51" height="6.75" fill="#0051ff"/><rect x="301.10" y="474.30" width="4.51" height="6.75" fill="#0054ff"/><rect x="305.55" y="474.30" width="4.51" height="6.75" fill="#0056ff"/><rect x="310.01" y="474.30" width="40.16" height="6.75" fill="#0057ff"/><rect x="350.12" y="474.30" width="4.51" height="6.75" fill="#0058ff"/><rect x="354.58" y="474.30" width="4.51" height="6.75" fill="#0059ff"/><rect x="359.04" y="474.30" width="4.51" height="6.75" fill="#005aff"/><rect x="363.49" y="474.30" width="4.51" height="6.75" fill="#005dff"/><rect x="367.95" y="474.30" width="4.51" height="6.75" fill="#0064ff"/><rect x="372.41" y="474.30" width="4.51" height="6.75" fill="#0071ff"/><rect x="376.86" y="474.30" width="4.51" height="6.75" fill="#007cff"/><rect x="381.32" y="474.30" width="8.96" height="6.75" fill="#007fff"/><rect x="394.69" y="474.30" width="8.96" height="6.75" fill="#007fff"/><rect x="403.61" y="474.30" width="17.88" height="6.75" fill="#0080ff"/><rect x="421.43" y="474.30" width="4.51" height="6.75" fill="#0083ff"/><rect x="425.89" y="474.30" width="4.51" height="6.75" fill="#008cff"/><rect x="430.35" y="474.30" width="13.42" height="6.75" fill="#008fff"/><rect x="448.18" y="474.30" width="4.51" height="6.75" fill="#0096ff"/><rect x="452.63" y="474.30" width="4.51" height="6.75" fill="#009aff"/><rect x="457.09" y="474.30" width="4.51" height="6.75" fill="#009cff"/><rect x="461.55" y="474.30" width="4.51" height="6.75" fill="#009dff"/><rect x="301.10" y="481.00" width="4.51" height="6.75" fill="#0055ff"/><rect x="305.55" y="481.00" width="4.51" height="6.75" fill="#0056ff"/><rect x="310.01" y="481.00" width="40.16" height="6.75" fill="#0057ff"/><rect x="350.12" y="481.00" width="4.51" height="6.75" fill="#0058ff"/><rect x="354.58" y="481.00" width="4.51" height="6.75" fill="#005aff"/><rect x="359.04" y="481.00" width="4.51" height="6.75" fill="#005eff"/><rect x="363.49" y="481.00" width="4.51" height="6.75" fill="#0063ff"/><rect x="367.95" y="481.00" width="4.51" height="6.75" fill="#006cff"/><rect x="372.41" y="481.00" width="4.51" height="6.75" fill="#0076ff"/><rect x="376.86" y="481.00" width="4.51" height="6.75" fill="#007dff"/><rect x="381.32" y="481.00" width="8.96" height="6.75" fill="#007fff"/><rect x="394.69" y="481.00" width="8.96" height="6.75" fill="#007fff"/><rect x="403.61" y="481.00" width="17.88" height="6.75" fill="#0080ff"/><rect x="421.43" y="481.00" width="4.51" height="6.75" fill="#0083ff"/><rect x="425.89" y="481.00" width="4.51" height="6.75" fill="#008bff"/><rect x="430.35" y="481.00" width="4.51" height="6.75" fill="#008eff"/><rect x="434.80" y="481.00" width="8.96" height="6.75" fill="#008fff"/><rect x="448.18" y="481.00" width="4.51" height="6.75" fill="#0093ff"/><rect x="452.63" y="481.00" width="4.51" height="6.75" fill="#0096ff"/><rect x="457.09" y="481.00" width="4.51" height="6.75" fill="#0099ff"/><rect x="461.55" y="481.00" width="4.51" height="6.75" fill="#009aff"/><rect x="301.10" y="487.70" width="4.51" height="6.75" fill="#0055ff"/><rect x="305.55" y="487.70" width="8.96" height="6.75" fill="#0056ff"/><rect x="314.47" y="487.70" width="13.42" height="6.75" fill="#0057ff"/><rect x="327.84" y="487.70" width="22.34" height="6.75" fill="#0058ff"/><rect x="350.12" y="487.70" width="4.51" height="6.75" fill="#005aff"/><rect x="354.58" y="487.70" width="4.51" height="6.75" fill="#005cff"/><rect x="359.04" y="487.70" width="4.51" height="6.75" fill="#0061ff"/><rect x="363.49" y="487.70" width="4.51" height="6.75" fill="#0067ff"/><rect x="367.95" y="487.70" width="4.51" height="6.75" fill="#006eff"/><rect x="372.41" y="487.70" width="4.51" height="6.75" fill="#0075ff"/><rect x="376.86" y="487.70" width="4.51" height="6.75" fill="#007aff"/><rect x="381.32" y="487.70" width="4.51" height="6.75" fill="#007dff"/><rect x="385.78" y="487.70" width="4.51" height="6.75" fill="#007eff"/><rect x="394.69" y="487.70" width="8.96" height="6.75" fill="#007fff"/><rect x="403.61" y="487.70" width="4.51" height="6.75" fill="#0080ff"/><rect x="408.06" y="487.70" width="8.96" height="6.75" fill="#0081ff"/><rect x="416.98" y="487.70" width="4.51" height="6.75" fill="#0082ff"/><rect x="421.43" y="487.70" width="4.51" height="6.75" fill="#0085ff"/><rect x="425.89" y="487.70" width="4.51" height="6.75" fill="#008aff"/><rect x="430.35" y="487.70" width="4.51" height="6.75" fill="#008dff"/><rect x="434.80" y="487.70" width="4.51" height="6.75" fill="#008eff"/><rect x="439.26" y="487.70" width="4.51" height="6.75" fill="#008fff"/><rect x="341.21" y="494.40" width="4.51" height="6.75" fill="#005aff"/><rect x="345.66" y="494.40" width="4.51" height="6.75" fill="#005bff"/><rect x="350.12" y="494.40" width="4.51" height="6.75" fill="#005dff"/><rect x="354.58" y="494.40" width="4.51" height="6.75" fill="#0060ff"/><rect x="359.04" y="494.40" width="4.51" height="6.75" fill="#0064ff"/><rect x="363.49" y="494.40" width="4.51" height="6.75" fill="#0069ff"/><rect x="367.95" y="494.40" width="4.51" height="6.75" fill="#006eff"/><rect x="376.86" y="494.40" width="4.51" height="6.75" fill="#0078ff"/><rect x="381.32" y="494.40" width="4.51" height="6.75" fill="#007aff"/><rect x="385.78" y="494.40" width="4.51" height="6.75" fill="#007cff"/><rect x="394.69" y="494.40" width="4.51" height="6.75" fill="#007eff"/><rect x="399.15" y="494.40" width="4.51" height="6.75" fill="#007fff"/><rect x="403.61" y="494.40" width="4.51" height="6.75" fill="#0081ff"/><rect x="408.06" y="494.40" width="4.51" height="6.75" fill="#0082ff"/><rect x="412.52" y="494.40" width="4.51" height="6.75" fill="#0083ff"/><rect x="416.98" y="494.40" width="4.51" height="6.75" fill="#0084ff"/><rect x="421.43" y="494.40" width="4.51" height="6.75" fill="#0087ff"/><rect x="425.89" y="494.40" width="4.51" height="6.75" fill="#0089ff"/><rect x="430.35" y="494.40" width="4.51" height="6.75" fill="#008bff"/><rect x="416.98" y="501.10" width="4.51" height="6.75" fill="#0085ff"/><rect x="421.43" y="501.10" width="4.51" height="6.75" fill="#0087ff"/><rect x="425.89" y="501.10" width="4.51" height="6.75" fill="#0089ff"/><rect x="430.35" y="501.10" width="4.51" height="6.75" fill="#008bff"/><rect x="416.98" y="507.80" width="4.51" height="6.75" fill="#0086ff"/><rect x="421.43" y="507.80" width="4.51" height="6.75" fill="#0087ff"/><rect x="425.89" y="507.80" width="4.51" height="6.75" fill="#0089ff"/><rect x="430.35" y="507.80" width="4.51" height="6.75" fill="#008bff"/></g>
<g shape-rendering="crispEdges">
<rect x="484.3" y="414.1" width="13.40" height="19.80" fill="#008aff"/>
<rect x="524.2" y="407.2" width="13.70" height="20.20" fill="#0afff5"/>
<rect x="560.2" y="420.9" width="13.40" height="19.90" fill="#00ffff"/>
<rect x="584.9" y="440.8" width="13.40" height="20.10" fill="#00ffff"/>
<rect x="606.9" y="433.9" width="13.30" height="20.10" fill="#1affe5"/>
<rect x="510.9" y="437.4" width="13.30" height="20.00" fill="#008aff"/>
<rect x="495.4" y="444.2" width="13.40" height="20.10" fill="#00dbff"/>
<rect x="484.3" y="467.7" width="13.40" height="20.10" fill="#008aff"/>
<rect x="560.2" y="478" width="13.40" height="20.10" fill="#05fffa"/>
<rect x="571.1" y="309.9" width="13.70" height="20.10" fill="#00ebff"/>
<rect x="361.5" y="421.2" width="12.90" height="26.10" fill="#0038ff"/>
<rect x="381.6" y="424.4" width="12.90" height="18.60" fill="#0094ff"/>
<rect x="294.4" y="461" width="13.40" height="16.40" fill="#008fff"/>
<rect x="569.3" y="383.8" width="17.10" height="19.90" fill="#00b2ff"/>
<rect x="555.6" y="330.3" width="13.00" height="16.40" fill="#00e5ff"/>
<rect x="437.3" y="286.7" width="17.10" height="10.40" fill="#0057ff"/>
<rect x="437.3" y="297.1" width="7.30" height="15.90" fill="#00b2ff"/>
<rect x="444.6" y="297.1" width="8.60" height="15.90" fill="#0042ff"/>
<rect x="404" y="312" width="12.00" height="21.00" fill="#002eff"/>
<rect x="470.6" y="380.3" width="10.30" height="20.60" fill="#00a8ff"/>
<rect x="397.3" y="233" width="13.10" height="19.90" fill="#0029ff"/>
<rect x="424.4" y="250" width="12.30" height="14.00" fill="#001fff"/>
<rect x="424.4" y="264" width="12.30" height="2.70" fill="#0061ff"/>
<rect x="444.1" y="246.8" width="13.00" height="15.20" fill="#002eff"/>
<rect x="444.1" y="262" width="13.00" height="4.40" fill="#0075ff"/>
<rect x="357" y="300" width="11.00" height="16.00" fill="#0057ff"/>
<rect x="382" y="313" width="9.00" height="17.00" fill="#001aff"/>
<rect x="413" y="315" width="8.00" height="12.00" fill="#004dff"/>
<rect x="462" y="286" width="13.00" height="21.00" fill="#0057ff"/>
<rect x="484.3" y="350.3" width="13.70" height="17.10" fill="#008aff"/>
<rect x="394.7" y="347.3" width="12.80" height="20.10" fill="#002eff"/>
<rect x="209.6" y="232.9" width="6.90" height="13.70" fill="#fff"/>
<rect x="214.2" y="246.6" width="15.50" height="3.20" fill="#fff"/>
<rect x="222.9" y="249.8" width="6.80" height="3.20" fill="#fff"/>
<rect x="455.3" y="266" width="6.60" height="21.00" fill="#fff"/>
<rect x="412.7" y="293.5" width="17.90" height="6.90" fill="#fff"/>
<rect x="431.3" y="287.3" width="5.40" height="5.50" fill="#fff"/>
<rect x="445" y="314" width="7.50" height="8.30" fill="#fff"/>
<rect x="413" y="324.5" width="24.70" height="56.50" fill="#fff"/>
<rect x="437.7" y="349" width="13.80" height="32.00" fill="#fff"/>
<rect x="307.8" y="464" width="9.20" height="3.70" fill="#fff"/>
<rect x="328.2" y="437.4" width="16.00" height="4.50" fill="#fff"/>
<rect x="332" y="441.9" width="12.20" height="3.90" fill="#fff"/>
<rect x="344.2" y="444.2" width="10.70" height="6.90" fill="#fff"/>
<rect x="350.3" y="451.1" width="4.60" height="19.30" fill="#fff"/>
<rect x="370" y="452.9" width="4.30" height="21.40" fill="#fff"/>
<rect x="374.5" y="475.5" width="4.30" height="18.90" fill="#fff"/>
<rect x="374.7" y="447.3" width="7.70" height="3.00" fill="#fff"/>
<rect x="415.1" y="447.4" width="6.90" height="26.50" fill="#fff"/>
<rect x="361" y="411.2" width="46.40" height="10.00" fill="#fff"/>
<rect x="394.5" y="421.2" width="12.90" height="6.00" fill="#fff"/>
<rect x="382" y="404" width="1.60" height="7.20" fill="#fff"/>
<rect x="382" y="441.5" width="15.00" height="9.50" fill="#fff"/>
<rect x="460.2" y="343.9" width="20.30" height="9.60" fill="#fff"/>
<rect x="482.6" y="372.7" width="12.40" height="7.60" fill="#fff"/>
<rect x="468.3" y="311" width="8.70" height="5.90" fill="#fff"/>
<rect x="448.7" y="313.7" width="4.50" height="3.20" fill="#fff"/>
<rect x="260.5" y="413.7" width="2.90" height="3.50" fill="#fff"/>
<rect x="269.4" y="417.7" width="5.00" height="2.70" fill="#fff"/>
<rect x="279.3" y="420.7" width="2.10" height="9.90" fill="#fff"/>
<rect x="279.3" y="423.8" width="6.00" height="2.40" fill="#fff"/>
<rect x="375.5" y="357" width="7.50" height="20.00" fill="#fff"/>
<rect x="386.5" y="381" width="7.00" height="10.50" fill="#fff"/>
<rect x="242.7" y="286.7" width="3.00" height="6.10" fill="#fff"/>
<rect x="250.3" y="293.5" width="3.80" height="3.10" fill="#fff"/>
<rect x="256.4" y="324" width="4.60" height="3.10" fill="#fff"/>
<rect x="522.6" y="327" width="2.80" height="26.00" fill="#fff"/>
<rect x="539.8" y="320" width="6.80" height="13.70" fill="#fff"/>
<rect x="532.9" y="377.6" width="11.00" height="2.80" fill="#fff"/>
<rect x="511" y="370.8" width="9.60" height="1.30" fill="#fff"/>
<rect x="548.3" y="313" width="7.70" height="20.00" fill="#fff"/>
<rect x="279.2" y="286.6" width="8.20" height="2.40" fill="#fff"/>
<rect x="279.2" y="289" width="2.30" height="14.00" fill="#fff"/>
<rect x="319.5" y="339.6" width="1.80" height="16.40" fill="#fff"/>
<rect x="295.7" y="326.8" width="2.70" height="6.40" fill="#fff"/>
<rect x="419.2" y="441" width="3.70" height="6.40" fill="#fff"/>
<rect x="422" y="463.9" width="12.80" height="7.30" fill="#fff"/>
<rect x="434.8" y="452" width="9.10" height="19.20" fill="#fff"/>
</g>
<g fill="none" stroke="#000" stroke-width="2.2" stroke-linejoin="round" stroke-linecap="round">
<polyline points="150.2,49.6 153.8,50.0 154.8,52.2 156.7,55.8 155.3,58.6 155.7,60.8 156.7,63.6 160.0,64.4 161.0,67.9 162.4,73.7 163.9,80.8 164.1,86.6 163.1,92.3 161.7,98.0 160.6,101.6 163.1,103.8 167.4,105.9 171.0,105.9 174.6,101.6 178.9,98.0 181.8,95.9 183.9,90.9 186.1,91.6 188.9,95.2 191.1,99.5 192.5,106.6 193.2,116.7 194.7,125.3 196.8,133.9 198.3,139.0"/>
<polyline points="196.1,135.0 199.0,140.7 201.1,149.3 199.0,157.2 201.1,165.1 199.0,173.7 198.3,182.3 197.5,192.3 196.1,198.1 196.8,206.7 200.4,208.1 204.7,213.1 209.0,219.6 212.6,226.7 213.6,229.6"/>
<polyline points="214.7,136.4 211.9,138.6 211.2,149.3 209.0,160.8 206.1,170.8 204.7,182.3 205.4,192.3 209.0,193.1 210.4,198.1 214.7,208.1 216.9,215.3 220.5,222.4 223.3,225.3 226.5,229.6"/>
<polyline points="214.7,136.4 217.6,136.1 220.5,137.9 220.5,145.8 228.4,147.2 234.1,153.6 237.7,160.1 240.5,168.0 244.1,173.7 248.4,175.1"/>
<polyline points="209.7,224.3 213.3,229.3 214.7,236.5 214.7,245.1 216.2,250.8 217.6,253.0 216.9,259.4 219.0,265.1 221.9,269.4 223.3,275.2 226.2,280.2 231.9,285.2 237.7,290.9 242.0,295.2 244.8,297.4 248.4,297.4"/>
<polyline points="223.3,225.0 229.1,230.7 234.8,239.3 239.1,246.5 241.3,253.7 242.0,262.3 242.0,270.9 244.1,279.5 246.3,283.8 248.4,286.6"/>
<polyline points="170.3,241.5 174.6,240.8 177.5,243.6 180.3,245.8 188.9,246.5 193.2,250.1 196.1,256.5 200.4,263.7 206.1,268.0 211.9,273.7 216.2,282.3 220.5,286.6"/>
<polyline points="170.3,241.5 171.0,246.5 173.2,252.2 177.5,259.4 181.8,265.1 184.6,266.6 187.5,272.3 191.8,280.9 194.7,285.2 199.0,289.5 201.8,293.8 202.6,299.5 204.0,306.7 206.1,312.4 209.0,316.7 210.7,319.6"/>
<polyline points="174.6,278.8 177.5,279.5 180.3,283.8 178.2,284.5 175.3,281.6 174.6,278.8"/>
<polyline points="187.5,297.4 190.4,298.1 194.0,306.7 193.2,308.9 190.4,305.3 187.5,299.5 187.5,297.4"/>
<polyline points="208.7,314.3 212.6,319.3 216.2,326.5 217.6,333.6 220.5,343.7 224.8,352.3 229.1,359.4 231.9,363.7 234.1,368.0 237.7,373.8 242.7,379.5 248.4,385.5"/>
<polyline points="201.1,329.3 203.3,328.6 206.1,337.9 204.0,340.1 201.8,336.5 201.1,329.3"/>
<polyline points="265.5,49.3 263.7,56.5 261.5,62.9 263.7,68.7 268.0,74.4 268.7,78.7 275.1,89.4 283.0,99.5 287.3,106.6 290.9,111.7 292.3,119.5 293.8,128.1 294.5,139.6"/>
<polyline points="301.6,49.0 309.5,48.6 310.2,52.9 307.4,57.2 305.9,63.6 303.1,67.9 298.8,71.5 294.5,72.2 290.2,69.4 288.7,63.6 289.5,57.9 294.5,53.6 298.8,50.0 301.6,49.0"/>
<polyline points="294.5,134.3 294.5,145.0 293.8,160.8 291.6,164.4 285.9,168.0 277.3,176.6 271.5,177.3 271.5,185.2 268.7,190.2 264.4,191.6 261.5,193.8 256.5,200.2 255.1,195.2 255.8,182.3 252.9,180.2 250.8,178.0 249.3,175.1 245.7,174.4 242.9,172.3 240.0,166.5 239.3,165.4"/>
<polyline points="240.0,243.6 242.2,249.4 242.9,262.3 242.2,275.2 245.0,282.3 247.2,288.1 249.3,296.7 245.7,297.4 240.0,297.0"/>
<polyline points="363.1,223.3 357.5,230.7 354.7,236.5 350.4,243.6 348.9,250.1 343.2,250.8 338.9,255.1 334.6,262.3 330.3,268.0 326.0,274.5 320.3,276.6 314.5,278.8 313.1,285.2 311.0,295.2 305.9,293.8 301.6,292.4 297.3,290.2 293.8,292.4 291.6,299.5 291.6,308.1 293.8,313.9 294.5,319.6"/>
<polyline points="255.8,343.7 258.6,348.0 264.4,353.7 266.5,356.6 265.1,362.3 264.4,372.3 263.7,382.4 262.9,393.1 258.6,390.3 254.3,393.1 251.5,389.5 247.2,383.8 240.0,376.6"/>
<polyline points="259.4,342.2 260.8,337.9 265.1,336.5 267.2,343.7 268.7,349.4 271.5,351.6 271.8,356.6 269.4,356.9 265.1,353.0 261.5,349.4 258.9,345.8 259.4,342.2"/>
<polyline points="280.9,350.8 285.9,353.0 284.4,358.7 281.6,358.0 280.1,355.1 280.9,350.8"/>
<polyline points="294.5,314.3 295.2,322.2 298.8,326.5 301.6,332.2 302.4,340.8 303.1,349.4 305.2,356.6 311.7,356.6 314.5,355.1 316.7,355.1 318.1,363.0 323.1,360.9 329.6,358.0 334.6,361.6 339.6,361.6 341.8,365.2 343.9,370.9 348.9,368.0 354.7,364.5 358.3,359.4 359.0,350.8 357.5,340.8"/>
<polyline points="390.0,109.9 389.4,108.1 388.7,105.2 389.4,99.5 393.0,100.2 393.7,93.7 394.4,86.6 393.0,81.6 394.4,75.1 395.8,68.7 400.1,67.2 403.0,70.1 407.3,71.5 410.9,69.4 410.2,75.1 410.2,82.3 413.0,88.0 411.6,93.7 408.7,99.5 404.4,105.2 403.0,112.4 403.6,109.9"/>
<polyline points="394.4,137.2 398.0,136.5 402.3,139.4 404.4,145.1 404.4,150.1 401.6,153.7 398.7,150.8 396.6,144.4 394.4,137.2"/>
<polyline points="385.8,166.6 387.2,175.2 384.4,180.2 380.1,185.9 377.2,190.2 374.3,196.0 370.0,201.0 365.7,203.9 366.5,200.3 370.0,196.0 375.1,190.2 378.6,184.5 381.5,177.3 383.7,171.6 385.8,166.6"/>
<polyline points="439.1,186.9 442.6,190.9 446.1,196.8 447.6,203.8 449.1,212.7 449.1,217.7 446.6,225.6 445.1,231.0 443.6,224.6 442.1,218.7 439.6,221.6 437.7,226.6 439.6,232.5 440.6,237.5 438.7,241.4 435.7,237.5 430.7,235.5 426.8,231.5 426.3,226.6 426.8,219.6 427.3,217.7 424.8,215.7 422.8,213.2 419.8,215.2 418.3,218.7 415.9,219.6 414.9,214.7 412.9,213.7 411.9,217.7 409.9,219.6 408.9,224.6 408.4,219.6 408.9,212.7 410.9,209.2 414.9,206.8 416.8,203.8 420.8,200.8 423.8,201.8 424.8,206.8 426.8,204.8 429.7,202.8 432.7,199.8 434.2,196.8 436.7,197.8 439.1,194.9 439.6,189.9 439.1,186.9"/>
<polyline points="363.2,223.2 366.5,226.5 370.8,230.1 370.0,235.8 374.3,241.6 382.9,247.3 375.8,250.2 374.3,253.0 377.2,256.6 373.6,258.8 370.8,263.1 368.6,268.8 367.2,274.5 370.0,280.3 372.2,286.0 370.8,291.7 371.5,294.6"/>
<polyline points="365.7,203.9 366.5,202.9 368.6,201.4 371.5,200.0"/>
<polyline points="383.7,350.4 385.0,341.2 385.9,333.0 387.3,328.4 389.1,324.8 389.6,317.4 390.1,311.0 390.5,306.9 395.6,306.9 396.9,304.6 398.3,299.1 404.7,301.0 410.2,302.8 416.6,305.1 423.0,304.2 428.5,301.4 432.2,297.3 434.9,293.7 437.2,295.5 434.9,301.0 431.2,307.4 427.6,310.6 422.5,312.0 419.3,311.0 414.8,310.1 407.4,309.7 401.0,310.1 396.9,310.6 393.7,311.0 391.9,313.8 391.0,317.4 390.5,322.0 390.1,324.8 393.7,328.4 396.5,333.9 398.3,334.8 401.0,333.9 403.8,330.3 407.4,328.4 412.9,326.6 418.4,324.8 420.3,326.6 421.6,329.3 417.5,328.0 413.9,331.2 411.1,335.7 407.4,339.4 404.2,342.6 405.6,345.8 407.6,350.4"/>
<polyline points="430.1,339.2 439.0,341.2 432.3,343.8 430.1,339.2"/>
<polyline points="383.7,345.5 380.5,353.7 380.1,357.4 381.9,363.8 386.5,364.2 387.4,369.3 387.4,376.6 386.0,383.9 386.0,390.8 392.9,390.8 393.8,385.7 394.2,378.4 393.8,367.4 393.3,358.3 393.8,355.6 397.4,352.8 400.2,353.7 399.3,358.3 399.3,363.8 402.9,369.3 405.2,372.0 405.2,378.4 407.5,380.3 410.3,378.9 411.6,380.3 411.6,385.7 413.9,392.6 418.5,386.7 418.5,379.3 414.8,371.1 410.3,363.8 409.3,362.9 412.5,359.2 410.3,353.7 407.5,349.1 403.9,342.7 404.8,341.4 407.5,340.0"/>
<polyline points="465.1,328.6 463.3,326.3 460.6,322.2 458.7,317.6 458.3,312.1 457.8,306.6 456.4,302.0 456.4,297.4 457.4,292.9 458.7,289.7 461.5,287.8 460.7,292.0 461.9,295.6 464.2,297.0 467.0,295.6 468.3,297.4 467.9,302.0 465.6,304.8 464.4,306.6 465.6,309.5 462.8,310.3 461.0,311.6 460.1,315.7 460.1,321.2 461.9,324.9 465.1,328.6"/>
<polyline points="483.0,318.9 486.2,317.1 489.8,319.4 487.5,322.2 484.3,321.2 483.0,318.9"/>
<polyline points="370.8,289.3 374.3,294.3 377.2,299.3 381.5,304.3 374.3,305.1 370.0,307.2 368.6,315.8 367.2,324.4 365.7,331.6 362.2,335.9 360.0,338.7 357.6,340.7"/>
<polyline points="380.8,353.1 380.1,357.4 382.2,361.7 385.1,366.0 385.8,371.7 385.8,378.9 386.1,384.6"/>
<polyline points="444.6,360.2 448.2,358.1 453.2,360.2 453.9,366.0 450.3,368.1 446.0,366.0 444.6,360.2"/>
<polyline points="483.6,318.7 484.1,319.5"/>
<polyline points="454.6,339.2 458.9,334.6 463.8,339.2 454.6,339.2"/>
<polyline points="523.0,375.4 520.3,371.7 515.7,368.1 512.0,364.4 508.4,369.9 505.6,369.9 504.7,366.2 502.9,361.7 500.1,358.0 496.9,354.3 499.2,352.5 507.4,350.7 512.9,349.8 513.9,344.3 507.4,346.1 499.2,346.6 496.0,342.4 495.1,338.8 489.1,336.0 487.3,334.2 490.1,328.7 494.6,326.4 499.2,321.4 504.7,321.4 508.4,325.1 513.9,325.5 515.7,328.7 517.1,335.1 515.7,342.4 516.1,347.0 520.3,349.8 523.0,356.2 526.7,360.7 529.4,360.7 533.1,353.4 536.7,347.0 540.0,345.2"/>
<polyline points="480.0,357.1 482.7,358.0 485.5,362.6 486.4,367.2 484.6,368.1 480.0,364.4"/>
<polyline points="527.6,326.9 531.2,325.5 534.9,330.6 533.1,332.4 529.9,330.6 527.6,326.9"/>
<polyline points="540.2,345.2 543.8,340.2 547.4,337.3 550.2,335.9 557.4,341.6 566.0,346.7 573.2,348.1 580.3,352.4 588.9,356.7 599.0,362.4 605.4,366.3"/>
<polyline points="462.2,356.5 465.1,355.0 470.1,354.3 475.1,353.6 479.4,356.5 484.4,358.6 486.6,362.9 485.9,367.9 482.3,365.1 477.3,362.9 473.0,361.5 467.2,361.5 463.7,360.8 461.5,358.6 462.2,356.5"/>
<polyline points="523.0,375.4 524.6,375.1 531.7,377.2 540.3,381.5 547.5,385.8 551.8,390.1 554.7,397.3 556.1,404.5 558.3,413.1 554.0,414.5 550.4,421.7 548.9,428.1 554.7,427.4 559.0,424.5 565.4,424.5"/>
<polyline points="519.6,390.1 521.7,393.0 521.0,400.2 518.1,407.3 516.0,408.8 515.3,404.5 516.7,397.3 519.6,390.1"/>
<polyline points="490.2,418.8 493.0,412.4 494.5,415.9 491.6,421.7 489.5,422.4 490.2,418.8"/>
<polyline points="442.9,418.8 447.9,417.4 450.0,420.2 445.7,422.4 442.9,421.0 442.9,418.8"/>
<polyline points="605.7,366.6 611.8,371.2 617.2,375.7 620.2,382.6 620.2,390.2 625.5,392.5 630.1,395.5 634.7,394.8 637.7,398.6 639.3,403.2 638.5,406.2 631.6,408.5 633.2,413.8 636.2,418.4 640.8,423.0 643.5,430.6"/>
<polyline points="658.3,390.2 651.5,391.7 643.1,391.0 642.3,392.5 649.9,398.6 654.5,400.9 658.3,400.9"/>
<polyline points="597.3,430.6 601.2,423.0 605.7,417.7 610.3,416.9 616.4,419.9 622.5,423.0 624.3,430.6"/>
<polyline points="560.0,424.5 569.1,423.8 572.5,430.6"/>
<polyline points="627.8,344.9 630.9,343.4 634.4,344.6 631.3,346.5 627.8,344.9"/>
<polyline points="572.5,430.7 576.8,436.0 582.9,438.3 591.2,440.6 596.6,436.8 597.3,431.4 596.6,427.6 601.2,424.6 605.3,419.2"/>
<polyline points="612.6,419.5 621.0,423.0 624.0,427.6 627.1,433.7 631.6,439.8 635.5,447.4 636.2,451.2 645.4,452.8 654.5,455.1 657.6,459.6 660.0,460.4"/>
<polyline points="636.2,420.0 642.3,424.6 643.1,430.7 645.4,436.8 651.5,438.3 651.5,442.9 656.0,445.2 657.6,447.4 656.0,450.5 660.0,450.5"/>
<polyline points="583.6,520.6 582.9,505.4 583.6,493.2 585.2,479.5 587.4,474.9 588.2,465.7 591.2,462.7 594.3,465.7 595.1,477.9 598.9,487.1 601.2,496.2 602.7,508.4 605.7,511.5 610.3,509.2 613.4,514.5 616.7,520.6"/>
<polyline points="532.8,499.2 532.8,507.2 530.4,512.8 528.8,517.6 531.2,520.8 536.0,524.0 537.6,530.4 544.0,531.2 548.8,536.0 552.0,539.2 561.6,544.0 563.2,548.8 568.8,555.2 572.8,554.4 577.6,551.2 577.6,544.0 580.8,535.2 583.2,527.2 584.0,519.2 583.2,509.6 584.0,499.2"/>
<polyline points="600.0,499.2 602.4,508.0 605.6,511.2 609.6,508.8 616.0,516.0 616.8,525.6 617.6,538.4 622.4,548.0 624.0,554.4 623.2,562.4 625.6,570.4 630.4,574.4 636.0,576.8 641.9,585.6"/>
<polyline points="483.0,498.1 482.3,493.8 483.7,487.3 487.3,483.8 490.9,482.3 500.9,482.3 502.4,478.7 503.1,473.0 500.9,470.1 504.5,470.9 508.1,473.7 511.0,476.6 514.5,477.3 521.7,480.2 526.7,482.3 531.7,480.2 533.9,484.5 537.5,479.5 541.8,483.0 538.9,488.8 538.9,495.2 534.6,495.9 533.9,500.2 533.9,507.4 531.7,512.4 529.6,517.4 532.5,521.0 537.8,524.6"/>
<polyline points="480.9,473.0 482.3,469.4 485.9,468.7 489.5,470.1 493.0,469.4 493.8,472.3 489.5,476.6 486.6,474.4 481.6,474.4 480.9,473.0"/>
<polyline points="342.9,428.0 347.2,426.5 350.8,429.4 347.2,433.7 343.6,430.8 342.9,428.0"/>
<polyline points="355.1,434.4 356.5,428.7 359.4,428.0 359.4,433.0 357.9,435.8 355.1,434.4"/>
<polyline points="361.5,431.5 365.1,429.4 370.1,428.7 370.8,425.1 373.7,425.8 375.1,428.0 378.7,428.7 381.6,430.8 382.3,433.0 377.3,433.7 372.3,435.1 368.0,437.3 363.7,438.0 361.5,435.8 361.5,431.5"/>
<polyline points="389.5,429.4 393.0,427.2 397.3,428.0 400.2,429.4 403.1,430.8 407.4,429.4 411.7,428.0 415.3,423.7 418.1,425.1 417.4,428.7 415.3,430.8 410.2,433.7 405.9,435.8 401.6,436.6 398.8,434.4 394.5,435.1 390.9,433.7 389.5,429.4"/>
<polyline points="421.4,428.7 422.4,427.7 423.6,428.7 422.4,429.7 421.4,428.7"/>
<polyline points="429.6,425.8 435.3,427.2 430.3,429.4 429.6,425.8"/>
<polyline points="421.7,454.5 422.4,447.3 427.4,440.9 433.2,438.0 440.3,431.5 448.9,428.7 454.7,428.0 454.7,430.8 448.9,435.1 443.2,438.7 437.5,441.6 433.2,445.9 430.3,451.6 426.0,453.8 421.7,454.5"/>
<polyline points="381.6,443.7 385.9,441.6 390.9,442.3 394.5,444.4 397.3,448.7 398.1,450.9 394.5,453.8 391.6,450.2 387.3,447.3 383.0,446.6 381.6,443.7"/>
<polyline points="261.5,405.8 265.1,395.7 271.6,397.2 275.2,395.0 280.2,397.9 287.3,400.8 289.5,405.8 297.4,407.2 304.5,407.9 308.1,401.5 313.1,404.3 318.9,406.5 323.2,408.6 325.3,412.2 326.0,415.8 330.3,418.7 335.4,418.0 339.7,419.4 341.1,425.8 340.4,431.6 336.1,430.1 328.9,426.6 323.9,428.0 318.9,426.6 311.7,425.1 304.5,423.7 298.8,420.1 291.6,419.4 287.3,420.1 283.0,418.7 277.3,416.5 270.9,413.7 269.4,409.4 264.4,407.2 261.5,405.8"/>
<polyline points="326.0,410.1 330.3,408.6 336.1,408.6 335.4,411.5 330.3,412.9 326.8,412.2 326.0,410.1"/>
<polyline points="343.2,428.0 347.5,426.6 351.1,429.4 347.5,433.0 344.7,430.9 343.2,428.0"/>
<polyline points="381.7,585.7 390.1,584.0 398.5,581.5 405.2,573.1 407.8,565.6 411.1,560.5 410.3,550.5 417.0,538.7 422.0,550.5 425.4,545.4 423.7,538.7 424.5,533.7 429.6,537.0 432.1,525.3 436.3,519.4 437.1,513.6 443.0,512.7 444.7,508.5 448.9,507.7 452.2,503.5 457.2,504.3 462.3,511.9 463.1,520.3 469.0,516.1 473.2,516.9 477.4,520.3 478.2,516.1 474.0,511.0 477.4,505.2 479.1,500.1 483.3,498.5"/>
<polyline points="407.4,158.8 410.1,158.3 412.8,159.7 413.3,162.0 416.0,162.4 418.8,163.3 419.2,165.6 418.3,168.4 420.6,169.3 421.5,172.0 422.4,173.9 421.5,176.6 423.4,176.1 424.3,172.9 425.6,169.3 426.6,170.2 426.6,174.8 426.6,179.3 425.2,180.3 426.6,182.1 429.3,181.6 430.2,183.0 430.2,186.7 428.4,188.0 426.1,187.6 424.3,185.3 422.4,185.7 420.6,187.6 419.2,186.7 418.8,189.4 419.2,193.1 417.9,194.9 416.0,194.0 414.2,191.2 412.4,187.6 411.9,185.7 414.2,183.0 414.7,180.3 415.6,178.4 414.2,175.7 411.0,174.8 407.8,174.8 407.4,171.1 407.8,167.4 407.4,162.9 407.4,158.8"/>
<polyline points="429.3,149.6 431.6,149.1 434.3,149.6 437.1,149.1 438.9,150.5 439.8,155.6 440.3,161.0 440.7,165.6 441.2,168.4 438.0,169.3 435.3,169.3 435.3,172.0 435.7,175.7 436.6,179.3 435.3,180.3 433.4,180.3 432.5,178.4 432.5,174.8 432.1,172.0 430.2,170.2 429.8,167.4 430.2,164.2 432.5,163.8 434.3,163.3 434.8,161.0 433.4,158.3 431.6,156.5 430.2,154.6 429.8,151.9 429.3,149.6"/>
<polyline points="389.9,110.0 390.8,117.9 394.1,122.2 396.3,120.1 398.1,122.2 396.6,125.9 396.3,132.6 401.5,134.7 405.7,130.4 407.9,132.6 411.2,136.8 413.7,141.1 414.1,137.4 414.0,131.6 416.1,133.5 419.1,137.4 421.6,142.6 424.6,144.8 427.4,143.2 424.0,138.0 423.1,133.8 424.9,132.0 420.4,128.6 416.1,126.8 412.7,127.1 410.0,129.5 407.0,128.6 406.0,125.2 404.8,119.1 403.3,113.0 403.6,110.0"/>
<polyline points="220.5,286.6 223.2,286.8 225.5,290.5 227.3,293.2 231.0,294.1 233.7,297.8 235.5,301.5 239.2,302.4 239.2,308.3 241.9,308.8 244.7,312.4 246.0,315.2 245.1,320.6 243.3,326.1 245.1,328.9 247.4,330.2 251.1,330.7 252.4,334.4 254.7,339.8 255.8,343.7"/>
</g>
<g fill="none" stroke="#000" stroke-width="3.2" stroke-linecap="round">
</g>
<ellipse cx="149.1" cy="139.1" rx="2.1" ry="3.9" transform="rotate(12 149.1 139.1)" fill="#000"/><line x1="148.3" y1="147.4" x2="146.1" y2="160.2" stroke="#000" stroke-width="4.3" stroke-linecap="round"/>
<polyline points="123.5,215.1 180.0,215.1 190.0,215.0 205.0,215.7 222.0,216.2 237.0,216.9 254.0,217.8 266.0,217.6 274.0,219.0 285.0,219.0 300.0,218.8 310.0,220.1 334.0,220.1 350.0,220.1 366.0,219.8 382.0,219.8 398.0,218.7 430.0,217.5 460.0,216.5 474.0,216.2 480.0,214.4 493.0,214.4 505.0,214.8 512.0,213.4 525.0,213.7 601.0,213.7 608.0,214.8 620.0,214.8 636.0,216.2 652.0,217.6 658.4,217.8" fill="none" stroke="#000" stroke-width="2.0" stroke-dasharray="7.6 8.3" stroke-dashoffset="0"/>
<g stroke="#262626" stroke-width="1" fill="none"><rect x="123.5" y="49.5" width="535.00" height="536.00"/><line x1="123.50" y1="585.5" x2="123.50" y2="580.1"/><line x1="123.50" y1="49.5" x2="123.50" y2="54.9"/><line x1="212.50" y1="585.5" x2="212.50" y2="580.1"/><line x1="212.50" y1="49.5" x2="212.50" y2="54.9"/><line x1="301.50" y1="585.5" x2="301.50" y2="580.1"/><line x1="301.50" y1="49.5" x2="301.50" y2="54.9"/><line x1="390.50" y1="585.5" x2="390.50" y2="580.1"/><line x1="390.50" y1="49.5" x2="390.50" y2="54.9"/><line x1="480.50" y1="585.5" x2="480.50" y2="580.1"/><line x1="480.50" y1="49.5" x2="480.50" y2="54.9"/><line x1="569.50" y1="585.5" x2="569.50" y2="580.1"/><line x1="569.50" y1="49.5" x2="569.50" y2="54.9"/><line x1="658.50" y1="585.5" x2="658.50" y2="580.1"/><line x1="658.50" y1="49.5" x2="658.50" y2="54.9"/><line x1="123.5" y1="585.50" x2="128.9" y2="585.50"/><line x1="658.5" y1="585.50" x2="653.1" y2="585.50"/><line x1="123.5" y1="518.50" x2="128.9" y2="518.50"/><line x1="658.5" y1="518.50" x2="653.1" y2="518.50"/><line x1="123.5" y1="451.50" x2="128.9" y2="451.50"/><line x1="658.5" y1="451.50" x2="653.1" y2="451.50"/><line x1="123.5" y1="384.50" x2="128.9" y2="384.50"/><line x1="658.5" y1="384.50" x2="653.1" y2="384.50"/><line x1="123.5" y1="317.50" x2="128.9" y2="317.50"/><line x1="658.5" y1="317.50" x2="653.1" y2="317.50"/><line x1="123.5" y1="250.50" x2="128.9" y2="250.50"/><line x1="658.5" y1="250.50" x2="653.1" y2="250.50"/><line x1="123.5" y1="183.50" x2="128.9" y2="183.50"/><line x1="658.5" y1="183.50" x2="653.1" y2="183.50"/><line x1="123.5" y1="116.50" x2="128.9" y2="116.50"/><line x1="658.5" y1="116.50" x2="653.1" y2="116.50"/><line x1="123.5" y1="49.50" x2="128.9" y2="49.50"/><line x1="658.5" y1="49.50" x2="653.1" y2="49.50"/></g>
<g font-family="Liberation Sans" font-size="21.4" fill="#262626"><text x="110.90" y="614.60">9</text><text x="122.80" y="614.60">0</text><path d="M202.10,614.60 L200.22,614.60 L200.22,602.66 L199.26,603.43 L197.97,604.22 L196.45,604.93 L196.45,603.11 L197.76,602.44 L198.93,601.63 L199.90,600.65 L200.60,599.28 L202.10,599.28Z"/><text x="206.02" y="614.60">0</text><text x="217.92" y="614.60">0</text><path d="M291.27,614.60 L289.38,614.60 L289.38,602.66 L288.42,603.43 L287.14,604.22 L285.62,604.93 L285.62,603.11 L286.92,602.44 L288.10,601.63 L289.06,600.65 L289.77,599.28 L291.27,599.28Z"/><path d="M303.17,614.60 L301.28,614.60 L301.28,602.66 L300.32,603.43 L299.04,604.22 L297.52,604.93 L297.52,603.11 L298.82,602.44 L300.00,601.63 L300.96,600.65 L301.67,599.28 L303.17,599.28Z"/><text x="307.08" y="614.60">0</text><path d="M380.43,614.60 L378.55,614.60 L378.55,602.66 L377.59,603.43 L376.30,604.22 L374.79,604.93 L374.79,603.11 L376.09,602.44 L377.27,601.63 L378.23,600.65 L378.94,599.28 L380.43,599.28Z"/><text x="384.35" y="614.60">2</text><text x="396.25" y="614.60">0</text><path d="M469.60,614.60 L467.72,614.60 L467.72,602.66 L466.76,603.43 L465.47,604.22 L463.95,604.93 L463.95,603.11 L465.26,602.44 L466.43,601.63 L467.40,600.65 L468.10,599.28 L469.60,599.28Z"/><text x="473.52" y="614.60">3</text><text x="485.42" y="614.60">0</text><path d="M558.77,614.60 L556.88,614.60 L556.88,602.66 L555.92,603.43 L554.64,604.22 L553.12,604.93 L553.12,603.11 L554.42,602.44 L555.60,601.63 L556.56,600.65 L557.27,599.28 L558.77,599.28Z"/><text x="562.68" y="614.60">4</text><text x="574.58" y="614.60">0</text><path d="M647.93,614.60 L646.05,614.60 L646.05,602.66 L645.09,603.43 L643.80,604.22 L642.28,604.93 L642.28,603.11 L643.59,602.44 L644.77,601.63 L645.73,600.65 L646.44,599.28 L647.93,599.28Z"/><text x="651.85" y="614.60">5</text><text x="663.75" y="614.60">0</text><text x="82.88" y="594.10">-</text><text x="90.00" y="594.10">2</text><text x="101.90" y="594.10">0</text><text x="82.88" y="527.10">-</text><path d="M97.99,527.10 L96.10,527.10 L96.10,515.16 L95.14,515.93 L93.86,516.72 L92.34,517.43 L92.34,515.61 L93.64,514.94 L94.82,514.13 L95.78,513.15 L96.49,511.78 L97.99,511.78Z"/><text x="101.90" y="527.10">5</text><text x="82.88" y="460.10">-</text><path d="M97.99,460.10 L96.10,460.10 L96.10,448.16 L95.14,448.93 L93.86,449.72 L92.34,450.43 L92.34,448.61 L93.64,447.94 L94.82,447.13 L95.78,446.15 L96.49,444.78 L97.99,444.78Z"/><text x="101.90" y="460.10">0</text><text x="94.78" y="393.10">-</text><text x="101.90" y="393.10">5</text><text x="101.90" y="326.10">0</text><text x="101.90" y="259.10">5</text><path d="M97.99,192.10 L96.10,192.10 L96.10,180.16 L95.14,180.93 L93.86,181.72 L92.34,182.43 L92.34,180.61 L93.64,179.94 L94.82,179.13 L95.78,178.15 L96.49,176.78 L97.99,176.78Z"/><text x="101.90" y="192.10">0</text><path d="M97.99,125.10 L96.10,125.10 L96.10,113.16 L95.14,113.93 L93.86,114.72 L92.34,115.43 L92.34,113.61 L93.64,112.94 L94.82,112.13 L95.78,111.15 L96.49,109.78 L97.99,109.78Z"/><text x="101.90" y="125.10">5</text><text x="90.00" y="58.10">2</text><text x="101.90" y="58.10">0</text></g>
<g shape-rendering="crispEdges"><rect x="697.5" y="577.125" width="42.00" height="8.675" fill="#00008f"/><rect x="697.5" y="568.750" width="42.00" height="8.675" fill="#00009f"/><rect x="697.5" y="560.375" width="42.00" height="8.675" fill="#0000af"/><rect x="697.5" y="552.000" width="42.00" height="8.675" fill="#0000bf"/><rect x="697.5" y="543.625" width="42.00" height="8.675" fill="#0000cf"/><rect x="697.5" y="535.250" width="42.00" height="8.675" fill="#0000df"/><rect x="697.5" y="526.875" width="42.00" height="8.675" fill="#0000ef"/><rect x="697.5" y="518.500" width="42.00" height="8.675" fill="#0000ff"/><rect x="697.5" y="510.125" width="42.00" height="8.675" fill="#0010ff"/><rect x="697.5" y="501.750" width="42.00" height="8.675" fill="#0020ff"/><rect x="697.5" y="493.375" width="42.00" height="8.675" fill="#0030ff"/><rect x="697.5" y="485.000" width="42.00" height="8.675" fill="#0040ff"/><rect x="697.5" y="476.625" width="42.00" height="8.675" fill="#0050ff"/><rect x="697.5" y="468.250" width="42.00" height="8.675" fill="#0060ff"/><rect x="697.5" y="459.875" width="42.00" height="8.675" fill="#0070ff"/><rect x="697.5" y="451.500" width="42.00" height="8.675" fill="#0080ff"/><rect x="697.5" y="443.125" width="42.00" height="8.675" fill="#008fff"/><rect x="697.5" y="434.750" width="42.00" height="8.675" fill="#009fff"/><rect x="697.5" y="426.375" width="42.00" height="8.675" fill="#00afff"/><rect x="697.5" y="418.000" width="42.00" height="8.675" fill="#00bfff"/><rect x="697.5" y="409.625" width="42.00" height="8.675" fill="#00cfff"/><rect x="697.5" y="401.250" width="42.00" height="8.675" fill="#00dfff"/><rect x="697.5" y="392.875" width="42.00" height="8.675" fill="#00efff"/><rect x="697.5" y="384.500" width="42.00" height="8.675" fill="#00ffff"/><rect x="697.5" y="376.125" width="42.00" height="8.675" fill="#10ffef"/><rect x="697.5" y="367.750" width="42.00" height="8.675" fill="#20ffdf"/><rect x="697.5" y="359.375" width="42.00" height="8.675" fill="#30ffcf"/><rect x="697.5" y="351.000" width="42.00" height="8.675" fill="#40ffbf"/><rect x="697.5" y="342.625" width="42.00" height="8.675" fill="#50ffaf"/><rect x="697.5" y="334.250" width="42.00" height="8.675" fill="#60ff9f"/><rect x="697.5" y="325.875" width="42.00" height="8.675" fill="#70ff8f"/><rect x="697.5" y="317.500" width="42.00" height="8.675" fill="#80ff80"/><rect x="697.5" y="309.125" width="42.00" height="8.675" fill="#8fff70"/><rect x="697.5" y="300.750" width="42.00" height="8.675" fill="#9fff60"/><rect x="697.5" y="292.375" width="42.00" height="8.675" fill="#afff50"/><rect x="697.5" y="284.000" width="42.00" height="8.675" fill="#bfff40"/><rect x="697.5" y="275.625" width="42.00" height="8.675" fill="#cfff30"/><rect x="697.5" y="267.250" width="42.00" height="8.675" fill="#dfff20"/><rect x="697.5" y="258.875" width="42.00" height="8.675" fill="#efff10"/><rect x="697.5" y="250.500" width="42.00" height="8.675" fill="#ffff00"/><rect x="697.5" y="242.125" width="42.00" height="8.675" fill="#ffef00"/><rect x="697.5" y="233.750" width="42.00" height="8.675" fill="#ffdf00"/><rect x="697.5" y="225.375" width="42.00" height="8.675" fill="#ffcf00"/><rect x="697.5" y="217.000" width="42.00" height="8.675" fill="#ffbf00"/><rect x="697.5" y="208.625" width="42.00" height="8.675" fill="#ffaf00"/><rect x="697.5" y="200.250" width="42.00" height="8.675" fill="#ff9f00"/><rect x="697.5" y="191.875" width="42.00" height="8.675" fill="#ff8f00"/><rect x="697.5" y="183.500" width="42.00" height="8.675" fill="#ff8000"/><rect x="697.5" y="175.125" width="42.00" height="8.675" fill="#ff7000"/><rect x="697.5" y="166.750" width="42.00" height="8.675" fill="#ff6000"/><rect x="697.5" y="158.375" width="42.00" height="8.675" fill="#ff5000"/><rect x="697.5" y="150.000" width="42.00" height="8.675" fill="#ff4000"/><rect x="697.5" y="141.625" width="42.00" height="8.675" fill="#ff3000"/><rect x="697.5" y="133.250" width="42.00" height="8.675" fill="#ff2000"/><rect x="697.5" y="124.875" width="42.00" height="8.675" fill="#ff1000"/><rect x="697.5" y="116.500" width="42.00" height="8.675" fill="#ff0000"/><rect x="697.5" y="108.125" width="42.00" height="8.675" fill="#ef0000"/><rect x="697.5" y="99.750" width="42.00" height="8.675" fill="#df0000"/><rect x="697.5" y="91.375" width="42.00" height="8.675" fill="#cf0000"/><rect x="697.5" y="83.000" width="42.00" height="8.675" fill="#bf0000"/><rect x="697.5" y="74.625" width="42.00" height="8.675" fill="#af0000"/><rect x="697.5" y="66.250" width="42.00" height="8.675" fill="#9f0000"/><rect x="697.5" y="57.875" width="42.00" height="8.675" fill="#8f0000"/><rect x="697.5" y="49.500" width="42.00" height="8.675" fill="#800000"/></g><g stroke="#262626" stroke-width="1" fill="none"><rect x="697.5" y="49.5" width="42.00" height="536.00"/><line x1="739.5" y1="585.50" x2="734.1" y2="585.50"/><line x1="739.5" y1="531.50" x2="734.1" y2="531.50"/><line x1="739.5" y1="478.50" x2="734.1" y2="478.50"/><line x1="739.5" y1="424.50" x2="734.1" y2="424.50"/><line x1="739.5" y1="371.50" x2="734.1" y2="371.50"/><line x1="739.5" y1="317.50" x2="734.1" y2="317.50"/><line x1="739.5" y1="263.50" x2="734.1" y2="263.50"/><line x1="739.5" y1="210.50" x2="734.1" y2="210.50"/><line x1="739.5" y1="156.50" x2="734.1" y2="156.50"/><line x1="739.5" y1="103.50" x2="734.1" y2="103.50"/><line x1="739.5" y1="49.50" x2="734.1" y2="49.50"/></g><g font-family="Liberation Sans" font-size="19.5" fill="#262626"><text x="747.00" y="593.30">0</text><path d="M754.27,539.70 L752.56,539.70 L752.56,528.82 L751.68,529.52 L750.51,530.24 L749.13,530.89 L749.13,529.23 L750.32,528.62 L751.39,527.88 L752.26,526.99 L752.91,525.74 L754.27,525.74Z"/><text x="757.84" y="539.70">0</text><text x="747.00" y="486.10">2</text><text x="757.84" y="486.10">0</text><text x="747.00" y="432.50">3</text><text x="757.84" y="432.50">0</text><text x="747.00" y="378.90">4</text><text x="757.84" y="378.90">0</text><text x="747.00" y="325.30">5</text><text x="757.84" y="325.30">0</text><text x="747.00" y="271.70">6</text><text x="757.84" y="271.70">0</text><text x="747.00" y="218.10">7</text><text x="757.84" y="218.10">0</text><text x="747.00" y="164.50">8</text><text x="757.84" y="164.50">0</text><text x="747.00" y="110.90">9</text><text x="757.84" y="110.90">0</text><path d="M754.27,57.30 L752.56,57.30 L752.56,46.42 L751.68,47.12 L750.51,47.84 L749.13,48.49 L749.13,46.83 L750.32,46.22 L751.39,45.48 L752.26,44.59 L752.91,43.34 L754.27,43.34Z"/><text x="757.84" y="57.30">0</text><text x="768.68" y="57.30">0</text></g>
<text x="390" y="40.2" text-anchor="middle" font-family="Liberation Sans" font-weight="bold" font-size="23" fill="#000">07-Jan-2025; 00:00 UT</text>
<g font-family="Liberation Sans" font-size="23.1" fill="#262626"><text x="287.8" y="646">Geographic Lon. (</text><text x="491.6" y="646" text-anchor="end">)</text></g><circle cx="477.4" cy="633.7" r="3.1" fill="none" stroke="#262626" stroke-width="1"/>
<g font-family="Liberation Sans" font-size="23.1" fill="#262626"><text transform="translate(70.9,415.4) rotate(-90)">Geographic Lat. (</text><text transform="translate(70.9,218.4) rotate(-90)" text-anchor="end">)</text></g><circle cx="58.6" cy="232.3" r="3.1" fill="none" stroke="#262626" stroke-width="1"/>
<text transform="translate(805,447.6) rotate(-90)" font-family="Liberation Sans" font-size="19.4" fill="#262626">Total Electron Content (TECU)</text>
</svg></body></html>
